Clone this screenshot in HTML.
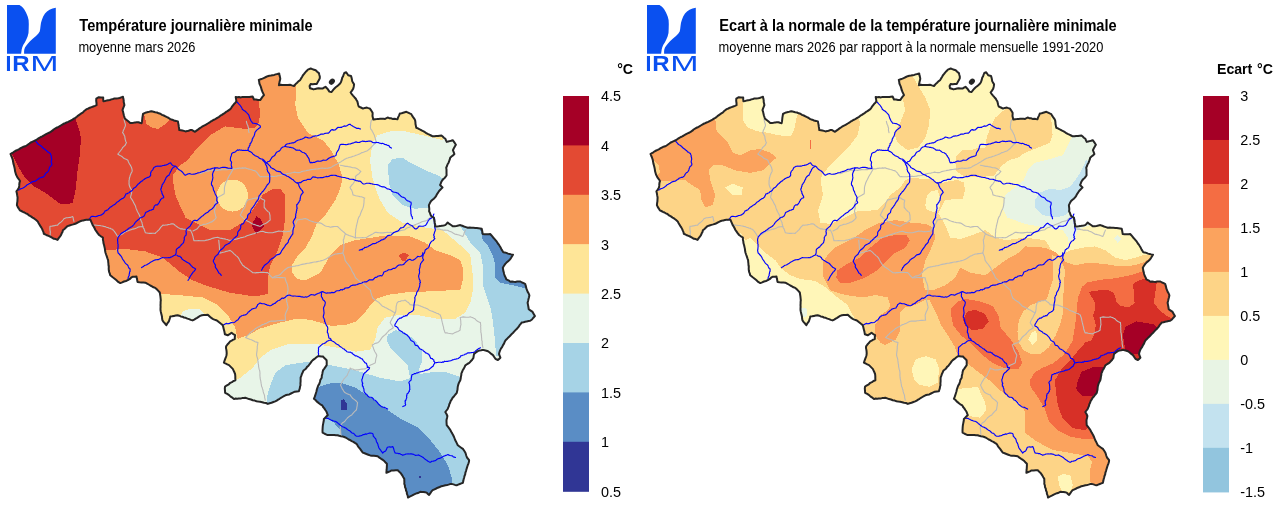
<!DOCTYPE html>
<html><head><meta charset="utf-8"><title>IRM - Température journalière minimale</title>
<style>html,body{margin:0;padding:0;background:#fff;}body{width:1280px;height:507px;overflow:hidden;}svg{display:block;}</style>
</head><body>
<svg width="1280" height="507" viewBox="0 0 1280 507"><rect width="1280" height="507" fill="#fff"/><g transform="translate(0,0)" fill="#0a50f0"><path d="M7.0,5.0 L19.5,5.0 L22.0,6.8 L24.0,9.0 L26.0,12.5 L27.7,16.5 L28.6,20.0 L28.8,24.0 L28.7,28.5 L28.5,33.0 L27.6,36.5 L26.2,39.7 L24.8,42.5 L23.2,45.0 L22.3,47.2 L21.7,49.5 L21.1,53.8 L7.0,53.8Z"/><path d="M55.8,7.8 L55.8,53.8 L24.1,53.8 L24.1,51.3 L24.3,49.5 L25.0,47.5 L26.2,45.7 L28.0,43.4 L30.0,41.2 L33.0,38.6 L36.0,36.0 L38.2,33.8 L39.7,31.5 L40.2,29.0 L40.5,26.2 L41.0,22.7 L42.0,19.5 L43.3,16.3 L45.0,13.5 L47.0,11.4 L49.5,9.7 L52.5,8.5Z"/><text x="5.46" y="70.9" font-family="'Liberation Sans', Arial, Helvetica, sans-serif" font-size="21.5px" font-weight="bold">I</text><text transform="translate(12.19,70.9) scale(1.118,1)" font-family="'Liberation Sans', Arial, Helvetica, sans-serif" font-size="21.5px" font-weight="bold">R</text><text transform="translate(30.31,70.9) scale(1.58,1)" font-family="'Liberation Sans', Arial, Helvetica, sans-serif" font-size="21.5px">M</text></g><g transform="translate(640,0)" fill="#0a50f0"><path d="M7.0,5.0 L19.5,5.0 L22.0,6.8 L24.0,9.0 L26.0,12.5 L27.7,16.5 L28.6,20.0 L28.8,24.0 L28.7,28.5 L28.5,33.0 L27.6,36.5 L26.2,39.7 L24.8,42.5 L23.2,45.0 L22.3,47.2 L21.7,49.5 L21.1,53.8 L7.0,53.8Z"/><path d="M55.8,7.8 L55.8,53.8 L24.1,53.8 L24.1,51.3 L24.3,49.5 L25.0,47.5 L26.2,45.7 L28.0,43.4 L30.0,41.2 L33.0,38.6 L36.0,36.0 L38.2,33.8 L39.7,31.5 L40.2,29.0 L40.5,26.2 L41.0,22.7 L42.0,19.5 L43.3,16.3 L45.0,13.5 L47.0,11.4 L49.5,9.7 L52.5,8.5Z"/><text x="5.46" y="70.9" font-family="'Liberation Sans', Arial, Helvetica, sans-serif" font-size="21.5px" font-weight="bold">I</text><text transform="translate(12.19,70.9) scale(1.118,1)" font-family="'Liberation Sans', Arial, Helvetica, sans-serif" font-size="21.5px" font-weight="bold">R</text><text transform="translate(30.31,70.9) scale(1.58,1)" font-family="'Liberation Sans', Arial, Helvetica, sans-serif" font-size="21.5px">M</text></g><text transform="translate(79.3,31.0) scale(1,1.107)" font-family="'Liberation Sans', Arial, Helvetica, sans-serif" font-size="14.6px" font-weight="bold" fill="#000">Température journalière minimale</text><text transform="translate(78.4,51.8) scale(1,1.07)" font-family="'Liberation Sans', Arial, Helvetica, sans-serif" font-size="12.85px" fill="#000">moyenne mars 2026</text><text transform="translate(719.3,31.0) scale(1,1.107)" font-family="'Liberation Sans', Arial, Helvetica, sans-serif" font-size="14.6px" font-weight="bold" fill="#000">Ecart à la normale de la température journalière minimale</text><text transform="translate(718.6,51.8) scale(1,1.07)" font-family="'Liberation Sans', Arial, Helvetica, sans-serif" font-size="12.85px" fill="#000">moyenne mars 2026 par rapport à la normale mensuelle 1991-2020</text><g transform="translate(0,0)"><clipPath id="clipL"><path d="M10.5,154.0 L11.9,153.1 L13.4,152.3 L14.7,151.3 L16.2,150.5 L17.7,149.9 L19.2,149.1 L20.6,148.2 L22.1,147.5 L23.5,146.7 L25.2,146.3 L26.6,145.5 L28.0,144.5 L29.4,143.5 L30.7,142.5 L32.2,141.8 L33.7,141.1 L35.3,140.5 L36.7,139.6 L38.0,138.7 L39.4,137.8 L40.8,137.0 L42.3,136.3 L43.8,135.5 L45.2,134.7 L46.6,133.9 L48.1,133.2 L49.6,132.5 L51.0,131.6 L52.4,130.7 L53.6,129.5 L55.0,128.7 L56.4,127.8 L58.0,127.2 L59.4,126.4 L60.8,125.5 L62.2,124.7 L63.6,123.8 L65.1,123.2 L66.6,122.5 L68.2,121.9 L69.6,121.1 L71.1,120.3 L72.5,119.6 L73.9,118.7 L75.4,117.9 L76.8,116.8 L78.2,115.6 L79.6,114.6 L81.1,113.5 L82.7,112.7 L83.9,111.3 L85.2,110.2 L86.7,109.1 L88.4,108.5 L89.9,107.7 L91.6,107.1 L93.3,106.5 L95.0,105.9 L96.6,105.2 L96.5,103.0 L96.2,100.8 L96.3,98.6 L98.8,97.2 L101.0,97.4 L103.2,97.6 L103.2,99.5 L103.4,101.2 L104.9,101.0 L106.5,100.6 L108.2,100.3 L109.8,100.0 L111.4,99.4 L113.0,99.0 L114.6,98.4 L116.3,98.5 L118.0,98.3 L119.6,98.0 L121.2,97.4 L123.0,96.8 L123.3,98.6 L123.7,100.3 L123.7,102.0 L124.1,103.5 L124.4,105.1 L123.8,106.7 L123.1,108.4 L122.5,110.1 L123.1,111.9 L123.5,113.7 L123.9,115.5 L124.5,117.3 L125.2,118.9 L127.0,120.2 L128.6,121.5 L130.2,122.9 L131.9,123.0 L133.5,122.8 L135.2,122.4 L136.8,122.3 L138.4,122.3 L139.9,122.8 L141.6,123.2 L142.0,121.4 L142.2,119.5 L142.4,117.6 L142.7,115.8 L143.0,114.0 L144.5,113.2 L146.2,112.4 L148.0,112.1 L149.8,111.6 L151.6,111.3 L153.4,111.7 L155.2,112.2 L157.0,112.5 L158.7,113.3 L160.4,113.8 L162.0,114.9 L163.8,115.5 L165.4,116.3 L167.1,117.2 L168.7,118.0 L170.3,119.1 L172.2,119.7 L174.0,120.5 L175.9,120.9 L177.9,121.4 L178.2,123.1 L178.6,124.9 L178.8,126.7 L179.1,128.4 L179.3,130.1 L180.9,130.2 L182.4,130.5 L183.9,130.9 L185.5,131.4 L187.1,131.1 L188.6,130.7 L190.1,130.1 L191.7,129.9 L193.3,130.8 L195.0,131.8 L196.5,130.6 L197.9,129.6 L199.2,128.6 L200.6,127.7 L202.0,126.7 L203.5,125.9 L205.0,125.2 L206.4,124.4 L207.8,123.5 L209.2,122.7 L210.5,121.7 L212.0,120.9 L213.3,120.0 L214.8,119.3 L216.2,118.5 L217.7,117.7 L219.1,116.8 L220.4,115.7 L221.9,114.9 L223.3,113.9 L224.7,113.1 L226.0,111.9 L227.5,111.1 L228.9,110.1 L230.3,109.1 L231.3,107.8 L232.2,106.4 L233.2,105.1 L234.2,103.8 L235.4,102.7 L236.4,101.4 L236.1,99.3 L235.7,97.1 L237.4,97.3 L239.0,97.1 L240.8,97.4 L242.4,97.0 L244.2,97.0 L245.9,96.9 L247.6,97.0 L249.3,97.0 L250.9,96.7 L252.6,96.5 L253.3,98.0 L254.0,99.5 L256.0,99.6 L258.1,99.9 L260.2,100.1 L261.4,98.4 L262.6,96.7 L264.0,95.1 L263.2,93.4 L262.4,91.7 L261.7,90.0 L261.3,88.4 L260.8,86.7 L260.1,85.1 L259.4,83.5 L259.2,81.7 L258.8,79.9 L260.7,79.2 L262.5,78.6 L264.2,77.8 L265.9,77.0 L267.7,76.2 L269.3,75.7 L270.9,75.5 L272.5,75.2 L274.2,74.9 L275.7,74.4 L277.4,74.0 L279.2,73.5 L279.5,75.4 L280.0,77.1 L280.3,78.8 L279.9,80.4 L279.5,81.9 L279.3,83.5 L278.9,85.2 L280.9,84.8 L282.5,84.9 L284.3,84.9 L286.0,84.9 L287.8,84.9 L290.0,84.8 L291.9,85.4 L294.0,86.0 L295.4,84.3 L297.1,82.8 L298.4,81.4 L300.0,80.2 L301.1,78.4 L302.0,77.0 L302.8,75.5 L303.9,74.2 L304.9,72.9 L306.4,71.2 L307.9,69.6 L310.7,68.5 L312.3,69.1 L314.0,69.7 L315.7,70.3 L317.2,71.8 L318.9,73.1 L319.3,74.8 L319.8,76.5 L319.8,78.2 L319.1,79.8 L318.2,81.3 L316.7,83.9 L314.7,84.0 L312.7,84.2 L310.6,84.1 L309.6,86.0 L310.0,88.2 L311.8,88.8 L313.7,89.4 L315.3,88.9 L317.0,88.6 L318.6,88.3 L320.6,88.5 L322.5,88.6 L324.0,87.7 L325.5,86.8 L327.4,88.7 L328.4,90.1 L329.4,91.6 L331.4,92.1 L332.4,90.9 L333.4,89.6 L334.7,88.2 L336.0,87.0 L337.6,85.9 L338.8,84.7 L340.1,83.5 L341.0,82.0 L341.7,79.9 L342.2,77.8 L343.1,76.2 L343.7,74.5 L344.3,73.0 L346.2,72.3 L347.2,73.8 L348.2,75.3 L351.0,75.9 L351.5,77.6 L351.9,79.3 L352.2,81.1 L353.0,82.6 L354.1,84.2 L353.8,86.4 L353.2,88.7 L352.0,90.6 L350.6,92.5 L351.8,94.1 L353.0,95.6 L354.4,97.2 L355.8,98.7 L356.6,100.2 L357.4,101.6 L357.8,103.2 L358.2,105.0 L358.8,106.6 L360.9,107.5 L363.0,108.6 L364.9,107.9 L366.9,107.6 L368.4,108.1 L369.8,108.5 L370.8,109.9 L371.7,111.2 L372.6,112.7 L372.6,114.4 L372.5,116.0 L372.9,117.8 L373.3,119.6 L375.2,119.2 L376.8,119.1 L378.5,118.9 L380.1,118.8 L381.8,118.8 L383.4,118.8 L385.1,118.9 L387.6,117.5 L389.3,118.2 L390.9,118.3 L392.5,118.9 L394.3,118.8 L395.9,119.1 L397.4,119.3 L398.1,117.4 L399.0,115.6 L399.8,113.6 L401.6,113.3 L403.2,112.8 L404.8,112.3 L406.4,111.8 L408.1,112.6 L409.7,113.4 L411.3,114.1 L412.1,115.6 L413.1,117.1 L414.2,118.6 L415.1,120.2 L415.4,122.1 L415.5,124.0 L415.9,125.9 L416.3,127.8 L417.9,128.4 L419.3,129.2 L420.7,129.8 L422.1,130.7 L423.6,131.4 L425.0,132.2 L426.3,133.1 L427.7,133.9 L429.4,134.7 L431.1,135.5 L432.7,136.3 L434.5,136.3 L436.2,136.1 L438.0,136.0 L439.7,135.7 L441.4,135.5 L442.7,136.6 L443.9,137.7 L445.4,138.8 L446.0,140.4 L446.7,141.9 L448.1,141.5 L449.6,141.1 L451.1,140.7 L452.7,140.2 L453.8,141.7 L454.9,143.2 L455.9,144.7 L455.1,146.0 L454.3,147.4 L453.6,148.8 L452.9,150.2 L453.7,152.1 L454.4,154.1 L453.0,155.4 L451.5,156.5 L450.2,157.7 L449.8,159.4 L449.2,161.0 L448.6,162.7 L447.6,164.2 L447.0,166.0 L446.2,167.7 L446.5,169.7 L446.5,171.6 L446.5,173.4 L446.6,175.3 L445.7,176.7 L444.7,177.9 L443.4,179.0 L442.3,180.2 L441.4,181.7 L440.8,183.4 L440.1,185.0 L441.3,186.3 L442.5,187.5 L441.4,188.6 L440.3,189.7 L439.2,190.9 L438.3,192.2 L437.4,193.6 L436.3,195.6 L435.1,197.4 L433.8,198.7 L432.5,199.8 L431.1,201.1 L429.9,203.1 L428.9,205.1 L429.1,207.2 L429.3,209.2 L429.1,211.3 L430.0,212.9 L430.5,214.7 L431.4,216.3 L433.9,217.6 L434.1,219.4 L434.6,221.1 L434.8,222.9 L435.2,224.5 L435.1,226.5 L436.8,226.4 L438.6,226.3 L440.2,226.1 L441.9,225.7 L443.6,225.5 L445.2,225.1 L446.5,223.9 L447.7,222.5 L449.4,223.9 L451.1,225.0 L452.7,226.3 L454.6,226.2 L456.5,225.9 L458.4,225.5 L460.3,225.1 L462.2,225.8 L464.0,226.5 L465.9,227.1 L467.8,227.7 L469.7,227.6 L471.6,227.7 L473.4,227.8 L475.3,227.9 L476.8,228.1 L478.4,228.3 L480.1,228.5 L481.7,228.8 L482.1,230.5 L482.4,232.2 L482.7,234.0 L484.6,234.2 L486.6,234.2 L488.4,234.2 L490.2,234.0 L491.3,235.2 L492.3,236.4 L493.3,237.7 L494.4,238.8 L495.5,240.1 L496.8,241.7 L497.9,243.5 L499.2,245.1 L500.0,246.6 L500.9,248.1 L501.6,249.6 L502.5,250.9 L503.3,252.2 L504.8,252.5 L506.4,252.9 L508.0,253.6 L509.6,254.0 L511.2,254.4 L513.0,254.7 L512.1,256.1 L511.3,257.5 L510.4,258.9 L509.2,260.2 L507.8,261.4 L506.5,262.6 L505.3,263.9 L504.0,265.8 L502.8,267.7 L503.1,269.3 L503.3,270.9 L503.8,272.4 L504.1,274.0 L504.7,275.8 L505.6,277.4 L506.3,279.3 L508.5,280.3 L510.3,281.7 L512.0,281.6 L513.7,281.8 L515.4,281.9 L517.1,281.6 L518.7,281.6 L520.4,281.5 L522.0,282.5 L523.7,283.2 L525.3,284.1 L525.6,285.6 L526.1,287.1 L526.4,288.7 L527.0,290.2 L527.7,291.9 L528.7,293.5 L529.4,295.3 L529.0,297.2 L528.5,299.0 L528.1,300.9 L527.6,302.8 L528.0,304.9 L528.4,307.0 L528.7,309.2 L530.7,310.6 L532.6,311.9 L533.7,313.9 L534.9,316.1 L533.4,317.7 L532.0,319.5 L530.2,320.8 L528.5,321.1 L526.8,321.4 L525.1,321.8 L523.5,322.2 L521.7,322.6 L520.7,323.9 L519.6,325.2 L518.8,326.6 L517.7,327.8 L516.7,329.0 L515.5,330.1 L514.3,331.4 L513.1,332.7 L511.8,333.9 L510.6,335.2 L509.4,336.5 L508.1,337.7 L506.9,339.1 L505.6,340.3 L504.7,341.8 L504.0,343.6 L503.0,345.1 L502.2,346.9 L501.1,348.4 L500.2,350.1 L499.5,352.0 L499.0,353.9 L499.7,355.8 L500.4,357.7 L499.1,358.9 L497.9,360.0 L495.4,358.8 L494.2,357.0 L493.0,355.1 L491.3,353.9 L489.7,352.5 L488.0,351.3 L486.4,350.7 L484.6,350.3 L482.9,349.9 L481.2,350.3 L479.4,350.6 L477.8,351.1 L475.9,352.5 L474.1,353.9 L473.7,355.9 L473.4,358.0 L472.2,359.7 L470.7,361.3 L469.3,362.9 L467.3,364.0 L465.4,365.3 L464.6,367.0 L463.8,368.6 L462.7,370.2 L462.2,371.8 L461.4,373.4 L461.3,375.1 L460.9,376.8 L460.7,378.5 L460.3,380.2 L459.5,381.7 L458.8,383.2 L458.2,384.9 L457.8,386.5 L457.6,388.1 L457.5,389.7 L457.1,391.3 L456.8,392.9 L455.4,394.5 L454.1,396.2 L452.6,397.7 L451.8,399.4 L450.7,400.9 L450.1,402.7 L449.3,404.2 L449.0,405.9 L448.3,407.4 L447.7,409.0 L446.5,410.5 L445.3,412.0 L446.5,414.0 L447.4,416.0 L447.0,418.0 L446.5,420.0 L446.5,421.7 L446.6,423.4 L446.7,425.1 L447.9,426.7 L449.2,428.4 L450.4,430.1 L451.2,431.8 L452.2,433.4 L453.1,435.0 L453.9,436.7 L454.6,438.5 L455.3,440.3 L456.2,441.9 L457.0,443.6 L457.8,445.3 L459.5,446.5 L461.2,447.7 L462.9,448.9 L464.2,450.8 L465.4,452.7 L465.9,454.3 L466.4,456.0 L467.0,457.5 L468.1,458.8 L469.1,460.2 L469.0,461.8 L468.5,463.3 L467.9,464.8 L467.4,466.3 L466.9,467.9 L466.4,469.5 L466.0,471.1 L465.4,472.7 L465.2,474.4 L464.5,476.0 L464.1,477.7 L463.6,479.4 L463.3,481.1 L462.9,482.8 L461.4,483.4 L459.8,484.0 L458.2,484.6 L456.7,485.2 L455.0,484.9 L453.4,484.4 L451.7,483.9 L450.1,484.1 L448.5,484.6 L447.0,485.0 L445.4,485.3 L443.5,485.8 L441.5,486.2 L439.7,487.0 L437.8,487.7 L436.2,488.5 L434.5,489.3 L432.7,490.1 L431.3,491.7 L430.2,493.4 L429.1,495.0 L427.9,494.0 L426.7,492.6 L425.1,492.2 L423.5,491.9 L421.9,491.9 L420.3,491.8 L418.7,492.7 L417.0,493.2 L415.3,493.9 L413.7,494.6 L412.3,495.4 L410.7,496.2 L409.3,496.8 L408.0,497.5 L407.7,495.6 L406.9,493.9 L406.8,492.1 L406.0,490.5 L405.8,488.8 L405.0,487.1 L404.9,485.4 L404.3,483.9 L404.4,482.2 L404.3,480.6 L404.3,478.9 L403.3,477.3 L402.4,475.6 L401.4,474.1 L400.3,472.7 L399.0,471.6 L397.8,470.3 L395.7,470.3 L393.6,470.5 L391.5,470.4 L389.9,471.3 L388.2,472.0 L386.4,472.8 L386.5,471.0 L386.7,469.2 L386.8,467.5 L386.9,465.7 L386.9,463.8 L385.6,462.5 L384.3,461.1 L382.9,459.9 L381.1,458.8 L379.4,457.6 L377.7,456.3 L375.9,456.0 L373.9,455.8 L372.0,455.7 L370.2,455.4 L368.3,454.7 L366.4,454.0 L364.6,453.3 L362.8,452.6 L361.5,450.8 L360.1,448.9 L358.8,447.3 L357.6,445.6 L356.5,443.8 L354.9,442.8 L353.4,441.8 L351.7,441.1 L350.2,440.2 L348.7,439.5 L347.2,438.5 L345.8,437.7 L344.2,437.0 L342.6,436.4 L340.9,436.2 L339.2,435.8 L337.6,435.2 L335.9,435.2 L334.3,435.0 L332.6,435.1 L330.9,434.9 L329.3,434.9 L327.6,435.1 L325.9,434.3 L324.2,433.5 L322.6,432.6 L322.5,430.8 L322.6,428.9 L322.7,427.0 L322.9,425.1 L323.2,423.6 L323.5,422.0 L323.8,420.5 L323.9,418.9 L325.3,417.7 L326.4,416.4 L327.8,415.1 L327.1,413.4 L326.4,411.5 L325.3,410.0 L324.3,408.4 L323.1,407.0 L322.3,405.4 L320.3,404.3 L318.6,402.9 L316.9,401.6 L315.5,400.0 L313.9,398.8 L314.7,396.9 L315.3,395.1 L315.9,393.2 L316.5,391.3 L316.9,389.3 L317.5,387.5 L318.2,385.6 L319.3,383.9 L319.9,382.0 L320.3,380.1 L321.7,377.7 L321.8,375.7 L322.3,373.9 L322.6,372.1 L323.1,370.2 L324.3,368.6 L325.5,366.9 L326.7,365.2 L326.7,363.5 L326.7,361.9 L326.6,360.2 L325.4,359.0 L324.1,357.8 L323.0,356.5 L321.3,356.4 L319.6,356.2 L317.9,356.2 L316.2,357.5 L314.5,358.9 L312.8,360.1 L311.6,361.4 L310.6,362.9 L309.5,364.3 L308.5,365.8 L307.1,366.9 L306.1,368.4 L304.9,369.5 L303.5,370.5 L302.7,372.3 L301.9,374.0 L301.3,375.9 L300.6,377.7 L300.6,379.6 L300.6,381.4 L300.4,383.3 L300.5,385.2 L300.0,386.8 L299.8,388.4 L299.3,389.8 L298.9,391.3 L296.8,391.4 L294.8,391.7 L292.8,392.6 L291.0,393.5 L289.3,394.4 L287.3,394.8 L285.4,395.3 L283.9,396.1 L282.4,397.0 L281.0,397.8 L279.6,398.8 L278.1,399.6 L276.7,400.6 L275.2,401.4 L273.4,402.0 L271.5,402.7 L269.6,403.2 L267.8,403.9 L266.0,403.0 L264.1,402.7 L262.2,402.2 L260.2,401.8 L258.3,401.6 L256.5,401.2 L254.7,400.6 L252.8,400.2 L251.0,399.5 L249.0,399.1 L247.2,398.4 L245.3,397.8 L243.7,398.0 L242.1,398.1 L240.5,398.6 L238.8,398.4 L237.2,398.7 L235.6,398.5 L234.0,399.1 L232.4,397.7 L230.6,396.6 L229.1,395.1 L227.2,393.9 L225.1,392.8 L225.0,390.8 L224.8,388.5 L225.1,386.5 L226.9,385.3 L228.8,384.3 L230.3,382.8 L232.0,382.1 L233.5,381.0 L235.4,380.3 L235.3,378.2 L235.3,376.1 L235.1,374.0 L234.4,372.3 L233.6,370.6 L232.8,368.9 L231.5,367.6 L230.3,366.4 L229.0,365.1 L227.3,364.4 L225.7,363.5 L223.9,362.7 L224.5,360.8 L225.2,358.9 L225.9,357.1 L226.5,355.2 L226.7,353.5 L226.6,351.7 L226.4,349.9 L226.0,348.1 L226.1,346.3 L227.4,344.5 L228.9,343.0 L230.1,341.3 L231.7,340.6 L233.2,339.7 L234.8,339.0 L234.8,337.0 L235.1,335.1 L233.2,334.1 L231.5,332.7 L229.6,334.2 L227.7,335.3 L224.9,334.3 L224.5,332.1 L224.0,330.1 L223.6,328.4 L223.2,326.7 L222.7,325.1 L221.0,323.8 L219.4,322.5 L217.8,321.2 L216.2,320.2 L214.4,319.6 L212.7,318.8 L211.0,317.7 L209.4,316.2 L207.8,314.7 L205.8,314.9 L203.8,315.0 L201.9,315.3 L200.1,315.9 L198.6,316.8 L197.1,317.8 L195.7,318.6 L194.2,319.6 L192.6,320.4 L190.8,319.9 L189.1,319.1 L187.4,318.6 L185.7,317.8 L183.9,317.5 L182.4,316.7 L180.7,316.4 L179.2,315.7 L177.6,315.2 L175.7,315.5 L173.9,315.9 L172.1,316.3 L170.3,316.5 L169.9,318.1 L169.4,319.7 L168.9,321.3 L167.5,323.2 L166.3,325.1 L165.0,323.5 L163.5,321.9 L162.4,320.2 L162.1,318.5 L162.0,316.7 L161.6,315.0 L161.2,313.4 L160.8,311.7 L160.5,310.0 L160.5,308.4 L160.6,306.8 L160.5,305.1 L160.6,303.5 L160.6,301.9 L160.8,300.3 L160.6,298.4 L160.4,296.4 L160.1,294.5 L159.8,292.5 L158.3,290.9 L156.8,289.3 L155.3,287.9 L153.5,287.3 L152.0,286.3 L150.3,285.5 L148.7,284.5 L147.1,283.6 L145.4,282.7 L143.5,282.6 L141.5,282.5 L139.5,282.3 L137.5,281.9 L137.2,280.0 L136.8,278.3 L136.5,276.6 L134.7,276.7 L132.9,276.7 L131.1,277.7 L129.6,279.2 L127.8,280.2 L126.0,281.0 L124.0,281.5 L122.2,282.4 L120.3,283.1 L118.2,281.9 L116.5,280.3 L115.3,279.3 L114.0,278.2 L112.7,277.3 L111.5,276.3 L110.2,275.3 L109.8,273.6 L109.1,271.9 L108.8,270.2 L108.7,268.5 L108.8,266.8 L108.5,265.2 L108.4,263.5 L108.2,261.8 L108.1,260.1 L107.4,258.3 L106.8,256.4 L106.1,254.5 L105.5,252.7 L105.1,250.8 L104.9,248.9 L104.5,247.1 L104.1,245.2 L103.5,243.3 L103.3,241.4 L102.9,239.6 L102.9,237.5 L100.9,236.3 L99.1,235.0 L97.8,233.4 L96.6,231.7 L95.4,230.0 L94.6,228.3 L93.8,226.7 L92.7,225.1 L92.0,223.4 L91.2,221.6 L90.4,219.7 L88.4,219.8 L86.5,219.8 L84.9,220.1 L83.3,220.4 L81.7,220.8 L80.1,221.3 L78.5,222.1 L76.8,223.0 L75.2,223.8 L73.3,224.4 L71.4,224.9 L69.5,225.5 L67.6,226.1 L66.0,227.6 L64.5,229.0 L62.9,230.3 L62.5,231.9 L61.7,233.3 L61.1,234.9 L60.1,236.3 L58.7,238.1 L57.5,239.9 L55.8,239.1 L53.9,238.8 L52.0,237.6 L50.0,236.5 L48.5,235.9 L46.9,235.3 L45.5,234.5 L43.9,233.9 L43.5,232.2 L42.8,230.7 L42.2,229.1 L41.4,227.6 L40.4,226.1 L39.4,224.5 L38.5,223.0 L37.7,221.4 L36.1,220.0 L34.4,218.7 L32.6,217.6 L30.9,216.4 L29.0,215.4 L27.5,214.0 L25.9,213.3 L24.5,212.5 L22.9,211.8 L21.4,211.0 L19.8,210.3 L18.8,208.6 L17.7,206.9 L16.9,205.1 L17.1,203.2 L17.4,201.3 L17.5,199.4 L17.6,197.5 L17.2,195.4 L16.9,193.4 L16.4,191.3 L17.8,189.5 L19.0,187.5 L19.2,185.9 L19.3,184.2 L19.5,182.6 L20.0,181.0 L18.9,179.3 L17.6,177.7 L16.8,176.1 L16.0,174.5 L15.5,172.7 L15.0,171.0 L14.8,169.1 L14.4,167.2 L13.9,165.3 L13.4,163.6 L13.1,161.8 L12.8,160.0 L12.3,158.5 L11.8,157.0 L11.1,155.5Z"/></clipPath><g clip-path="url(#clipL)" shape-rendering="crispEdges"><path d="M10.5,154.0 L11.9,153.1 L13.4,152.3 L14.7,151.3 L16.2,150.5 L17.7,149.9 L19.2,149.1 L20.6,148.2 L22.1,147.5 L23.5,146.7 L25.2,146.3 L26.6,145.5 L28.0,144.5 L29.4,143.5 L30.7,142.5 L32.2,141.8 L33.7,141.1 L35.3,140.5 L36.7,139.6 L38.0,138.7 L39.4,137.8 L40.8,137.0 L42.3,136.3 L43.8,135.5 L45.2,134.7 L46.6,133.9 L48.1,133.2 L49.6,132.5 L51.0,131.6 L52.4,130.7 L53.6,129.5 L55.0,128.7 L56.4,127.8 L58.0,127.2 L59.4,126.4 L60.8,125.5 L62.2,124.7 L63.6,123.8 L65.1,123.2 L66.6,122.5 L68.2,121.9 L69.6,121.1 L71.1,120.3 L72.5,119.6 L73.9,118.7 L75.4,117.9 L76.8,116.8 L78.2,115.6 L79.6,114.6 L81.1,113.5 L82.7,112.7 L83.9,111.3 L85.2,110.2 L86.7,109.1 L88.4,108.5 L89.9,107.7 L91.6,107.1 L93.3,106.5 L95.0,105.9 L96.6,105.2 L96.5,103.0 L96.2,100.8 L96.3,98.6 L98.8,97.2 L101.0,97.4 L103.2,97.6 L103.2,99.5 L103.4,101.2 L104.9,101.0 L106.5,100.6 L108.2,100.3 L109.8,100.0 L111.4,99.4 L113.0,99.0 L114.6,98.4 L116.3,98.5 L118.0,98.3 L119.6,98.0 L121.2,97.4 L123.0,96.8 L123.3,98.6 L123.7,100.3 L123.7,102.0 L124.1,103.5 L124.4,105.1 L123.8,106.7 L123.1,108.4 L122.5,110.1 L123.1,111.9 L123.5,113.7 L123.9,115.5 L124.5,117.3 L125.2,118.9 L127.0,120.2 L128.6,121.5 L130.2,122.9 L131.9,123.0 L133.5,122.8 L135.2,122.4 L136.8,122.3 L138.4,122.3 L139.9,122.8 L141.6,123.2 L142.0,121.4 L142.2,119.5 L142.4,117.6 L142.7,115.8 L143.0,114.0 L144.5,113.2 L146.2,112.4 L148.0,112.1 L149.8,111.6 L151.6,111.3 L153.4,111.7 L155.2,112.2 L157.0,112.5 L158.7,113.3 L160.4,113.8 L162.0,114.9 L163.8,115.5 L165.4,116.3 L167.1,117.2 L168.7,118.0 L170.3,119.1 L172.2,119.7 L174.0,120.5 L175.9,120.9 L177.9,121.4 L178.2,123.1 L178.6,124.9 L178.8,126.7 L179.1,128.4 L179.3,130.1 L180.9,130.2 L182.4,130.5 L183.9,130.9 L185.5,131.4 L187.1,131.1 L188.6,130.7 L190.1,130.1 L191.7,129.9 L193.3,130.8 L195.0,131.8 L196.5,130.6 L197.9,129.6 L199.2,128.6 L200.6,127.7 L202.0,126.7 L203.5,125.9 L205.0,125.2 L206.4,124.4 L207.8,123.5 L209.2,122.7 L210.5,121.7 L212.0,120.9 L213.3,120.0 L214.8,119.3 L216.2,118.5 L217.7,117.7 L219.1,116.8 L220.4,115.7 L221.9,114.9 L223.3,113.9 L224.7,113.1 L226.0,111.9 L227.5,111.1 L228.9,110.1 L230.3,109.1 L231.3,107.8 L232.2,106.4 L233.2,105.1 L234.2,103.8 L235.4,102.7 L236.4,101.4 L236.1,99.3 L235.7,97.1 L237.4,97.3 L239.0,97.1 L240.8,97.4 L242.4,97.0 L244.2,97.0 L245.9,96.9 L247.6,97.0 L249.3,97.0 L250.9,96.7 L252.6,96.5 L253.3,98.0 L254.0,99.5 L256.0,99.6 L258.1,99.9 L260.2,100.1 L261.4,98.4 L262.6,96.7 L264.0,95.1 L263.2,93.4 L262.4,91.7 L261.7,90.0 L261.3,88.4 L260.8,86.7 L260.1,85.1 L259.4,83.5 L259.2,81.7 L258.8,79.9 L260.7,79.2 L262.5,78.6 L264.2,77.8 L265.9,77.0 L267.7,76.2 L269.3,75.7 L270.9,75.5 L272.5,75.2 L274.2,74.9 L275.7,74.4 L277.4,74.0 L279.2,73.5 L279.5,75.4 L280.0,77.1 L280.3,78.8 L279.9,80.4 L279.5,81.9 L279.3,83.5 L278.9,85.2 L280.9,84.8 L282.5,84.9 L284.3,84.9 L286.0,84.9 L287.8,84.9 L290.0,84.8 L291.9,85.4 L294.0,86.0 L295.4,84.3 L297.1,82.8 L298.4,81.4 L300.0,80.2 L301.1,78.4 L302.0,77.0 L302.8,75.5 L303.9,74.2 L304.9,72.9 L306.4,71.2 L307.9,69.6 L310.7,68.5 L312.3,69.1 L314.0,69.7 L315.7,70.3 L317.2,71.8 L318.9,73.1 L319.3,74.8 L319.8,76.5 L319.8,78.2 L319.1,79.8 L318.2,81.3 L316.7,83.9 L314.7,84.0 L312.7,84.2 L310.6,84.1 L309.6,86.0 L310.0,88.2 L311.8,88.8 L313.7,89.4 L315.3,88.9 L317.0,88.6 L318.6,88.3 L320.6,88.5 L322.5,88.6 L324.0,87.7 L325.5,86.8 L327.4,88.7 L328.4,90.1 L329.4,91.6 L331.4,92.1 L332.4,90.9 L333.4,89.6 L334.7,88.2 L336.0,87.0 L337.6,85.9 L338.8,84.7 L340.1,83.5 L341.0,82.0 L341.7,79.9 L342.2,77.8 L343.1,76.2 L343.7,74.5 L344.3,73.0 L346.2,72.3 L347.2,73.8 L348.2,75.3 L351.0,75.9 L351.5,77.6 L351.9,79.3 L352.2,81.1 L353.0,82.6 L354.1,84.2 L353.8,86.4 L353.2,88.7 L352.0,90.6 L350.6,92.5 L351.8,94.1 L353.0,95.6 L354.4,97.2 L355.8,98.7 L356.6,100.2 L357.4,101.6 L357.8,103.2 L358.2,105.0 L358.8,106.6 L360.9,107.5 L363.0,108.6 L364.9,107.9 L366.9,107.6 L368.4,108.1 L369.8,108.5 L370.8,109.9 L371.7,111.2 L372.6,112.7 L372.6,114.4 L372.5,116.0 L372.9,117.8 L373.3,119.6 L375.2,119.2 L376.8,119.1 L378.5,118.9 L380.1,118.8 L381.8,118.8 L383.4,118.8 L385.1,118.9 L387.6,117.5 L389.3,118.2 L390.9,118.3 L392.5,118.9 L394.3,118.8 L395.9,119.1 L397.4,119.3 L398.1,117.4 L399.0,115.6 L399.8,113.6 L401.6,113.3 L403.2,112.8 L404.8,112.3 L406.4,111.8 L408.1,112.6 L409.7,113.4 L411.3,114.1 L412.1,115.6 L413.1,117.1 L414.2,118.6 L415.1,120.2 L415.4,122.1 L415.5,124.0 L415.9,125.9 L416.3,127.8 L417.9,128.4 L419.3,129.2 L420.7,129.8 L422.1,130.7 L423.6,131.4 L425.0,132.2 L426.3,133.1 L427.7,133.9 L429.4,134.7 L431.1,135.5 L432.7,136.3 L434.5,136.3 L436.2,136.1 L438.0,136.0 L439.7,135.7 L441.4,135.5 L442.7,136.6 L443.9,137.7 L445.4,138.8 L446.0,140.4 L446.7,141.9 L448.1,141.5 L449.6,141.1 L451.1,140.7 L452.7,140.2 L453.8,141.7 L454.9,143.2 L455.9,144.7 L455.1,146.0 L454.3,147.4 L453.6,148.8 L452.9,150.2 L453.7,152.1 L454.4,154.1 L453.0,155.4 L451.5,156.5 L450.2,157.7 L449.8,159.4 L449.2,161.0 L448.6,162.7 L447.6,164.2 L447.0,166.0 L446.2,167.7 L446.5,169.7 L446.5,171.6 L446.5,173.4 L446.6,175.3 L445.7,176.7 L444.7,177.9 L443.4,179.0 L442.3,180.2 L441.4,181.7 L440.8,183.4 L440.1,185.0 L441.3,186.3 L442.5,187.5 L441.4,188.6 L440.3,189.7 L439.2,190.9 L438.3,192.2 L437.4,193.6 L436.3,195.6 L435.1,197.4 L433.8,198.7 L432.5,199.8 L431.1,201.1 L429.9,203.1 L428.9,205.1 L429.1,207.2 L429.3,209.2 L429.1,211.3 L430.0,212.9 L430.5,214.7 L431.4,216.3 L433.9,217.6 L434.1,219.4 L434.6,221.1 L434.8,222.9 L435.2,224.5 L435.1,226.5 L436.8,226.4 L438.6,226.3 L440.2,226.1 L441.9,225.7 L443.6,225.5 L445.2,225.1 L446.5,223.9 L447.7,222.5 L449.4,223.9 L451.1,225.0 L452.7,226.3 L454.6,226.2 L456.5,225.9 L458.4,225.5 L460.3,225.1 L462.2,225.8 L464.0,226.5 L465.9,227.1 L467.8,227.7 L469.7,227.6 L471.6,227.7 L473.4,227.8 L475.3,227.9 L476.8,228.1 L478.4,228.3 L480.1,228.5 L481.7,228.8 L482.1,230.5 L482.4,232.2 L482.7,234.0 L484.6,234.2 L486.6,234.2 L488.4,234.2 L490.2,234.0 L491.3,235.2 L492.3,236.4 L493.3,237.7 L494.4,238.8 L495.5,240.1 L496.8,241.7 L497.9,243.5 L499.2,245.1 L500.0,246.6 L500.9,248.1 L501.6,249.6 L502.5,250.9 L503.3,252.2 L504.8,252.5 L506.4,252.9 L508.0,253.6 L509.6,254.0 L511.2,254.4 L513.0,254.7 L512.1,256.1 L511.3,257.5 L510.4,258.9 L509.2,260.2 L507.8,261.4 L506.5,262.6 L505.3,263.9 L504.0,265.8 L502.8,267.7 L503.1,269.3 L503.3,270.9 L503.8,272.4 L504.1,274.0 L504.7,275.8 L505.6,277.4 L506.3,279.3 L508.5,280.3 L510.3,281.7 L512.0,281.6 L513.7,281.8 L515.4,281.9 L517.1,281.6 L518.7,281.6 L520.4,281.5 L522.0,282.5 L523.7,283.2 L525.3,284.1 L525.6,285.6 L526.1,287.1 L526.4,288.7 L527.0,290.2 L527.7,291.9 L528.7,293.5 L529.4,295.3 L529.0,297.2 L528.5,299.0 L528.1,300.9 L527.6,302.8 L528.0,304.9 L528.4,307.0 L528.7,309.2 L530.7,310.6 L532.6,311.9 L533.7,313.9 L534.9,316.1 L533.4,317.7 L532.0,319.5 L530.2,320.8 L528.5,321.1 L526.8,321.4 L525.1,321.8 L523.5,322.2 L521.7,322.6 L520.7,323.9 L519.6,325.2 L518.8,326.6 L517.7,327.8 L516.7,329.0 L515.5,330.1 L514.3,331.4 L513.1,332.7 L511.8,333.9 L510.6,335.2 L509.4,336.5 L508.1,337.7 L506.9,339.1 L505.6,340.3 L504.7,341.8 L504.0,343.6 L503.0,345.1 L502.2,346.9 L501.1,348.4 L500.2,350.1 L499.5,352.0 L499.0,353.9 L499.7,355.8 L500.4,357.7 L499.1,358.9 L497.9,360.0 L495.4,358.8 L494.2,357.0 L493.0,355.1 L491.3,353.9 L489.7,352.5 L488.0,351.3 L486.4,350.7 L484.6,350.3 L482.9,349.9 L481.2,350.3 L479.4,350.6 L477.8,351.1 L475.9,352.5 L474.1,353.9 L473.7,355.9 L473.4,358.0 L472.2,359.7 L470.7,361.3 L469.3,362.9 L467.3,364.0 L465.4,365.3 L464.6,367.0 L463.8,368.6 L462.7,370.2 L462.2,371.8 L461.4,373.4 L461.3,375.1 L460.9,376.8 L460.7,378.5 L460.3,380.2 L459.5,381.7 L458.8,383.2 L458.2,384.9 L457.8,386.5 L457.6,388.1 L457.5,389.7 L457.1,391.3 L456.8,392.9 L455.4,394.5 L454.1,396.2 L452.6,397.7 L451.8,399.4 L450.7,400.9 L450.1,402.7 L449.3,404.2 L449.0,405.9 L448.3,407.4 L447.7,409.0 L446.5,410.5 L445.3,412.0 L446.5,414.0 L447.4,416.0 L447.0,418.0 L446.5,420.0 L446.5,421.7 L446.6,423.4 L446.7,425.1 L447.9,426.7 L449.2,428.4 L450.4,430.1 L451.2,431.8 L452.2,433.4 L453.1,435.0 L453.9,436.7 L454.6,438.5 L455.3,440.3 L456.2,441.9 L457.0,443.6 L457.8,445.3 L459.5,446.5 L461.2,447.7 L462.9,448.9 L464.2,450.8 L465.4,452.7 L465.9,454.3 L466.4,456.0 L467.0,457.5 L468.1,458.8 L469.1,460.2 L469.0,461.8 L468.5,463.3 L467.9,464.8 L467.4,466.3 L466.9,467.9 L466.4,469.5 L466.0,471.1 L465.4,472.7 L465.2,474.4 L464.5,476.0 L464.1,477.7 L463.6,479.4 L463.3,481.1 L462.9,482.8 L461.4,483.4 L459.8,484.0 L458.2,484.6 L456.7,485.2 L455.0,484.9 L453.4,484.4 L451.7,483.9 L450.1,484.1 L448.5,484.6 L447.0,485.0 L445.4,485.3 L443.5,485.8 L441.5,486.2 L439.7,487.0 L437.8,487.7 L436.2,488.5 L434.5,489.3 L432.7,490.1 L431.3,491.7 L430.2,493.4 L429.1,495.0 L427.9,494.0 L426.7,492.6 L425.1,492.2 L423.5,491.9 L421.9,491.9 L420.3,491.8 L418.7,492.7 L417.0,493.2 L415.3,493.9 L413.7,494.6 L412.3,495.4 L410.7,496.2 L409.3,496.8 L408.0,497.5 L407.7,495.6 L406.9,493.9 L406.8,492.1 L406.0,490.5 L405.8,488.8 L405.0,487.1 L404.9,485.4 L404.3,483.9 L404.4,482.2 L404.3,480.6 L404.3,478.9 L403.3,477.3 L402.4,475.6 L401.4,474.1 L400.3,472.7 L399.0,471.6 L397.8,470.3 L395.7,470.3 L393.6,470.5 L391.5,470.4 L389.9,471.3 L388.2,472.0 L386.4,472.8 L386.5,471.0 L386.7,469.2 L386.8,467.5 L386.9,465.7 L386.9,463.8 L385.6,462.5 L384.3,461.1 L382.9,459.9 L381.1,458.8 L379.4,457.6 L377.7,456.3 L375.9,456.0 L373.9,455.8 L372.0,455.7 L370.2,455.4 L368.3,454.7 L366.4,454.0 L364.6,453.3 L362.8,452.6 L361.5,450.8 L360.1,448.9 L358.8,447.3 L357.6,445.6 L356.5,443.8 L354.9,442.8 L353.4,441.8 L351.7,441.1 L350.2,440.2 L348.7,439.5 L347.2,438.5 L345.8,437.7 L344.2,437.0 L342.6,436.4 L340.9,436.2 L339.2,435.8 L337.6,435.2 L335.9,435.2 L334.3,435.0 L332.6,435.1 L330.9,434.9 L329.3,434.9 L327.6,435.1 L325.9,434.3 L324.2,433.5 L322.6,432.6 L322.5,430.8 L322.6,428.9 L322.7,427.0 L322.9,425.1 L323.2,423.6 L323.5,422.0 L323.8,420.5 L323.9,418.9 L325.3,417.7 L326.4,416.4 L327.8,415.1 L327.1,413.4 L326.4,411.5 L325.3,410.0 L324.3,408.4 L323.1,407.0 L322.3,405.4 L320.3,404.3 L318.6,402.9 L316.9,401.6 L315.5,400.0 L313.9,398.8 L314.7,396.9 L315.3,395.1 L315.9,393.2 L316.5,391.3 L316.9,389.3 L317.5,387.5 L318.2,385.6 L319.3,383.9 L319.9,382.0 L320.3,380.1 L321.7,377.7 L321.8,375.7 L322.3,373.9 L322.6,372.1 L323.1,370.2 L324.3,368.6 L325.5,366.9 L326.7,365.2 L326.7,363.5 L326.7,361.9 L326.6,360.2 L325.4,359.0 L324.1,357.8 L323.0,356.5 L321.3,356.4 L319.6,356.2 L317.9,356.2 L316.2,357.5 L314.5,358.9 L312.8,360.1 L311.6,361.4 L310.6,362.9 L309.5,364.3 L308.5,365.8 L307.1,366.9 L306.1,368.4 L304.9,369.5 L303.5,370.5 L302.7,372.3 L301.9,374.0 L301.3,375.9 L300.6,377.7 L300.6,379.6 L300.6,381.4 L300.4,383.3 L300.5,385.2 L300.0,386.8 L299.8,388.4 L299.3,389.8 L298.9,391.3 L296.8,391.4 L294.8,391.7 L292.8,392.6 L291.0,393.5 L289.3,394.4 L287.3,394.8 L285.4,395.3 L283.9,396.1 L282.4,397.0 L281.0,397.8 L279.6,398.8 L278.1,399.6 L276.7,400.6 L275.2,401.4 L273.4,402.0 L271.5,402.7 L269.6,403.2 L267.8,403.9 L266.0,403.0 L264.1,402.7 L262.2,402.2 L260.2,401.8 L258.3,401.6 L256.5,401.2 L254.7,400.6 L252.8,400.2 L251.0,399.5 L249.0,399.1 L247.2,398.4 L245.3,397.8 L243.7,398.0 L242.1,398.1 L240.5,398.6 L238.8,398.4 L237.2,398.7 L235.6,398.5 L234.0,399.1 L232.4,397.7 L230.6,396.6 L229.1,395.1 L227.2,393.9 L225.1,392.8 L225.0,390.8 L224.8,388.5 L225.1,386.5 L226.9,385.3 L228.8,384.3 L230.3,382.8 L232.0,382.1 L233.5,381.0 L235.4,380.3 L235.3,378.2 L235.3,376.1 L235.1,374.0 L234.4,372.3 L233.6,370.6 L232.8,368.9 L231.5,367.6 L230.3,366.4 L229.0,365.1 L227.3,364.4 L225.7,363.5 L223.9,362.7 L224.5,360.8 L225.2,358.9 L225.9,357.1 L226.5,355.2 L226.7,353.5 L226.6,351.7 L226.4,349.9 L226.0,348.1 L226.1,346.3 L227.4,344.5 L228.9,343.0 L230.1,341.3 L231.7,340.6 L233.2,339.7 L234.8,339.0 L234.8,337.0 L235.1,335.1 L233.2,334.1 L231.5,332.7 L229.6,334.2 L227.7,335.3 L224.9,334.3 L224.5,332.1 L224.0,330.1 L223.6,328.4 L223.2,326.7 L222.7,325.1 L221.0,323.8 L219.4,322.5 L217.8,321.2 L216.2,320.2 L214.4,319.6 L212.7,318.8 L211.0,317.7 L209.4,316.2 L207.8,314.7 L205.8,314.9 L203.8,315.0 L201.9,315.3 L200.1,315.9 L198.6,316.8 L197.1,317.8 L195.7,318.6 L194.2,319.6 L192.6,320.4 L190.8,319.9 L189.1,319.1 L187.4,318.6 L185.7,317.8 L183.9,317.5 L182.4,316.7 L180.7,316.4 L179.2,315.7 L177.6,315.2 L175.7,315.5 L173.9,315.9 L172.1,316.3 L170.3,316.5 L169.9,318.1 L169.4,319.7 L168.9,321.3 L167.5,323.2 L166.3,325.1 L165.0,323.5 L163.5,321.9 L162.4,320.2 L162.1,318.5 L162.0,316.7 L161.6,315.0 L161.2,313.4 L160.8,311.7 L160.5,310.0 L160.5,308.4 L160.6,306.8 L160.5,305.1 L160.6,303.5 L160.6,301.9 L160.8,300.3 L160.6,298.4 L160.4,296.4 L160.1,294.5 L159.8,292.5 L158.3,290.9 L156.8,289.3 L155.3,287.9 L153.5,287.3 L152.0,286.3 L150.3,285.5 L148.7,284.5 L147.1,283.6 L145.4,282.7 L143.5,282.6 L141.5,282.5 L139.5,282.3 L137.5,281.9 L137.2,280.0 L136.8,278.3 L136.5,276.6 L134.7,276.7 L132.9,276.7 L131.1,277.7 L129.6,279.2 L127.8,280.2 L126.0,281.0 L124.0,281.5 L122.2,282.4 L120.3,283.1 L118.2,281.9 L116.5,280.3 L115.3,279.3 L114.0,278.2 L112.7,277.3 L111.5,276.3 L110.2,275.3 L109.8,273.6 L109.1,271.9 L108.8,270.2 L108.7,268.5 L108.8,266.8 L108.5,265.2 L108.4,263.5 L108.2,261.8 L108.1,260.1 L107.4,258.3 L106.8,256.4 L106.1,254.5 L105.5,252.7 L105.1,250.8 L104.9,248.9 L104.5,247.1 L104.1,245.2 L103.5,243.3 L103.3,241.4 L102.9,239.6 L102.9,237.5 L100.9,236.3 L99.1,235.0 L97.8,233.4 L96.6,231.7 L95.4,230.0 L94.6,228.3 L93.8,226.7 L92.7,225.1 L92.0,223.4 L91.2,221.6 L90.4,219.7 L88.4,219.8 L86.5,219.8 L84.9,220.1 L83.3,220.4 L81.7,220.8 L80.1,221.3 L78.5,222.1 L76.8,223.0 L75.2,223.8 L73.3,224.4 L71.4,224.9 L69.5,225.5 L67.6,226.1 L66.0,227.6 L64.5,229.0 L62.9,230.3 L62.5,231.9 L61.7,233.3 L61.1,234.9 L60.1,236.3 L58.7,238.1 L57.5,239.9 L55.8,239.1 L53.9,238.8 L52.0,237.6 L50.0,236.5 L48.5,235.9 L46.9,235.3 L45.5,234.5 L43.9,233.9 L43.5,232.2 L42.8,230.7 L42.2,229.1 L41.4,227.6 L40.4,226.1 L39.4,224.5 L38.5,223.0 L37.7,221.4 L36.1,220.0 L34.4,218.7 L32.6,217.6 L30.9,216.4 L29.0,215.4 L27.5,214.0 L25.9,213.3 L24.5,212.5 L22.9,211.8 L21.4,211.0 L19.8,210.3 L18.8,208.6 L17.7,206.9 L16.9,205.1 L17.1,203.2 L17.4,201.3 L17.5,199.4 L17.6,197.5 L17.2,195.4 L16.9,193.4 L16.4,191.3 L17.8,189.5 L19.0,187.5 L19.2,185.9 L19.3,184.2 L19.5,182.6 L20.0,181.0 L18.9,179.3 L17.6,177.7 L16.8,176.1 L16.0,174.5 L15.5,172.7 L15.0,171.0 L14.8,169.1 L14.4,167.2 L13.9,165.3 L13.4,163.6 L13.1,161.8 L12.8,160.0 L12.3,158.5 L11.8,157.0 L11.1,155.5Z" fill="#fee597"/><path d="M0.0,40.0 L296.5,40.0 L296.5,83.8 L295.3,105.1 L297.8,117.6 L307.8,132.7 L322.9,140.2 L331.0,150.2 L339.0,165.0 L342.5,178.0 L340.4,188.0 L335.4,200.0 L325.4,215.1 L316.6,223.9 L312.0,236.0 L306.0,247.0 L297.0,257.0 L292.0,265.0 L292.5,273.0 L297.0,279.0 L305.3,280.5 L320.4,272.7 L330.4,255.2 L340.4,245.2 L355.4,240.2 L380.0,236.4 L385.1,236.4 L410.1,236.4 L425.2,242.7 L435.2,250.2 L450.2,255.2 L460.3,260.2 L462.8,267.7 L462.8,280.3 L460.3,290.3 L455.3,290.0 L430.3,291.3 L405.2,292.5 L387.8,294.8 L377.1,298.4 L370.0,305.5 L364.7,312.6 L355.8,321.5 L345.2,325.0 L331.0,325.9 L322.1,323.2 L309.7,319.7 L295.5,318.8 L277.7,323.2 L260.0,328.6 L247.8,335.1 L237.7,338.9 L235.2,327.6 L227.7,315.1 L217.7,305.0 L202.7,297.5 L177.6,295.0 L160.0,293.8 L150.0,300.0 L0.0,300.0Z" fill="#f99d59"/><path d="M0.0,60.0 L259.0,60.0 L259.0,95.0 L259.0,103.9 L260.2,112.6 L259.0,122.7 L255.2,127.7 L245.2,128.9 L225.1,126.4 L210.0,135.2 L197.5,147.7 L187.5,160.3 L180.0,165.3 L173.0,175.0 L172.9,180.0 L175.4,195.0 L180.0,206.0 L185.5,217.6 L195.0,222.6 L210.1,230.1 L230.1,230.1 L242.7,222.6 L252.7,210.1 L262.7,195.0 L272.7,188.8 L280.3,188.8 L285.3,195.0 L285.3,217.6 L282.8,235.1 L277.7,250.2 L270.2,265.2 L267.7,280.3 L267.7,294.0 L255.2,296.5 L230.1,292.8 L205.1,285.3 L192.5,280.3 L180.0,272.0 L162.9,257.7 L145.4,251.4 L125.3,248.9 L105.3,250.2 L100.0,260.0 L0.0,260.0Z" fill="#e34a33"/><path d="M142.0,108.0 L144.0,114.0 L146.6,124.0 L152.0,127.5 L157.9,129.0 L164.0,125.0 L170.4,119.0 L172.0,108.0Z" fill="#f99d59"/><path d="M70.0,100.0 L75.2,117.6 L80.2,132.7 L80.9,140.0 L79.7,155.2 L77.0,175.0 L76.0,187.0 L75.2,192.5 L72.7,202.6 L66.0,204.5 L60.2,203.8 L45.1,192.5 L35.0,187.0 L29.0,182.0 L24.0,176.0 L19.7,168.9 L16.0,162.0 L12.8,155.0 L5.0,150.0 L5.0,100.0Z" fill="#a50026"/><path d="M256.4,216.3 L251.4,225.1 L256.4,233.9 L264.0,226.4 L260.2,218.8Z" fill="#a50026"/><path d="M398.8,255.2 L403.9,252.7 L408.9,255.2 L405.1,261.5 L401.4,260.2Z" fill="#e34a33"/><path d="M442.7,120.0 L442.7,140.2 L422.7,135.2 L405.1,131.4 L390.1,131.4 L377.5,135.2 L372.5,142.7 L370.0,160.3 L372.5,177.8 L375.0,187.0 L380.0,200.0 L387.6,212.6 L402.6,222.6 L425.2,227.6 L442.7,230.1 L460.3,245.2 L470.3,255.2 L472.8,275.2 L472.9,290.0 L470.4,302.5 L465.3,312.6 L455.3,318.8 L437.8,318.8 L417.7,315.1 L397.7,315.1 L385.1,317.6 L377.6,327.6 L375.3,339.2 L370.0,349.8 L355.8,351.6 L339.8,348.1 L318.6,344.5 L304.4,343.6 L286.6,344.5 L270.3,350.2 L260.3,357.7 L252.8,367.7 L240.3,377.7 L227.7,384.0 L215.0,392.0 L215.0,520.0 L560.0,520.0 L560.0,120.0Z" fill="#e8f5e8"/><path d="M180.0,318.0 L182.6,311.3 L190.1,308.8 L200.2,309.5 L205.2,315.1 L206.0,320.0Z" fill="#e8f5e8"/><path d="M387.6,165.3 L392.6,159.0 L402.6,157.7 L410.1,162.8 L425.2,170.3 L437.7,175.3 L445.0,180.0 L450.0,190.0 L440.0,207.0 L427.7,207.6 L415.1,208.8 L402.6,205.1 L392.6,195.0 L389.5,185.0 L388.5,175.0Z" fill="#a6d3e6"/><path d="M455.0,220.0 L462.8,230.1 L470.3,242.7 L480.3,252.7 L482.8,265.2 L483.0,285.0 L487.0,297.0 L491.0,310.0 L493.0,322.0 L495.0,340.0 L496.0,356.0 L560.0,356.0 L560.0,220.0Z" fill="#a6d3e6"/><path d="M387.6,335.1 L395.2,330.1 L405.2,332.6 L415.2,340.1 L421.5,350.2 L421.5,362.7 L418.0,372.0 L410.0,378.0 L407.7,365.2 L397.7,355.2 L390.2,347.6 L386.5,340.0Z" fill="#a6d3e6"/><path d="M266.6,400.3 L268.0,392.0 L270.3,385.2 L275.3,372.7 L285.4,365.2 L300.4,362.7 L310.0,362.0 L320.0,364.0 L330.0,365.2 L355.1,370.2 L380.1,377.7 L400.2,381.5 L410.0,378.0 L416.5,370.2 L420.0,374.0 L430.0,372.5 L444.8,371.9 L458.3,376.4 L462.0,378.0 L475.0,380.0 L475.0,520.0 L260.0,520.0Z" fill="#a6d3e6"/><path d="M478.0,225.0 L481.6,233.9 L482.8,240.2 L487.8,245.2 L492.8,255.2 L495.3,265.2 L495.3,277.7 L500.4,282.8 L512.9,285.3 L522.9,287.8 L528.0,289.0 L560.0,290.0 L560.0,225.0Z" fill="#5a8dc5"/><path d="M310.0,385.0 L317.6,387.5 L327.6,383.8 L340.1,382.5 L355.2,387.5 L370.2,397.5 L387.7,410.1 L402.8,420.1 L417.8,427.6 L430.4,440.2 L440.4,452.7 L447.9,465.2 L451.7,477.7 L451.7,484.0 L452.0,520.0 L340.0,520.0 L342.0,440.0 L341.4,433.9 L340.1,430.1 L333.9,422.6 L326.3,417.6 L318.0,410.0 L310.0,400.0Z" fill="#5a8dc5"/><path d="M341.4,400.1 L343.9,398.8 L347.6,405.1 L346.4,410.1 L341.4,410.1Z" fill="#303695"/><path d="M419.3,475.5 L421.3,475.5 L421.3,477.5 L419.3,477.5Z" fill="#303695"/><ellipse cx="232.5" cy="195.5" rx="15.5" ry="16" fill="#fee597"/></g><g fill="none" stroke="#bababa" stroke-width="1.1" stroke-linejoin="round" stroke-linecap="round"><path d="M123.9,119.0 L124.3,120.6 L124.6,122.1 L125.2,123.6 L125.5,125.2 L125.2,126.5 L124.5,127.7 L124.2,129.0 L123.4,130.1 L123.1,131.4 L122.5,132.7 L123.6,133.9 L124.0,135.1 L124.8,136.2 L124.9,137.6 L125.1,139.0 L125.5,140.3 L125.8,141.5 L126.5,142.7 L125.8,143.7 L125.3,145.0 L124.4,145.9 L123.4,146.8 L122.5,147.7 L121.9,149.0 L121.1,150.0 L120.4,151.0 L119.5,152.0 L118.7,153.0 L117.8,154.0 L118.8,154.8 L120.0,155.4 L121.1,156.1 L122.3,156.8 L123.2,157.7 L124.3,158.5 L125.5,159.1 L126.7,159.6 L127.9,160.2 L128.3,161.5 L128.9,162.8 L129.5,164.0 L130.3,165.1 L130.9,166.3 L131.5,167.5 L131.9,168.9 L132.2,170.3 L132.0,171.7 L131.2,173.0 L130.7,174.2 L130.2,175.4 L129.9,176.7 L129.4,178.0 L129.3,179.4 L129.0,180.8 L129.1,182.2 L129.0,183.6 L129.2,185.0 L129.6,186.3 L130.1,187.6 L130.8,188.8 L131.8,190.0 L131.7,191.5 L131.6,193.1 L131.2,194.6 L130.8,196.0 L130.5,197.5 L131.4,198.7 L132.2,199.9 L133.0,201.2 L133.6,202.6 L134.3,203.9 L135.1,205.2 L135.6,206.4 L135.9,207.7 L136.3,208.9 L136.8,210.1 L137.4,211.4 L138.0,212.5 L138.7,213.7 L139.3,215.0 L139.9,216.3 L140.3,217.7 L140.3,219.0 L140.9,220.2 L141.4,221.4 L142.0,222.6 L142.2,223.9 L142.5,225.1 L142.9,226.4"/><path d="M92.7,225.1 L95.2,225.1 L96.6,225.3 L98.1,225.5 L99.5,225.5 L101.0,225.8 L102.4,226.0 L103.8,226.4 L105.3,226.6 L106.4,227.3 L107.7,227.5 L108.9,228.1 L110.3,228.2 L111.3,229.0 L112.6,229.2 L113.3,230.4 L114.4,231.4 L115.2,232.7 L116.1,233.9 L116.9,235.3 L117.8,236.4 L119.0,235.7 L120.2,234.9 L121.5,234.4 L122.8,233.7 L123.9,232.9 L125.0,232.0 L126.2,231.4 L127.5,231.0 L128.8,230.5 L130.1,230.0 L131.4,229.6 L132.7,229.1 L134.0,228.9 L135.3,228.4 L136.6,227.9 L137.8,227.3 L139.1,226.9 L140.4,226.7 L142.8,226.5 L143.3,227.8 L144.1,228.8 L144.4,230.1 L144.9,231.3 L145.3,232.7 L146.7,233.0 L148.2,233.3 L149.7,233.4 L151.1,233.4 L152.6,233.3 L153.9,233.3 L155.2,233.5 L156.0,232.4 L157.1,231.6 L158.1,230.5 L159.2,229.6 L160.0,228.4 L160.9,227.2 L161.9,226.2 L162.9,225.1 L164.4,225.2 L165.8,225.0 L167.2,224.9 L168.6,224.5 L170.0,224.3 L171.5,223.9 L172.9,223.7 L174.3,224.5 L175.4,225.6 L176.7,226.5 L177.9,227.4 L179.2,228.1 L180.5,228.9 L182.0,228.9 L183.4,229.2 L184.8,229.3 L186.2,229.7 L187.6,229.8 L189.0,230.2 L190.5,230.1 L191.0,231.3 L191.6,232.6 L192.2,233.8 L192.5,235.1 L193.0,236.4 L193.2,237.7 L193.6,239.1 L193.9,240.6 L195.5,240.8 L197.1,240.7 L198.6,240.6 L200.0,240.7 L201.7,240.8 L203.4,240.8 L205.1,240.6 L206.5,240.1 L207.9,239.9 L209.3,239.5 L210.7,239.1 L212.0,238.6 L213.3,238.1 L214.7,237.7 L216.2,237.5 L217.6,237.4 L219.0,237.8 L220.4,238.2 L221.8,238.4 L223.1,238.8 L224.6,238.9 L225.9,239.3 L227.4,239.5 L228.7,240.2 L230.1,240.4 L231.5,240.3 L232.9,239.8 L234.3,239.4 L235.7,239.2 L237.1,238.9 L238.5,238.5 L239.9,238.1 L241.2,237.6 L242.7,237.5 L243.9,237.0 L245.2,236.7 L246.4,236.1 L247.6,235.6 L248.8,235.2 L250.1,234.8 L251.4,234.4 L252.7,233.9 L254.2,233.8 L255.3,233.0 L256.8,232.7 L258.2,232.3 L259.7,231.8 L261.2,231.5 L262.7,231.3 L264.1,231.8 L265.5,232.4 L266.9,232.5 L268.3,232.8 L269.8,232.8 L271.3,232.8 L272.7,232.8 L274.2,232.3 L275.7,231.9 L277.2,231.5 L278.7,231.1 L280.3,231.2 L281.7,231.3 L283.2,231.7 L284.6,231.6 L286.0,231.7 L287.4,231.5 L288.9,231.4 L290.3,231.3 L291.0,230.2 L291.6,229.0 L292.4,227.9 L293.1,226.8 L294.1,225.8 L294.9,224.7 L295.7,223.6 L296.3,222.4 L296.9,221.0 L297.6,219.7 L299.2,219.6 L300.7,219.3 L302.3,219.2 L303.8,218.8 L305.3,218.6 L306.6,219.0 L307.8,219.6 L309.0,220.3 L310.2,220.8 L311.5,221.3 L312.7,221.6 L314.0,222.0 L315.3,222.3 L316.6,222.7 L318.0,222.8 L319.3,222.9 L320.7,223.1 L321.9,223.7 L323.0,224.5 L324.2,225.3 L325.4,225.9 L326.6,226.3 L328.0,226.5 L329.2,226.7 L330.4,227.2 L331.9,226.9 L333.3,226.6 L334.8,226.5 L336.4,226.5 L337.8,226.6 L338.7,227.6 L339.6,228.4 L340.5,229.4 L341.5,230.3 L342.5,231.1 L343.6,232.0 L344.6,232.8 L345.5,233.8 L346.6,234.5 L347.9,234.9 L349.1,235.5 L350.4,235.9 L351.6,236.3 L352.9,236.8 L354.1,237.3 L355.4,237.9 L356.8,237.8 L358.3,237.8 L359.7,237.7 L361.2,237.8 L362.6,237.6 L364.1,237.7 L365.5,237.6 L366.8,237.2 L368.0,236.6 L369.1,235.8 L370.3,235.3 L371.5,234.5 L372.7,233.9 L373.8,233.2 L375.0,232.4 L376.4,232.4 L377.7,232.6 L379.1,232.8 L380.5,232.9 L381.9,232.9 L383.2,232.9 L384.6,232.6 L386.0,232.5 L387.4,232.3 L388.7,232.5 L390.1,232.4 L391.5,232.6 L392.9,232.5 L394.3,232.5 L395.6,232.1 L397.0,231.8 L398.3,231.4 L399.6,230.9 L401.0,230.5 L402.3,230.3 L403.7,230.0 L405.0,229.7 L406.0,228.7 L407.1,227.9 L408.5,227.5 L409.8,227.1 L411.2,226.6 L412.3,225.8 L413.7,225.4 L414.9,224.8 L416.3,224.3 L417.6,223.8 L418.8,223.2 L420.1,222.7 L421.4,222.0 L422.7,221.5 L424.1,221.2 L425.5,220.9 L426.9,220.4 L428.0,219.4 L429.0,218.4 L430.2,217.6 L431.6,217.3 L433.0,217.1"/><path d="M50.2,236.0 L50.2,234.6 L50.2,233.3 L50.4,231.9 L50.0,230.5 L49.9,229.1 L49.9,227.7 L50.0,226.3 L51.6,226.2 L53.1,225.9 L54.6,225.6 L56.1,225.2 L57.6,225.1 L58.6,223.9 L59.7,223.0 L60.9,222.1 L62.0,221.1 L63.0,220.0 L63.9,218.7 L65.1,218.2 L66.3,217.8 L67.7,217.7 L69.0,217.5 L70.3,217.4 L71.4,217.0 L72.6,216.5 L73.1,217.5 L73.3,218.8 L73.6,220.1 L73.9,221.4"/><path d="M246.4,121.4 L246.7,122.8 L247.1,124.2 L247.8,125.5 L248.1,127.0 L248.6,128.3 L248.4,129.9 L248.7,131.3 L249.0,132.7"/><path d="M232.9,169.5 L232.1,170.9 L231.3,172.3 L230.6,173.7 L229.7,175.0 L228.8,176.5 L228.1,178.0 L227.4,179.5 L226.7,180.7 L226.1,182.0 L225.6,183.3 L225.2,184.6 L224.8,186.0 L224.5,187.4 L224.4,188.9 L224.4,190.5 L224.3,192.0 L224.2,193.7 L222.9,194.5 L221.6,195.3 L220.3,196.0 L219.1,196.6 L217.9,197.4 L217.2,198.6 L216.5,199.9 L215.8,201.2 L215.2,202.5 L214.8,203.9 L215.0,205.4 L215.2,206.8 L215.3,208.2 L214.8,209.6 L214.5,211.0 L214.7,212.3 L215.0,213.7 L215.4,215.0 L215.7,216.3 L216.2,217.7 L215.3,218.8 L214.2,220.0 L213.0,221.0 L211.9,221.9 L210.3,222.3 L209.0,223.1 L207.6,223.6 L206.2,224.1 L204.8,224.2 L203.4,224.4 L202.1,225.0 L200.7,225.4 L199.4,225.9 L198.4,227.3 L197.3,228.7 L195.9,229.5 L194.4,230.2 L193.0,231.0"/><path d="M200.0,173.7 L201.3,173.2 L202.6,172.8 L203.8,172.0 L205.2,171.8 L206.6,171.6 L207.9,171.1 L209.2,170.7 L210.5,170.2 L211.8,170.0 L213.2,170.1 L214.7,170.3 L216.1,170.2 L217.6,170.4 L219.0,169.9 L220.4,169.9 L221.7,169.6 L223.2,169.7 L224.6,169.7 L225.9,169.6 L227.4,169.6 L228.7,169.3 L230.1,169.3 L231.5,168.9 L232.9,168.9 L234.2,168.8 L235.6,168.9 L237.0,168.4 L238.3,168.4 L239.7,168.0 L241.1,168.2 L242.4,167.9 L243.8,168.1 L245.2,167.7 L246.4,168.4 L247.7,168.7 L249.0,169.1 L250.2,169.5 L251.6,169.8 L252.8,170.3 L254.2,170.6 L255.5,171.0 L256.5,172.1 L257.6,173.1 L258.2,174.5 L259.2,175.5 L260.1,176.8 L261.5,176.6 L262.9,176.7 L264.3,176.7 L265.7,176.7 L267.0,176.7 L268.4,176.5 L269.7,176.5 L271.1,176.4 L272.5,176.4 L273.8,176.5 L275.2,176.3 L276.6,176.1 L278.0,175.8 L279.4,175.7 L280.8,175.5 L282.2,175.2 L283.6,174.7 L285.0,174.3 L286.3,173.9 L287.7,173.5 L289.1,173.3 L290.5,173.2 L291.9,172.8 L293.3,172.5 L294.6,172.1 L296.2,172.5 L297.6,172.6 L299.1,172.6 L300.4,172.2 L301.7,171.6 L303.1,171.3 L304.4,171.0 L305.8,170.8 L307.1,170.4 L308.5,170.2 L309.8,169.9 L311.2,169.6 L312.6,169.5 L313.9,169.3 L315.3,169.1 L316.7,169.0 L318.1,168.9 L319.4,168.5 L320.8,168.2 L322.1,168.0 L323.5,168.2 L324.9,168.4 L326.3,168.3 L327.7,168.3 L329.0,167.9 L330.4,167.8 L331.5,167.1 L332.6,166.3 L333.8,165.7 L335.0,165.1 L336.2,164.6 L337.3,163.9 L338.4,163.2 L339.5,162.4 L340.8,161.9 L341.8,161.1 L343.0,160.5 L344.1,159.6 L345.3,159.1 L346.5,158.3 L347.8,158.0 L349.0,157.5 L350.4,157.2 L351.7,156.9 L352.9,156.3 L354.3,156.0 L355.5,155.4 L356.8,155.0 L358.2,154.5 L359.5,153.9 L360.8,153.3 L362.0,152.6 L363.4,152.3 L364.7,151.7 L366.0,151.2 L367.4,150.8 L368.5,149.7 L369.8,148.8 L370.9,147.6 L372.0,146.5 L373.0,145.4 L374.0,144.4 L375.0,143.5 L376.2,142.7 L375.9,141.2 L375.6,139.7 L375.2,138.2 L374.7,136.7 L374.4,135.3 L373.7,134.0 L373.1,132.7 L372.4,131.5 L371.8,130.2 L370.8,129.1 L370.4,127.7 L370.4,126.2 L370.7,124.7 L370.7,123.2 L371.1,121.7 L371.3,120.2 L372.5,119.6"/><path d="M340.4,165.3 L341.8,165.5 L343.1,165.8 L344.5,166.1 L345.8,166.4 L347.2,166.4 L348.6,166.7 L349.9,166.9 L351.3,167.3 L352.6,167.7 L354.0,167.7 L355.4,167.9 L356.8,168.5 L358.1,169.4 L359.4,170.4 L360.9,171.4 L359.8,172.7 L358.8,173.9 L357.5,174.6 L356.5,175.5 L355.4,176.5 L355.7,178.3 L355.6,180.1 L354.8,181.3 L353.8,182.5 L353.0,183.8 L351.9,184.9 L351.0,186.1 L350.0,187.4 L350.6,188.8 L351.6,189.9 L352.0,191.1 L352.5,192.4 L352.7,193.6 L353.0,194.9 L354.3,195.3 L355.7,195.7 L357.1,196.0 L358.5,196.3 L359.9,196.6 L361.3,196.8 L362.7,197.2 L363.8,197.7 L364.8,198.0 L364.1,198.9 L364.1,199.8 L364.0,201.1 L364.0,202.5 L363.8,203.8 L363.7,205.1 L363.4,206.4 L363.1,207.6 L362.6,208.9 L361.9,210.2 L361.4,211.5 L360.9,212.8 L360.4,214.1 L360.0,215.5 L359.2,216.6 L358.5,217.8 L358.1,219.1 L357.7,220.4 L357.5,221.8 L357.1,223.2 L356.8,224.6 L356.4,226.0 L356.2,227.4 L355.9,228.8 L355.6,230.1 L355.7,231.6 L355.5,233.1 L355.4,234.6 L355.4,236.1 L355.5,237.6"/><path d="M240.3,215.1 L240.9,213.9 L241.5,212.6 L242.2,211.4 L242.8,210.1 L243.6,208.9 L244.5,207.8 L245.1,206.6 L245.4,205.1 L245.7,203.7 L246.2,202.4 L246.9,201.1 L247.6,199.9 L249.1,199.7 L250.5,199.3 L251.8,199.0 L253.2,198.5 L254.6,198.3 L256.0,198.1 L257.4,197.9 L258.8,197.7 L260.2,197.7 L261.3,198.5 L262.4,199.4 L263.6,199.7 L264.7,200.2 L264.6,201.6 L264.1,202.9 L264.2,204.5 L264.2,206.1 L264.2,207.5 L265.2,208.5 L266.0,209.6 L267.0,210.6 L268.0,211.6 L269.3,212.4 L269.6,214.0 L270.0,215.5 L270.0,217.1 L270.1,218.6 L270.2,220.1 L269.1,220.8 L268.1,221.7 L267.1,222.5 L265.9,223.2 L264.7,223.8 L263.5,224.2 L262.4,224.9 L261.3,225.7 L260.2,226.3 L258.9,226.1 L257.7,225.6 L256.4,225.2 L255.2,224.8 L253.9,224.4 L252.7,224.0 L251.4,223.3 L250.2,222.6 L249.0,221.8 L247.7,221.3 L246.5,220.6 L245.1,220.2 L244.4,218.9 L243.2,218.1 L242.3,217.0 L241.2,216.1 L240.3,215.0"/><path d="M218.7,240.2 L218.9,241.6 L219.0,243.0 L219.2,244.4 L219.3,245.8 L219.4,247.2 L219.5,248.6 L219.5,250.0 L219.7,251.5 L219.9,253.1 L221.5,252.7 L223.0,252.3 L224.5,252.0 L225.8,251.4 L227.3,251.2 L228.7,250.7 L230.1,250.4 L231.1,251.1 L232.1,251.9 L233.1,252.8 L234.0,253.8 L235.0,254.7 L235.9,255.6 L237.1,256.4 L238.0,257.4 L238.9,258.6 L239.5,260.0 L240.3,261.4 L241.0,262.7 L241.9,263.9 L242.6,265.3 L243.8,266.0 L244.8,267.0 L246.1,267.7 L247.3,268.4 L248.3,269.3 L249.5,270.1 L250.5,270.9 L251.7,271.7 L252.7,272.8 L254.1,272.8 L255.4,272.9 L256.8,272.6 L258.2,272.6 L259.5,272.5 L260.9,272.4 L262.2,272.4 L263.6,272.4 L265.0,272.5 L266.4,272.6 L267.7,272.6 L268.8,273.6 L269.6,274.8 L270.5,275.9 L271.6,277.0 L272.7,277.9 L273.9,276.9 L275.1,276.3 L276.5,275.9 L277.9,275.5 L279.3,275.0 L280.5,274.3 L281.4,273.2 L282.4,272.1 L283.4,271.1 L284.4,270.2 L285.5,269.3 L286.7,268.5 L287.7,267.6 L289.2,267.2 L290.6,266.9 L292.1,266.7 L293.5,266.3 L295.0,266.1 L296.4,265.8 L297.9,265.6 L299.3,265.2 L300.6,264.8 L302.0,264.4 L303.4,264.1 L304.8,263.9 L306.1,263.6 L307.5,263.3 L309.0,263.2 L310.3,262.9 L311.7,262.6 L313.1,262.3 L314.5,262.0 L316.0,261.9 L317.4,261.6 L318.8,261.3 L320.1,261.0 L321.5,260.6 L322.9,260.3 L324.2,259.8 L325.5,259.2 L326.8,258.6 L327.9,257.7 L329.1,257.1 L330.2,256.1 L331.6,255.7 L332.8,255.1 L334.1,254.6 L335.4,254.0 L336.9,253.9 L338.4,253.6 L340.0,253.5 L341.4,253.2 L342.8,252.9 L343.3,254.0 L343.8,255.2 L344.3,256.4 L344.7,257.6 L344.9,259.0 L345.1,260.3 L346.0,261.6 L346.9,262.8 L347.9,264.0 L348.7,265.2 L349.6,266.4 L350.5,267.6 L351.1,268.9 L351.6,270.2 L352.2,271.5 L353.0,272.7 L353.7,273.9 L354.4,275.1 L354.9,276.4 L355.4,277.7 L356.5,278.6 L357.5,279.6 L358.6,280.5 L359.7,281.4 L360.9,282.0 L362.0,282.9 L363.2,283.7 L364.2,284.6 L365.3,285.5 L366.3,286.5 L367.3,287.5 L368.4,288.4 L369.4,289.4 L370.5,290.3 L370.7,291.7 L371.0,292.9 L371.4,294.2 L371.8,295.4 L372.3,296.7 L372.7,298.0 L374.0,299.0 L375.0,300.1 L376.3,300.7 L377.3,301.6 L378.7,302.2 L379.6,303.3 L380.6,304.2 L381.5,305.4 L382.6,306.2 L383.9,306.8 L385.1,307.5 L386.4,308.1 L387.7,308.7 L388.9,309.4 L390.2,309.9 L391.4,310.8 L392.6,311.5 L393.9,312.4 L395.3,312.8 L395.7,311.5 L395.9,310.1 L396.1,308.8 L396.1,307.5 L396.2,306.1 L396.6,304.9 L396.8,303.5 L397.6,302.4 L398.6,301.5 L400.2,301.5 L401.3,300.8 L402.7,300.8 L404.0,300.6 L405.2,300.1 L406.2,301.0 L407.3,301.9 L408.6,302.6 L409.4,303.7 L410.3,304.8 L411.7,304.9 L413.2,305.3 L414.7,304.9 L416.2,305.0 L417.7,305.0 L419.0,305.5 L420.3,305.9 L421.5,306.5 L422.8,306.9 L424.0,307.5 L425.3,307.9 L426.6,308.4 L427.8,309.1 L428.9,309.9 L430.1,310.5 L431.4,311.0 L432.8,311.4 L434.0,312.1 L435.3,312.5 L436.6,313.2 L438.0,313.5 L439.1,314.4 L440.4,315.0 L440.7,316.5 L441.4,317.9 L441.6,319.3 L441.9,320.8 L442.2,322.2 L442.6,323.6 L442.9,325.1 L443.3,326.3 L443.6,327.6 L443.7,329.0 L444.2,330.2 L444.6,331.5 L445.1,332.9 L446.8,332.9 L448.3,333.3 L449.8,333.5 L451.3,333.8 L452.8,333.9 L454.0,333.1 L455.2,332.5 L456.5,331.9 L457.9,331.5 L459.1,330.8 L460.2,330.0 L460.1,328.7 L460.4,327.3 L460.6,325.9 L461.0,324.5 L460.8,323.2 L460.8,321.8 L460.7,320.4 L460.5,319.1 L460.2,317.5 L461.6,317.2 L463.1,316.9 L464.6,317.1 L466.1,317.3 L467.6,317.3 L468.9,317.2 L470.3,316.7 L471.4,317.3 L472.7,317.6 L473.8,318.3 L475.0,318.8 L475.9,319.9 L476.9,320.7 L478.0,321.5 L479.1,322.1 L480.5,322.5 L480.5,324.0 L480.8,325.3 L480.6,326.6 L480.8,328.0 L480.7,329.3 L480.9,330.7 L480.8,332.0 L481.2,333.4 L481.3,334.7 L481.5,336.0 L481.5,337.4 L481.7,338.7 L481.7,340.1 L482.2,341.5 L482.1,343.1 L482.3,344.6 L482.6,346.1 L482.9,347.6"/><path d="M345.4,233.9 L344.9,235.1 L344.4,236.4 L344.1,237.6 L343.9,238.9 L343.2,240.0 L343.5,241.3 L343.5,242.5 L343.7,243.8 L343.9,245.1 L343.9,246.4 L343.8,247.7 L343.7,249.4 L343.3,251.0 L342.9,252.7"/><path d="M272.7,277.7 L274.1,277.7 L275.5,277.7 L276.9,277.5 L278.3,277.5 L279.7,277.6 L281.1,277.5 L282.5,277.6 L283.9,277.7 L285.2,277.8 L285.3,279.2 L285.7,280.3 L286.1,281.5 L286.7,282.7 L287.1,283.9 L287.5,285.2 L287.8,286.5 L287.9,287.8 L288.1,290.0 L287.8,291.4 L287.5,292.9 L287.1,294.3 L286.7,295.7 L286.8,297.1 L286.6,298.6 L286.7,300.0 L286.6,301.5 L287.2,303.0 L287.4,304.5 L287.8,306.0 L288.1,307.5 L287.6,308.8 L287.2,310.1 L286.5,311.3 L286.0,312.5 L285.6,313.8 L285.1,315.1 L285.3,316.8 L285.3,318.4 L285.6,320.3 L284.1,320.3 L282.7,320.4 L281.3,320.4 L279.9,320.5 L278.5,320.8 L277.2,320.8 L275.8,321.1 L274.4,321.0 L273.1,321.1 L271.6,321.0 L270.3,321.2 L269.0,321.8 L267.7,322.4 L266.5,323.2 L265.2,323.6 L263.9,324.2 L262.6,324.6 L261.4,325.3 L260.2,326.1 L258.9,326.8 L257.6,327.3 L256.5,328.1 L255.2,328.8 L254.2,329.7 L253.1,330.6 L252.0,331.5 L250.9,332.3 L249.9,333.2 L248.9,334.3 L247.9,335.2 L246.7,336.5 L245.5,337.6 L246.5,338.0 L247.8,338.5 L249.0,339.0 L250.2,339.5 L251.5,339.8 L252.7,340.4 L253.9,341.0 L255.1,341.7 L256.5,342.1 L258.0,342.5 L257.7,344.0 L257.5,345.4 L257.2,346.8 L257.3,348.2 L257.1,349.6 L257.0,351.0 L256.8,352.4 L256.6,353.8 L256.6,355.2 L256.9,356.6 L257.4,358.0 L257.8,359.4 L257.9,360.9 L258.1,362.4 L258.3,363.9 L258.6,365.3 L258.6,366.7 L258.9,368.0 L259.2,369.4 L259.7,370.7 L259.9,372.1 L260.0,373.5 L259.9,374.9 L260.0,376.3 L260.1,377.7 L260.3,379.1 L260.7,380.5 L260.9,381.9 L261.1,383.4 L261.4,384.8 L261.5,386.2 L262.2,387.5 L262.5,388.9 L263.0,390.3 L263.2,391.7 L263.6,393.1 L264.2,394.5 L264.6,395.9 L264.6,397.4 L265.0,398.9 L265.3,400.3"/><path d="M395.2,312.6 L394.6,313.9 L393.9,315.1 L393.4,316.4 L392.8,317.6 L392.0,318.8 L391.4,320.1 L390.7,321.3 L390.2,322.6 L390.9,323.8 L391.8,324.9 L392.5,326.3 L393.3,327.7 L391.8,328.7 L390.6,329.6 L389.3,330.2 L388.3,331.3 L387.3,332.3 L386.5,333.5 L385.5,334.5 L384.4,335.4 L383.3,336.3 L382.2,337.2 L381.4,338.4 L380.6,339.6 L379.8,340.8 L378.8,341.9 L377.7,342.7 L376.3,343.1 L374.9,343.5 L373.6,344.2 L372.2,344.9 L372.8,346.4 L373.3,347.7 L373.7,349.0 L374.2,350.2 L374.7,351.5 L375.5,352.7 L376.2,353.9 L376.8,355.2 L376.5,356.7 L376.0,358.2 L375.7,359.7 L375.5,361.3 L375.3,362.8 L374.0,363.6 L372.5,364.2 L371.1,364.8 L369.8,365.5 L368.6,366.4 L367.6,367.6 L366.3,368.3 L364.9,368.9 L363.5,369.0 L362.1,369.1 L360.7,369.3 L359.3,369.6 L357.9,369.9 L356.5,369.9 L355.1,370.0 L353.8,369.6 L352.5,369.0 L351.2,368.8 L350.1,368.0 L350.0,369.3 L349.5,370.3 L348.8,371.5 L348.3,372.7 L347.7,373.8 L347.4,375.1 L346.5,376.2 L345.6,377.2 L344.7,378.2 L343.7,379.2 L343.1,380.4 L342.3,381.6 L341.7,382.8 L341.1,384.0 L340.5,385.0 L341.1,386.2 L341.7,387.3 L342.1,388.7 L343.0,389.8 L343.6,391.0 L344.3,392.0 L345.3,392.8 L346.5,393.4 L347.7,393.9 L349.0,394.5 L350.3,394.9 L350.9,396.2 L351.7,397.2 L352.6,398.3 L353.7,399.1 L354.8,399.9 L355.8,400.7 L356.7,401.7 L357.6,402.6 L357.3,404.1 L357.2,405.6 L356.9,407.1 L356.7,408.6 L356.3,410.0 L355.3,410.9 L354.3,411.8 L353.4,412.8 L352.6,413.8 L351.8,414.9 L350.6,415.6 L349.5,416.3 L348.4,417.1 L347.4,418.0 L346.6,419.0 L345.7,420.0 L344.9,421.1 L343.9,422.0 L342.7,422.7 L341.8,423.7 L341.0,424.9 L340.5,426.3 L340.2,427.6 L340.4,429.1 L340.6,430.5 L340.7,432.0 L340.8,433.5 L341.0,435.0"/><path d="M435.2,228.8 L436.6,229.0 L438.0,229.1 L439.4,229.1 L440.7,229.6 L442.1,229.8 L443.5,230.3 L444.9,230.1 L446.3,230.2 L447.7,230.2 L448.9,230.9 L450.2,231.4 L451.5,231.9 L452.7,232.7 L453.9,233.4 L455.1,234.2 L456.4,234.4 L457.7,234.7 L459.0,235.0 L460.3,235.5 L461.5,235.9 L462.8,236.4 L463.4,235.3 L464.0,234.0 L464.3,232.6 L464.9,231.4 L465.4,230.1"/></g><g fill="none" stroke="#0000ff" stroke-width="1.15" stroke-linejoin="round" stroke-linecap="round"><path d="M35.1,140.2 L35.8,141.1 L36.4,142.1 L37.2,142.9 L37.8,143.8 L38.6,144.5 L39.5,145.0 L40.5,145.5 L41.3,146.2 L42.1,147.0 L42.8,147.8 L43.7,148.4 L44.6,149.0 L45.4,149.8 L46.3,150.4 L47.0,151.0 L47.5,151.9 L48.7,152.2 L49.3,153.0 L50.4,153.4 L50.7,154.5 L51.2,155.3 L51.1,156.3 L51.4,157.2 L51.6,158.2 L51.7,159.2 L51.5,160.2 L51.2,161.3 L51.2,162.3 L51.7,163.3 L51.9,164.4 L51.6,165.3 L50.8,166.1 L49.9,166.7 L49.6,167.7 L49.2,168.6 L48.9,169.7 L48.6,170.6 L48.0,171.5 L47.4,172.2 L46.3,172.8 L45.7,173.5 L45.1,174.3 L44.7,175.3 L44.1,176.1 L43.3,176.8 L42.5,177.4 L41.3,177.4 L40.4,177.7 L39.4,178.0 L38.6,178.8 L37.7,179.5 L36.8,180.1 L35.9,180.7 L35.0,181.3 L33.9,181.4 L32.9,181.6 L31.9,182.0 L31.0,182.6 L30.2,183.3 L29.2,183.6 L28.4,184.3 L27.3,184.5 L26.7,185.3 L25.9,186.0 L25.1,186.6 L24.3,187.2 L23.4,187.7 L22.5,188.2 L21.5,188.5 L20.5,188.9 L19.7,189.5 L18.8,190.1"/><path d="M87.8,219.8 L88.7,219.4 L89.6,218.9 L90.3,217.8 L91.0,216.7 L92.0,216.4 L93.1,216.4 L94.2,216.5 L95.4,216.7 L96.4,216.4 L97.4,216.2 L98.3,215.6 L99.4,215.5 L100.4,215.2 L101.4,214.9 L102.3,214.3 L103.2,213.8 L103.9,213.0 L104.5,212.0 L105.0,210.9 L106.1,210.7 L107.0,210.1 L108.0,209.8 L108.6,208.8 L109.4,208.1 L110.0,207.3 L111.1,206.9 L111.9,206.2 L112.7,205.6 L113.7,205.1 L114.5,204.5 L115.4,203.9 L116.1,203.1 L116.8,202.3 L117.7,201.8 L118.6,201.2 L119.5,200.6 L120.1,199.8 L121.1,199.3 L121.9,198.6 L123.0,198.4 L123.8,197.6 L124.6,197.0 L125.0,195.8 L125.6,194.9 L126.0,193.7 L127.3,193.7 L128.1,193.0 L129.2,192.7 L129.8,191.8 L130.8,191.4 L131.7,190.8 L132.5,190.1 L132.9,189.1 L133.6,188.3 L134.5,187.7 L135.5,187.2 L136.2,186.5 L136.8,185.7 L137.5,184.8 L138.2,184.0 L139.1,183.5 L139.8,182.7 L140.6,182.0 L141.4,181.3 L142.4,180.9 L143.1,180.0 L144.1,179.5 L144.9,178.8 L145.9,178.3 L146.9,177.8 L147.9,177.4 L149.0,177.1 L149.9,176.3 L150.6,175.5 L150.7,174.2 L150.5,173.0 L151.1,172.2 L151.3,171.1 L152.3,170.4 L152.9,169.5 L153.4,168.5 L153.9,167.5 L154.8,167.0 L155.8,166.4 L156.9,166.3 L157.9,166.1 L159.0,166.2 L160.0,166.1 L161.1,166.1 L162.1,165.8 L163.0,165.5 L164.1,165.4 L165.1,165.1 L166.2,165.0 L167.2,164.4 L168.2,163.9 L169.3,163.2 L170.6,162.8 L171.5,164.1 L172.3,165.1 L173.3,165.8 L174.4,166.0 L175.6,166.3 L176.5,166.9 L177.1,167.9 L177.9,168.6 L178.5,169.5 L179.5,169.9 L180.3,170.5 L181.2,171.0 L182.0,171.7 L182.8,172.5 L183.4,173.4 L184.2,174.4 L185.2,175.3 L186.4,174.8 L187.6,174.1 L188.7,173.8 L189.7,173.6 L190.8,174.0 L191.8,174.3 L192.9,174.2 L194.0,174.1 L195.0,174.0 L196.0,173.6 L197.0,173.3 L198.0,172.9 L199.1,172.8 L200.1,172.5 L201.1,172.0 L202.1,171.7 L203.1,171.4 L204.2,171.2 L205.1,170.7 L206.1,170.3 L207.0,169.7 L207.9,169.3 L209.0,169.2 L210.1,169.3 L211.0,168.9 L212.0,168.4 L213.0,168.2 L214.0,168.0 L215.0,167.9"/><path d="M175.3,166.3 L174.1,167.1 L172.9,167.7 L172.3,168.6 L171.6,169.4 L171.3,170.5 L170.8,171.4 L170.3,172.3 L169.9,173.3 L169.3,174.2 L169.0,175.3 L167.9,175.7 L167.1,176.5 L166.4,177.2 L165.8,178.1 L165.6,179.2 L164.9,180.1 L164.5,181.2 L164.1,182.2 L163.3,183.1 L162.7,184.1 L162.0,185.0 L162.0,186.1 L161.5,187.0 L161.4,188.1 L160.7,189.0 L161.0,190.0 L161.2,191.0 L161.9,191.9 L161.8,193.1 L162.4,194.1 L162.8,195.2 L163.6,196.3 L163.7,197.7 L162.1,198.2 L161.4,198.9 L160.5,199.4 L160.3,200.7 L159.6,201.4 L159.2,202.5 L158.6,203.3 L158.0,204.1 L157.4,204.9 L155.9,204.8 L155.1,205.4 L154.3,206.1 L154.0,207.3 L153.6,208.3 L153.1,209.4 L151.9,209.6 L151.1,210.2 L149.9,210.3 L149.1,210.9 L148.2,211.3 L147.3,211.8 L146.2,212.1 L145.5,212.7 L145.1,213.8 L144.6,214.9 L144.1,215.9 L143.3,216.4 L142.6,217.2 L141.4,217.3 L140.5,217.7 L139.6,218.3 L139.0,219.1 L138.2,219.7 L137.5,220.5 L136.6,221.0 L136.0,221.8 L135.2,222.4 L134.7,223.4 L134.1,224.3 L133.5,225.0 L132.8,225.8 L132.0,226.5 L131.1,227.0 L130.2,227.5 L129.2,228.0 L128.4,228.7 L127.6,229.3 L126.8,230.0 L125.8,230.5 L125.0,231.3 L124.0,231.6 L123.1,232.3 L122.2,232.8 L121.4,233.5 L120.5,234.1 L119.9,235.0 L119.2,235.9 L118.3,236.8 L118.0,237.8 L117.7,239.0 L117.5,240.2 L117.7,241.2 L117.8,242.3 L117.7,243.4 L118.1,244.4 L118.0,245.4 L118.1,246.5 L118.0,247.5 L117.9,248.6 L117.8,249.7 L117.6,250.7 L117.9,251.9 L118.1,253.0 L119.1,253.8 L119.8,254.8 L120.6,255.5 L121.2,256.4 L121.8,257.3 L122.2,258.3 L122.7,259.3 L123.4,260.1 L124.0,261.0 L124.5,261.9 L125.1,262.8 L125.8,263.6 L126.6,264.2 L127.4,264.9 L128.0,265.7 L128.3,266.7 L128.8,267.6 L129.2,268.4 L130.2,269.0 L130.0,270.0 L130.2,271.1 L129.5,272.1 L129.6,273.2 L129.1,274.1 L129.3,275.2 L128.7,276.2 L128.3,277.2 L128.1,278.2 L128.0,279.3 L127.7,280.3"/><path d="M236.4,101.4 L237.1,102.2 L238.0,103.0 L238.6,103.9 L239.5,104.6 L240.2,105.5 L240.8,106.4 L241.4,107.3 L242.0,108.2 L242.2,109.2 L243.0,109.8 L243.9,110.4 L244.8,111.0 L245.7,111.6 L246.3,112.4 L247.1,113.1 L247.8,113.8 L248.5,114.6 L249.0,115.5 L249.2,116.6 L249.6,117.6 L249.9,118.6 L250.4,119.5 L250.8,120.5 L251.4,121.4 L252.0,122.2 L252.6,123.1 L253.9,123.2 L254.9,123.5 L256.1,123.6 L257.1,124.1 L258.1,124.6 L259.4,125.2 L260.4,126.2 L260.2,127.6 L258.7,128.4 L258.0,129.2 L257.0,129.9 L256.3,130.7 L255.6,131.6 L254.9,132.5 L254.8,133.6 L254.5,134.6 L254.2,135.6 L253.8,136.6 L253.1,137.3 L252.8,138.3 L252.2,139.1 L252.2,140.3 L251.8,141.2 L251.3,142.1 L250.9,143.0 L250.0,143.8 L250.1,145.1 L249.3,146.0 L249.1,147.1 L248.2,148.0 L248.3,149.3 L247.7,150.2 L246.8,150.5 L245.7,150.3 L244.7,150.5 L243.7,150.3 L242.6,150.5 L241.6,150.1 L240.6,150.2 L239.6,149.8 L238.6,150.3 L237.5,149.9 L236.7,150.6 L235.8,151.4 L235.0,151.9 L234.0,152.4 L232.8,152.8 L231.8,153.4 L231.5,154.7 L231.2,155.9 L230.7,156.9 L230.5,158.0 L230.4,159.2 L230.3,160.3 L231.1,161.3 L231.6,162.3 L231.4,163.4 L231.2,164.5 L231.3,165.6 L231.7,166.8 L232.0,168.3 L230.5,168.3 L229.3,168.2 L228.2,168.3 L227.2,167.9 L226.1,167.6 L225.0,167.3 L224.0,167.4 L222.9,167.2 L221.8,167.5 L220.8,167.8 L219.7,168.2 L218.7,168.2 L217.6,167.9 L216.3,167.9 L215.0,168.0"/><path d="M215.0,168.0 L214.6,169.0 L214.3,170.1 L213.7,171.1 L213.2,172.0 L212.9,173.1 L212.5,174.1 L212.6,175.3 L212.7,176.4 L212.9,177.5 L212.7,178.6 L212.5,179.6 L212.2,180.7 L211.8,181.7 L211.5,182.8 L211.4,183.9 L211.6,185.0 L212.5,186.0 L212.8,186.9 L213.2,187.9 L213.3,189.0 L213.5,190.0 L214.0,190.9 L214.6,191.9 L214.8,192.9 L215.2,193.9 L215.6,194.8 L216.2,195.7 L216.6,196.6 L217.1,197.5 L216.8,198.7 L216.8,199.7 L216.7,200.8 L217.4,201.6 L217.7,202.6 L217.0,203.4 L215.9,203.9 L215.3,204.8 L214.5,205.5 L214.1,206.6 L213.4,207.4 L212.7,208.2 L211.9,208.9 L211.0,209.5 L210.1,210.0 L209.3,210.8 L208.4,211.5 L207.8,212.4 L206.7,212.7 L205.8,213.3 L204.9,213.9 L204.1,214.5 L203.4,215.4 L202.4,215.9 L201.6,216.6 L200.8,217.3 L200.1,218.1 L199.2,218.6 L198.6,219.5 L197.7,220.1 L196.9,220.8 L195.5,220.3 L194.4,220.4 L193.4,220.8 L192.6,221.6 L192.2,222.7 L191.6,223.5 L191.2,224.4 L190.6,225.2 L190.2,226.1 L189.4,226.8 L188.6,227.4 L187.8,228.1 L187.0,228.8 L186.2,229.6 L186.2,230.8 L185.9,231.8 L186.4,233.0 L186.1,234.0 L186.2,235.1 L185.1,235.9 L184.7,236.8 L184.2,237.7 L184.3,238.8 L184.3,239.9 L183.9,240.8 L183.8,242.0 L183.3,242.9 L182.6,243.7 L181.6,244.4 L181.1,245.3 L180.2,246.1 L179.7,247.1 L178.5,247.4 L177.8,248.3 L176.7,248.9 L176.2,250.0 L176.2,251.1 L176.2,252.2 L176.1,253.2 L175.6,254.2 L175.3,255.1 L174.0,255.5 L172.8,256.2 L171.9,256.7 L170.9,257.1 L169.9,257.7 L168.9,257.6 L167.8,257.7 L166.7,257.7 L165.6,257.7 L164.6,257.7 L163.5,257.7 L162.3,257.5 L161.4,258.0 L160.4,258.5 L159.5,259.1 L158.5,259.6 L157.4,259.6 L156.4,259.8 L155.3,259.9 L154.3,260.3 L153.3,260.8 L152.4,261.3 L151.5,261.8 L150.5,262.2 L149.7,262.9 L148.9,263.6 L148.0,264.1 L147.1,264.6 L146.1,265.0 L145.1,265.3 L144.1,265.8 L143.4,266.6 L142.5,267.1 L141.6,267.6"/><path d="M176.8,255.1 L177.6,255.7 L178.5,256.3 L179.8,256.2 L180.5,257.1 L181.4,257.5 L181.8,258.8 L182.7,259.4 L183.4,260.2 L184.5,260.5 L185.3,261.2 L186.2,261.7 L187.0,262.4 L188.0,262.7 L189.0,263.3 L189.8,264.0 L190.5,264.8 L191.2,265.7 L192.0,266.4 L192.7,267.3 L193.7,267.8 L194.6,268.3 L195.6,269.0 L195.2,269.9 L194.4,270.8 L193.8,271.6 L192.9,272.3 L192.5,273.2 L191.8,274.0 L191.3,274.9 L190.6,275.7 L190.1,276.6 L189.7,277.6 L189.2,278.6 L188.6,279.5 L188.0,280.3"/><path d="M262.7,160.3 L263.6,161.0 L264.4,161.9 L265.2,162.8 L265.4,164.0 L265.9,164.9 L266.6,165.9 L266.8,167.0 L267.3,168.1 L267.0,169.3 L267.5,170.4 L267.6,171.5 L268.5,172.4 L269.1,173.4 L269.7,174.4 L269.7,175.6 L269.7,176.8 L269.9,177.8 L269.7,178.8 L269.8,179.9 L269.6,180.9 L269.6,182.1 L269.0,183.0 L268.3,184.0 L267.3,184.7 L266.8,185.6 L266.2,186.5 L265.8,187.5 L265.2,188.3 L264.6,189.2 L264.0,190.0 L263.4,190.9 L262.5,191.5 L261.9,192.4 L261.3,193.2 L260.5,194.0 L260.1,194.9 L259.2,195.6 L258.9,196.7 L258.7,197.8 L258.4,198.8 L258.1,199.8 L257.2,200.5 L256.9,201.6 L256.0,202.2 L255.6,203.2 L255.0,204.1 L254.6,205.1 L253.9,205.9 L253.3,206.8 L252.6,207.5 L252.1,208.4 L251.3,209.2 L251.0,210.2 L250.7,211.2 L250.5,212.3 L249.8,213.1 L248.9,213.8 L248.1,214.6 L247.6,215.5 L247.5,216.6 L247.4,217.8 L246.8,218.6 L246.0,219.4 L245.3,220.2 L244.5,220.9 L244.3,221.9 L243.8,222.8 L243.2,223.6 L242.0,224.1 L241.2,224.8 L240.6,225.6 L240.8,226.9 L240.6,227.9 L240.3,228.9 L239.8,229.8 L238.9,230.5 L238.4,231.3 L237.7,232.1 L237.7,233.3 L237.6,234.4 L237.4,235.4 L236.7,236.2 L235.7,236.8 L235.1,237.6 L234.1,238.1 L233.7,239.1 L232.8,239.6 L232.1,240.4 L231.2,240.9 L230.5,241.8 L229.9,242.6 L229.2,243.3 L228.2,243.8 L227.2,244.2 L226.2,244.7 L225.4,245.3 L224.6,245.9 L224.1,246.9 L223.3,247.6 L222.8,248.6 L221.8,249.0 L221.0,249.7 L220.3,250.3 L219.5,251.1 L219.2,252.1 L218.6,252.9 L218.2,254.0 L217.4,254.7 L216.6,255.4 L215.8,256.1 L215.1,256.8 L214.6,257.8 L214.3,258.9 L213.9,259.7 L213.4,260.3 L213.3,261.2 L213.7,262.2 L214.3,263.2 L214.8,264.2 L215.5,265.2 L215.2,266.4 L215.5,267.5 L216.2,268.3 L216.7,269.2 L217.4,270.1 L217.8,271.1 L218.4,272.0 L218.8,273.1 L219.9,273.6 L220.6,274.5 L221.3,275.3"/><path d="M247.7,150.2 L248.6,150.8 L249.5,151.4 L250.6,151.8 L251.5,152.4 L252.3,153.2 L253.0,154.1 L253.9,154.8 L254.7,155.4 L255.7,155.9 L256.6,156.3 L257.6,156.7 L258.6,157.2 L259.2,158.1 L260.1,158.5 L261.1,159.0 L262.2,159.1 L263.2,159.6 L264.0,160.3 L264.8,161.2 L265.6,162.2 L266.5,162.8 L267.2,163.6 L268.1,164.1 L268.8,164.9 L269.6,165.7 L270.3,166.4 L270.8,167.4 L271.7,167.9 L272.6,168.6 L273.7,168.9 L274.6,169.4 L275.3,170.1 L276.1,170.7 L277.0,171.3 L278.1,171.4 L279.1,171.6 L280.3,171.6 L281.0,172.5 L281.7,173.3 L282.6,173.9 L283.5,174.4 L284.4,174.7 L285.4,175.1 L286.3,175.7 L287.1,176.3 L288.2,176.5 L289.0,177.1 L289.9,177.7 L290.8,178.3 L291.6,178.9 L292.5,179.5 L293.4,180.0 L294.1,180.8 L294.9,181.6 L295.7,182.3 L296.7,182.9 L297.8,183.1 L298.8,182.9 L299.8,182.4 L300.9,182.7 L301.7,181.7 L302.6,181.3 L303.5,180.5 L304.5,180.4 L305.5,180.2 L306.5,180.1 L307.4,179.4 L308.4,179.4 L309.4,179.4 L310.5,179.4 L311.3,178.6 L312.1,177.7 L312.9,176.8 L314.1,177.1 L315.2,177.1 L316.3,177.5 L317.3,177.8 L318.4,177.8 L319.4,177.7 L320.4,177.6 L321.4,177.5 L322.4,177.6 L323.4,177.4 L324.4,177.0 L325.4,176.7 L326.3,176.4 L327.4,176.7 L328.4,176.4 L329.4,176.1 L330.3,175.5 L331.3,175.3 L332.3,175.4 L333.3,175.2 L334.4,175.2 L335.4,175.4 L336.4,175.6 L337.3,176.2 L338.3,176.3 L339.3,176.6 L340.3,176.8 L341.3,177.1 L342.3,177.3 L343.3,177.5 L344.4,177.5 L345.4,177.8 L346.4,178.1 L347.4,178.3 L348.4,178.6 L349.3,179.1 L350.3,179.3 L351.4,179.2 L352.5,179.2 L353.5,179.4 L354.5,179.9 L355.4,180.3 L356.4,180.8 L357.5,180.7 L358.4,181.1 L359.5,181.0 L360.5,181.4 L361.4,182.2 L362.2,183.1 L363.1,183.9 L364.2,184.0 L365.3,183.7 L366.5,183.3 L367.6,183.2 L368.7,183.3 L369.7,183.4 L370.8,183.6 L371.8,183.7 L372.8,184.1 L373.8,184.3 L374.8,184.5 L375.9,184.5 L376.9,184.6 L377.9,184.9 L378.9,185.3 L379.8,185.9 L380.7,186.3 L381.7,186.6 L382.7,186.9 L383.9,186.7 L384.9,187.2 L385.8,187.8 L386.6,188.4 L387.5,188.9 L388.6,189.0 L389.6,189.4 L390.6,189.6 L391.3,190.5 L392.0,191.4 L392.9,191.8 L393.9,192.1 L394.9,192.3 L396.0,192.5 L396.9,192.9 L398.0,193.1 L398.7,194.0 L399.4,194.8 L400.2,195.4 L400.9,196.2 L401.7,196.8 L402.6,197.3 L403.8,197.4 L404.7,197.9 L405.4,198.7 L406.0,199.6 L406.8,200.3 L407.5,200.9 L408.7,201.0 L409.6,201.7 L410.9,202.1 L411.2,203.3 L411.1,204.5 L410.7,205.6 L410.4,206.6 L410.5,207.6 L410.6,208.6 L410.8,209.6 L410.8,210.6 L410.9,211.7 L410.9,212.7 L410.9,213.8 L411.3,214.8 L411.3,215.8 L412.2,216.7 L412.3,217.8 L412.6,218.8"/><path d="M297.7,182.8 L298.2,183.8 L298.8,184.8 L298.9,185.9 L299.5,186.8 L299.9,187.8 L300.6,188.7 L301.3,189.6 L302.1,190.4 L302.7,191.4 L303.2,192.5 L302.3,193.4 L301.6,194.3 L301.0,195.1 L300.7,196.2 L300.4,197.2 L300.3,198.2 L300.1,199.3 L300.0,200.4 L299.3,201.2 L299.0,202.2 L298.2,203.0 L297.7,204.0 L296.7,204.8 L296.8,205.9 L296.8,207.0 L297.2,208.2 L296.7,209.2 L296.8,210.3 L296.3,211.2 L296.4,212.3 L296.0,213.3 L295.7,214.3 L295.8,215.4 L295.5,216.5 L295.7,217.6 L294.9,218.5 L294.5,219.5 L293.7,220.4 L293.3,221.4 L293.1,222.5 L293.7,223.7 L294.0,224.7 L294.2,225.8 L294.0,226.9 L293.5,228.0 L293.3,229.0 L293.1,229.9 L292.9,230.8 L292.9,231.8 L292.9,232.9 L292.8,234.0 L292.1,234.7 L291.6,235.6 L291.0,236.4 L290.5,237.3 L290.1,238.2 L289.4,239.0 L288.8,239.8 L288.4,240.8 L288.3,241.9 L287.9,242.7 L287.1,243.5 L286.3,244.2 L285.6,245.0 L285.1,245.9 L284.6,246.8 L283.9,247.6 L283.4,248.5 L282.6,249.2 L282.1,250.1 L281.5,251.0 L281.1,252.0 L280.6,253.0 L279.9,253.8 L279.0,254.4 L277.8,254.6 L276.7,254.9 L275.9,255.6 L275.2,256.4 L274.4,257.1 L273.6,257.8 L272.6,258.2 L271.7,258.7 L270.9,259.4 L270.0,260.0 L269.5,261.1 L268.8,261.8 L268.1,262.6 L267.3,263.3 L266.4,263.9 L265.5,264.5 L264.7,265.2 L264.0,266.0 L263.5,267.0 L262.7,267.7 L262.2,269.0 L261.5,270.2"/><path d="M266.5,162.8 L267.3,162.1 L268.1,161.5 L269.4,161.3 L270.1,160.5 L270.6,159.5 L271.2,158.6 L271.7,157.7 L272.4,156.9 L273.3,156.3 L274.3,155.8 L275.0,155.0 L275.5,154.0 L276.0,153.1 L276.5,152.2 L277.6,151.8 L278.5,151.3 L279.5,150.9 L280.1,150.1 L280.7,149.2 L281.2,148.2 L282.0,147.6 L282.8,147.0 L284.0,146.7 L284.7,146.1 L285.4,145.3 L286.1,144.5 L287.0,144.0 L288.1,143.7 L289.1,143.6 L290.1,143.3 L291.2,143.2 L292.1,142.8 L293.3,142.9 L294.2,142.4 L295.2,142.1 L296.0,141.2 L296.9,140.7 L297.8,140.2 L298.8,140.0 L299.8,139.8 L300.7,139.2 L301.7,139.2 L302.6,138.8 L303.6,138.3 L304.5,137.8 L305.3,137.0 L306.4,137.3 L307.5,137.6 L308.6,138.0 L309.7,138.0 L310.7,137.8 L311.6,137.3 L312.5,136.8 L313.4,136.1 L314.4,136.1 L315.4,135.9 L316.5,136.0 L317.4,135.7 L318.4,135.4 L319.3,135.0 L320.2,134.6 L321.1,134.1 L322.1,134.0 L323.2,134.1 L324.2,133.8 L325.1,133.4 L326.2,133.2 L327.2,133.0 L328.3,133.2 L329.1,132.5 L329.9,131.7 L330.6,130.5 L331.4,129.9 L332.4,129.6 L333.7,130.1 L334.7,130.0 L335.7,129.6 L336.4,128.7 L337.2,128.0 L338.1,127.3 L339.2,127.5 L340.2,127.2 L341.4,127.5 L342.3,126.7 L343.3,126.5 L344.2,125.9 L345.4,126.3 L346.4,125.9 L347.4,125.4 L348.3,124.8 L349.3,124.3 L350.4,124.4 L351.3,125.5 L352.3,125.8 L353.2,126.4 L354.2,126.9 L355.2,127.4 L356.1,128.1 L357.2,128.4 L358.4,128.2 L359.4,128.6 L360.5,129.0"/><path d="M285.3,146.4 L286.3,146.7 L287.3,146.9 L288.4,147.0 L289.3,147.3 L290.4,147.3 L291.4,147.6 L292.4,147.8 L293.4,148.1 L294.3,148.8 L295.2,149.3 L296.0,150.1 L297.1,150.1 L298.3,150.3 L299.5,150.1 L300.4,150.8 L301.3,151.4 L302.1,152.2 L303.1,152.5 L304.2,152.8 L305.1,153.4 L306.0,154.0 L306.5,155.1 L307.3,155.7 L307.3,156.6 L308.1,157.2 L308.6,158.1 L309.1,159.0 L309.2,160.0 L309.5,160.9 L309.9,161.9 L310.3,162.8 L311.3,162.4 L312.4,162.7 L313.3,162.4 L314.4,162.5 L315.3,161.9 L316.3,161.6 L317.3,161.1 L318.3,161.1 L319.3,161.2 L320.4,161.2 L321.4,160.9 L322.3,160.6 L323.3,160.1 L324.3,160.3 L325.4,160.2 L326.4,160.1 L327.3,159.5 L328.1,158.8 L328.9,158.1 L329.8,157.7 L330.7,157.3 L331.7,156.9 L332.7,156.6 L333.6,156.2 L334.8,156.1 L335.9,155.6 L336.2,154.6 L336.4,153.4 L336.7,152.4 L337.3,151.6 L337.8,150.7 L338.5,150.0 L338.8,148.9 L339.2,148.0 L339.3,146.9 L339.7,145.9 L340.1,144.8 L341.2,144.4 L342.3,144.4 L343.3,144.3 L344.4,144.5 L345.4,144.6 L346.5,144.7 L347.5,144.4 L348.4,144.1 L349.5,144.0 L350.5,143.9 L351.4,143.5 L352.4,143.1 L353.4,142.9 L354.4,142.5 L355.3,142.1 L356.4,141.9 L357.5,142.4 L358.5,142.5 L359.6,142.4 L360.6,141.8 L361.6,141.5 L362.6,141.0 L363.7,141.4 L364.7,141.3 L365.8,141.7 L366.8,141.3 L367.9,141.3 L368.9,141.0 L370.0,141.1 L371.1,141.3 L372.1,142.1 L373.1,142.7 L374.1,142.6 L375.2,142.7 L376.3,142.4 L377.3,142.5 L378.4,142.6 L379.4,143.1 L380.4,143.3 L381.3,143.6 L382.4,143.3 L383.7,143.7 L384.8,144.5 L386.0,144.6 L386.9,145.1 L388.0,145.4 L389.1,145.8 L389.6,146.9 L390.5,147.5 L391.4,148.1"/><path d="M222.7,325.0 L223.7,324.8 L224.7,324.4 L225.5,323.7 L226.5,323.4 L227.7,323.8 L228.7,323.6 L229.7,323.4 L230.6,322.8 L231.6,322.5 L232.8,322.7 L233.8,322.5 L234.8,322.2 L235.6,321.4 L236.4,320.8 L237.1,320.2 L238.1,319.8 L238.6,318.7 L239.3,318.0 L239.9,316.9 L240.8,316.5 L241.6,315.7 L242.8,315.5 L243.8,315.1 L245.0,315.0 L246.0,314.6 L246.9,313.9 L247.6,313.1 L248.2,312.0 L249.2,311.6 L249.9,310.7 L250.8,310.2 L251.5,309.3 L252.6,308.9 L253.6,308.5 L254.8,308.2 L256.0,308.0 L256.5,306.8 L257.2,306.0 L257.6,304.8 L258.8,303.9 L260.0,303.0 L261.1,303.4 L262.1,303.6 L263.2,303.7 L264.3,303.7 L265.3,304.4 L266.4,304.5 L267.3,305.3 L268.4,305.2 L269.5,305.7 L270.6,305.7 L271.6,305.3 L272.4,304.4 L273.5,304.1 L274.4,303.4 L275.4,303.1 L276.1,302.2 L277.0,301.6 L277.7,300.8 L278.9,300.5 L279.8,299.9 L280.6,299.4 L281.4,298.6 L282.3,298.0 L283.6,298.4 L284.5,297.7 L285.4,297.2 L286.2,296.3 L287.1,295.7 L288.1,295.2 L289.2,295.1 L290.3,295.2 L291.2,295.8 L292.1,296.0 L293.1,296.1 L294.2,296.0 L295.2,296.0 L296.2,296.2 L297.2,296.3 L298.2,296.4 L299.3,296.3 L300.3,296.4 L301.3,296.9 L302.3,296.9 L303.4,297.1 L304.4,297.2 L305.5,296.8 L306.6,297.1 L307.6,296.8 L308.5,296.3 L309.4,295.7 L310.3,295.1 L311.3,294.6 L312.4,294.8 L313.5,294.9 L314.6,295.2 L315.5,294.7 L316.4,294.1 L317.4,293.7 L318.3,293.2 L319.3,293.1 L320.2,292.6 L321.2,292.0 L322.3,291.6 L323.4,291.9 L324.5,292.5 L325.5,292.9 L326.6,293.2 L327.7,292.9 L328.8,293.0 L329.9,292.8 L331.0,292.8 L331.9,292.4 L333.1,292.6 L334.2,292.6 L335.1,292.1 L335.9,291.2 L336.9,290.8 L338.0,290.7 L339.1,290.6 L340.0,290.2 L340.9,289.5 L342.2,290.1 L343.1,289.3 L344.2,289.2 L345.0,288.1 L346.1,288.0 L347.2,287.8 L348.3,287.8 L349.3,287.2 L350.2,286.6 L351.1,285.6 L352.1,285.4 L353.1,285.1 L354.1,285.1 L355.2,285.1 L356.2,284.8 L357.2,284.6 L358.1,284.1 L359.1,283.8 L360.1,283.5 L361.0,283.3 L362.0,283.0 L362.8,282.2 L363.8,282.0 L364.8,281.7 L366.0,281.9 L367.0,281.6 L367.8,280.9 L368.7,280.3 L369.6,279.7 L370.7,279.9 L371.8,279.9 L372.9,279.9 L373.6,279.0 L374.5,278.2 L375.2,277.3 L376.4,277.3 L377.4,276.7 L378.2,276.0 L379.4,275.9 L380.4,275.5 L381.8,276.0 L382.5,275.0 L383.2,274.0 L383.6,272.5 L384.4,271.8 L385.4,271.5 L386.3,271.0 L387.4,270.7 L388.2,269.9 L389.4,269.8 L390.6,269.7 L391.6,269.4 L392.6,268.8 L393.6,268.3 L394.8,268.4 L395.7,267.7 L396.6,266.9 L397.4,266.0 L398.2,265.4 L399.3,265.0 L400.4,264.8 L401.7,265.0 L402.7,264.7 L403.8,264.4 L404.4,263.3 L405.3,262.6 L406.0,261.7 L406.9,261.1 L407.7,260.1 L408.7,259.7 L409.8,259.3 L411.2,260.1 L412.2,260.2 L413.3,260.1 L414.2,259.5 L415.1,258.9 L416.0,258.1 L416.9,257.4 L417.7,256.3 L418.6,256.5 L419.5,256.7 L420.5,256.5 L421.4,256.0 L422.2,255.3 L423.1,254.7 L423.7,253.8 L424.4,253.0 L424.7,252.0 L425.0,250.9 L425.3,249.8 L426.3,249.3 L427.0,248.5 L428.2,248.0 L428.7,247.2 L429.2,246.3 L429.5,245.3 L429.6,244.1 L430.3,243.4 L430.6,242.4 L431.4,241.7 L432.0,241.0 L433.4,240.5 L433.9,239.5 L434.9,238.6 L433.9,237.3 L434.4,236.3 L433.5,235.0 L434.1,234.1 L434.3,233.1 L434.6,232.1 L435.1,231.1 L435.3,230.1 L435.3,229.1 L434.8,228.1 L434.8,227.1 L434.5,226.1 L434.9,225.1 L434.4,224.1 L434.3,223.1 L434.4,222.1 L434.1,221.1 L434.7,220.0 L434.6,219.0 L434.5,218.0"/><path d="M321.3,292.2 L321.4,293.3 L321.5,294.4 L321.3,295.6 L321.5,296.8 L322.2,297.7 L322.6,298.7 L322.9,299.7 L324.0,300.4 L324.7,301.3 L325.3,302.2 L325.2,303.4 L324.9,304.6 L324.7,305.6 L324.1,306.5 L323.7,307.4 L323.5,308.4 L323.7,309.5 L323.8,310.6 L323.9,311.8 L324.1,312.9 L323.9,313.9 L323.7,315.0 L323.3,316.1 L323.3,317.3 L323.9,318.2 L324.3,319.2 L324.7,320.1 L324.5,321.3 L325.2,322.1 L325.3,323.2 L325.9,324.1 L326.2,325.0 L326.8,325.9 L327.5,326.8 L327.7,327.9 L327.8,329.0 L327.5,330.1 L327.4,331.3 L327.3,332.4 L328.0,333.4 L328.2,334.5 L328.4,335.6 L328.7,336.7 L328.8,338.0 L330.1,338.4 L331.0,339.2 L330.7,340.2 L329.2,340.2 L328.4,340.7 L327.4,341.0 L326.6,341.7 L325.8,342.5 L325.0,343.1 L323.9,343.5 L322.9,343.8 L322.0,344.4 L321.3,345.1 L320.5,345.7 L319.9,346.5 L318.9,347.1 L318.4,348.0 L318.6,349.2 L318.4,350.4 L318.5,351.5 L318.2,352.6 L318.6,353.7 L318.5,354.9 L318.5,356.0"/><path d="M330.9,340.1 L331.8,340.7 L332.7,341.2 L333.7,341.6 L334.5,342.4 L335.3,343.0 L336.1,343.7 L337.0,344.2 L338.0,344.7 L338.9,345.3 L339.6,346.2 L340.6,346.7 L341.4,347.4 L342.4,348.1 L343.2,348.7 L344.3,349.1 L345.0,350.1 L346.0,350.7 L346.8,351.7 L347.9,352.0 L349.0,352.3 L350.4,352.1 L351.3,352.9 L352.5,353.1 L353.0,354.3 L353.9,354.7 L354.7,355.3 L355.5,356.0 L356.8,355.9 L357.6,356.6 L358.7,356.8 L359.4,357.6 L360.4,357.9 L361.1,358.7 L362.3,358.9 L362.8,359.9 L363.4,360.8 L364.2,361.6 L364.7,362.6 L365.8,363.0 L366.6,363.7 L366.9,364.9 L367.3,366.0 L367.4,367.4 L368.6,367.3 L369.6,367.7 L369.4,368.5 L368.7,369.3 L367.9,370.0 L367.1,370.7 L366.4,371.5 L365.6,372.2 L364.7,372.8 L364.0,373.6 L363.5,374.5 L363.2,375.5 L362.9,376.3 L362.6,377.2 L362.5,378.2 L362.0,379.2 L361.8,380.2 L362.0,381.2 L362.2,382.3 L362.8,383.4 L362.2,384.2 L362.6,385.0 L362.3,386.0 L363.2,386.6 L363.3,387.7 L363.8,388.7 L364.0,389.8 L364.0,391.0 L364.3,392.0 L364.9,393.0 L365.7,393.7 L366.4,394.5 L367.3,395.0 L367.8,396.1 L368.7,396.7 L369.6,397.2 L370.9,397.2 L372.0,397.5 L372.7,398.3 L373.5,399.0 L374.0,400.0 L375.1,400.3 L376.0,400.9 L376.6,401.8 L377.5,402.5 L378.0,403.6 L378.8,404.3 L379.5,405.1 L380.4,405.7 L381.3,406.4 L382.3,407.0 L383.5,407.2 L384.7,407.4 L385.6,408.0 L386.6,408.5 L387.6,409.1"/><path d="M422.8,252.7 L422.7,253.7 L422.6,254.7 L423.2,255.8 L422.7,256.8 L422.7,257.8 L422.9,258.8 L423.6,259.9 L422.8,260.8 L421.9,261.8 L421.5,262.7 L420.6,263.6 L420.5,264.6 L420.1,265.6 L420.1,266.6 L419.9,267.6 L419.6,268.6 L419.2,269.6 L419.5,270.7 L419.5,271.7 L419.6,272.7 L419.3,273.8 L418.9,274.9 L418.6,276.1 L418.8,277.2 L419.1,278.3 L419.3,279.3 L420.1,280.3 L419.9,281.3 L420.5,282.5 L419.7,283.4 L419.9,284.5 L419.7,285.5 L419.6,286.5 L419.2,287.5 L418.8,288.5 L418.6,289.5 L418.1,290.4 L417.4,291.3 L416.9,292.2 L416.5,293.1 L416.5,294.2 L416.0,295.1 L415.4,295.9 L415.1,296.9 L414.7,297.8 L415.0,299.0 L414.9,300.0 L414.8,301.0 L414.6,302.0 L414.3,303.0 L414.1,304.0 L414.0,305.1 L413.9,306.1 L413.9,307.2 L413.6,308.2 L413.7,309.4 L413.1,310.4 L412.4,311.2 L411.3,311.6 L410.6,312.3 L409.5,312.6 L408.8,313.2 L408.1,314.1 L407.4,314.7 L406.9,315.8 L405.4,315.5 L404.8,316.3 L403.5,316.2 L402.9,317.0 L401.9,317.4 L401.2,318.1 L399.9,318.0 L399.2,318.7 L398.2,319.2 L397.6,320.1 L397.1,321.1 L396.4,321.9 L395.9,323.0 L395.2,324.0 L394.8,325.2 L395.2,326.2 L396.6,326.6 L397.3,327.3 L398.0,328.0 L398.4,329.0 L399.0,330.0 L399.8,330.6 L400.7,331.1 L401.6,331.6 L402.5,332.1 L403.1,333.0 L404.1,333.2 L404.9,333.9 L405.8,334.3 L406.6,334.8 L407.4,335.4 L408.0,336.2 L408.7,336.9 L409.4,337.7 L409.9,338.6 L410.4,339.6 L411.0,340.4 L412.0,341.0 L413.0,341.6 L413.9,342.1 L414.4,343.1 L414.8,344.0 L415.2,345.1 L416.3,345.4 L417.3,345.6 L418.0,346.3 L418.7,347.2 L419.2,348.2 L419.9,348.9 L421.0,349.2 L421.8,349.8 L422.8,350.0 L423.4,350.9 L424.3,351.5 L425.0,352.2 L425.7,353.0 L426.8,353.1 L427.6,353.8 L428.6,354.1 L429.1,355.0 L429.8,355.7 L429.9,356.9 L430.5,357.4 L430.8,358.5 L432.4,358.6 L432.9,359.5 L433.9,360.0 L433.8,361.3 L434.6,361.9 L434.8,362.7 L434.5,363.4 L434.0,364.2 L433.5,365.1 L433.1,366.2 L432.2,366.7 L431.5,367.5 L430.6,368.1 L429.8,368.8 L428.9,369.5 L427.9,369.8 L426.9,370.1 L425.7,370.0 L424.9,370.6 L423.9,371.0 L422.9,371.2 L421.9,371.5 L420.9,371.7 L419.9,372.0 L418.8,372.1 L417.9,372.9 L416.7,372.9 L415.7,373.6 L414.6,373.6 L413.5,374.3 L412.1,374.6 L411.7,375.8 L411.5,377.0 L411.3,378.0 L411.2,379.1 L411.1,380.1 L410.1,380.9 L409.3,381.8 L408.8,382.7 L409.5,384.0 L409.5,385.0 L409.7,386.1 L409.7,387.2 L409.7,388.3 L409.9,389.4 L409.3,390.3 L409.4,391.4 L408.4,392.3 L408.1,393.3 L406.9,394.0 L407.0,395.1 L406.5,396.1 L406.8,397.2 L406.6,398.2 L406.1,399.2 L405.9,400.2 L405.0,401.0 L405.4,402.2 L405.1,403.2 L405.7,404.4 L405.3,405.4 L404.0,406.0 L402.8,406.6"/><path d="M435.3,362.7 L436.3,362.6 L437.4,362.5 L438.4,362.2 L439.5,362.3 L440.5,362.2 L441.6,362.5 L442.6,361.9 L443.7,362.1 L444.6,361.2 L445.7,361.5 L446.7,361.4 L447.8,361.4 L448.7,361.0 L449.7,360.9 L450.7,360.7 L451.7,360.5 L452.5,359.8 L453.6,359.7 L454.5,359.2 L455.5,359.3 L456.5,358.9 L457.5,358.7 L458.4,358.5 L459.2,357.7 L460.1,357.2 L460.6,355.9 L461.7,355.8 L462.5,355.2 L463.5,355.0 L464.5,354.7 L465.3,354.0 L466.5,354.0 L467.2,353.1 L468.2,352.9 L469.3,352.8 L470.4,352.8 L471.5,352.6 L472.6,352.5 L473.7,352.4 L474.6,351.9 L475.4,351.2 L476.1,350.4 L477.0,349.8 L477.8,349.2 L478.6,348.6 L479.5,348.2 L480.5,347.8"/><path d="M359.2,250.2 L360.2,249.9 L361.1,249.4 L362.4,249.8 L363.0,248.5 L364.0,248.3 L364.7,247.3 L365.9,247.5 L366.8,247.0 L367.8,246.7 L368.6,246.1 L369.6,245.6 L370.5,245.2 L371.3,244.5 L372.3,244.1 L373.2,243.5 L374.3,243.6 L375.4,243.4 L376.3,243.0 L377.2,242.3 L378.2,242.0 L379.0,241.4 L380.0,240.9 L380.9,240.3 L381.8,239.9 L382.9,239.7 L383.8,239.1 L384.9,238.8 L385.5,237.8 L386.4,237.2 L387.0,236.2 L387.9,235.6 L389.1,235.4 L390.2,235.2 L391.3,235.0 L392.0,234.1 L392.9,233.5 L393.6,232.6 L394.6,232.2 L395.6,231.8 L396.6,231.4 L397.7,231.1 L398.6,230.5 L399.3,229.6 L400.0,228.7 L400.6,227.8 L401.8,227.8 L402.8,227.5 L403.7,227.1 L404.3,226.2 L405.0,225.5 L405.7,224.6 L406.6,223.8 L407.6,223.2 L408.6,223.8 L409.5,224.7 L410.5,225.0 L411.4,225.5 L412.3,225.8 L412.9,226.8 L413.7,227.4 L414.3,228.2 L415.1,228.9 L416.2,228.9 L417.2,228.3 L418.0,227.3 L418.7,226.3 L419.8,226.1 L421.0,226.2 L422.2,226.3 L423.3,226.2 L424.4,225.8 L425.5,225.5 L426.1,224.6 L426.8,223.7 L427.2,222.6 L427.8,221.7 L428.2,220.6 L429.0,219.9 L429.5,218.9 L430.7,218.6 L431.5,218.0 L432.4,217.4 L433.1,216.4 L433.4,215.1 L433.9,214.0"/><path d="M325.0,417.7 L326.1,418.1 L327.1,418.4 L328.2,418.4 L329.1,419.0 L330.1,419.6 L331.0,420.1 L332.0,420.4 L333.0,420.8 L334.1,421.1 L335.1,421.3 L336.1,421.7 L336.9,422.3 L337.7,422.9 L338.4,423.7 L339.3,424.1 L340.0,424.9 L340.7,425.6 L341.6,426.1 L342.4,426.7 L343.4,427.0 L344.4,427.4 L345.3,427.9 L346.2,428.3 L346.8,429.1 L347.7,429.6 L348.5,430.2 L349.5,430.6 L350.3,431.3 L351.0,432.0 L351.7,432.8 L352.6,433.2 L353.7,433.3 L354.3,434.3 L355.0,435.0 L355.7,435.7 L356.7,436.2 L357.7,436.2 L358.8,436.3 L359.9,435.9 L361.1,435.8 L362.1,435.3 L363.0,434.6 L364.2,434.6 L365.2,433.9 L366.3,434.3 L367.3,433.8 L368.4,433.5 L369.5,433.0 L370.6,433.1 L371.8,433.3 L372.8,433.8 L373.2,434.9 L373.2,436.0 L374.0,436.8 L374.5,437.7 L375.5,438.4 L375.9,439.3 L376.2,440.3 L376.4,441.4 L376.9,442.4 L377.5,443.4 L378.0,444.5 L378.1,445.6 L378.6,446.7 L378.8,447.8 L379.4,448.7 L380.1,449.5 L380.8,450.3 L381.2,451.2 L382.0,452.0 L382.7,453.1 L383.5,452.2 L384.4,451.5 L385.4,451.1 L386.0,450.3 L386.5,449.4 L386.9,448.3 L387.4,447.2 L388.5,447.0 L389.7,446.9 L390.8,447.1 L391.8,446.9 L392.7,446.5 L393.2,447.4 L393.6,448.5 L393.9,449.6 L394.2,450.7 L394.6,451.8 L395.1,452.9 L396.3,453.3 L397.5,453.2 L398.6,453.6 L399.8,453.6 L400.7,454.3 L401.8,454.6 L402.8,455.3 L403.9,454.8 L404.9,454.6 L405.9,454.0 L407.0,454.0 L408.1,453.9 L409.2,454.0 L410.3,453.8 L411.3,453.9 L412.4,454.1 L413.4,454.3 L414.3,454.8 L415.3,455.3 L416.3,455.3 L417.4,455.2 L418.6,454.9 L419.6,455.4 L420.5,456.0 L421.5,456.5 L422.4,457.1 L423.4,457.5 L424.1,458.5 L425.0,459.1 L425.9,459.8 L426.8,460.3 L427.6,461.0 L428.5,461.6 L429.5,462.1 L430.4,462.3 L431.2,461.7 L431.9,461.2 L433.1,461.3 L434.1,460.9 L435.1,460.8 L436.0,460.2 L436.7,459.5 L437.6,459.0 L438.5,458.5 L439.6,458.4 L440.5,457.9 L441.5,457.4 L442.5,457.0 L443.5,456.3 L444.6,455.9 L445.6,455.4 L446.8,455.1 L447.9,454.6 L449.1,455.1 L450.2,455.5 L451.3,455.8 L452.4,455.9 L453.3,456.9 L454.4,457.1 L455.5,457.5"/></g><path d="M10.5,154.0 L11.9,153.1 L13.4,152.3 L14.7,151.3 L16.2,150.5 L17.7,149.9 L19.2,149.1 L20.6,148.2 L22.1,147.5 L23.5,146.7 L25.2,146.3 L26.6,145.5 L28.0,144.5 L29.4,143.5 L30.7,142.5 L32.2,141.8 L33.7,141.1 L35.3,140.5 L36.7,139.6 L38.0,138.7 L39.4,137.8 L40.8,137.0 L42.3,136.3 L43.8,135.5 L45.2,134.7 L46.6,133.9 L48.1,133.2 L49.6,132.5 L51.0,131.6 L52.4,130.7 L53.6,129.5 L55.0,128.7 L56.4,127.8 L58.0,127.2 L59.4,126.4 L60.8,125.5 L62.2,124.7 L63.6,123.8 L65.1,123.2 L66.6,122.5 L68.2,121.9 L69.6,121.1 L71.1,120.3 L72.5,119.6 L73.9,118.7 L75.4,117.9 L76.8,116.8 L78.2,115.6 L79.6,114.6 L81.1,113.5 L82.7,112.7 L83.9,111.3 L85.2,110.2 L86.7,109.1 L88.4,108.5 L89.9,107.7 L91.6,107.1 L93.3,106.5 L95.0,105.9 L96.6,105.2 L96.5,103.0 L96.2,100.8 L96.3,98.6 L98.8,97.2 L101.0,97.4 L103.2,97.6 L103.2,99.5 L103.4,101.2 L104.9,101.0 L106.5,100.6 L108.2,100.3 L109.8,100.0 L111.4,99.4 L113.0,99.0 L114.6,98.4 L116.3,98.5 L118.0,98.3 L119.6,98.0 L121.2,97.4 L123.0,96.8 L123.3,98.6 L123.7,100.3 L123.7,102.0 L124.1,103.5 L124.4,105.1 L123.8,106.7 L123.1,108.4 L122.5,110.1 L123.1,111.9 L123.5,113.7 L123.9,115.5 L124.5,117.3 L125.2,118.9 L127.0,120.2 L128.6,121.5 L130.2,122.9 L131.9,123.0 L133.5,122.8 L135.2,122.4 L136.8,122.3 L138.4,122.3 L139.9,122.8 L141.6,123.2 L142.0,121.4 L142.2,119.5 L142.4,117.6 L142.7,115.8 L143.0,114.0 L144.5,113.2 L146.2,112.4 L148.0,112.1 L149.8,111.6 L151.6,111.3 L153.4,111.7 L155.2,112.2 L157.0,112.5 L158.7,113.3 L160.4,113.8 L162.0,114.9 L163.8,115.5 L165.4,116.3 L167.1,117.2 L168.7,118.0 L170.3,119.1 L172.2,119.7 L174.0,120.5 L175.9,120.9 L177.9,121.4 L178.2,123.1 L178.6,124.9 L178.8,126.7 L179.1,128.4 L179.3,130.1 L180.9,130.2 L182.4,130.5 L183.9,130.9 L185.5,131.4 L187.1,131.1 L188.6,130.7 L190.1,130.1 L191.7,129.9 L193.3,130.8 L195.0,131.8 L196.5,130.6 L197.9,129.6 L199.2,128.6 L200.6,127.7 L202.0,126.7 L203.5,125.9 L205.0,125.2 L206.4,124.4 L207.8,123.5 L209.2,122.7 L210.5,121.7 L212.0,120.9 L213.3,120.0 L214.8,119.3 L216.2,118.5 L217.7,117.7 L219.1,116.8 L220.4,115.7 L221.9,114.9 L223.3,113.9 L224.7,113.1 L226.0,111.9 L227.5,111.1 L228.9,110.1 L230.3,109.1 L231.3,107.8 L232.2,106.4 L233.2,105.1 L234.2,103.8 L235.4,102.7 L236.4,101.4 L236.1,99.3 L235.7,97.1 L237.4,97.3 L239.0,97.1 L240.8,97.4 L242.4,97.0 L244.2,97.0 L245.9,96.9 L247.6,97.0 L249.3,97.0 L250.9,96.7 L252.6,96.5 L253.3,98.0 L254.0,99.5 L256.0,99.6 L258.1,99.9 L260.2,100.1 L261.4,98.4 L262.6,96.7 L264.0,95.1 L263.2,93.4 L262.4,91.7 L261.7,90.0 L261.3,88.4 L260.8,86.7 L260.1,85.1 L259.4,83.5 L259.2,81.7 L258.8,79.9 L260.7,79.2 L262.5,78.6 L264.2,77.8 L265.9,77.0 L267.7,76.2 L269.3,75.7 L270.9,75.5 L272.5,75.2 L274.2,74.9 L275.7,74.4 L277.4,74.0 L279.2,73.5 L279.5,75.4 L280.0,77.1 L280.3,78.8 L279.9,80.4 L279.5,81.9 L279.3,83.5 L278.9,85.2 L280.9,84.8 L282.5,84.9 L284.3,84.9 L286.0,84.9 L287.8,84.9 L290.0,84.8 L291.9,85.4 L294.0,86.0 L295.4,84.3 L297.1,82.8 L298.4,81.4 L300.0,80.2 L301.1,78.4 L302.0,77.0 L302.8,75.5 L303.9,74.2 L304.9,72.9 L306.4,71.2 L307.9,69.6 L310.7,68.5 L312.3,69.1 L314.0,69.7 L315.7,70.3 L317.2,71.8 L318.9,73.1 L319.3,74.8 L319.8,76.5 L319.8,78.2 L319.1,79.8 L318.2,81.3 L316.7,83.9 L314.7,84.0 L312.7,84.2 L310.6,84.1 L309.6,86.0 L310.0,88.2 L311.8,88.8 L313.7,89.4 L315.3,88.9 L317.0,88.6 L318.6,88.3 L320.6,88.5 L322.5,88.6 L324.0,87.7 L325.5,86.8 L327.4,88.7 L328.4,90.1 L329.4,91.6 L331.4,92.1 L332.4,90.9 L333.4,89.6 L334.7,88.2 L336.0,87.0 L337.6,85.9 L338.8,84.7 L340.1,83.5 L341.0,82.0 L341.7,79.9 L342.2,77.8 L343.1,76.2 L343.7,74.5 L344.3,73.0 L346.2,72.3 L347.2,73.8 L348.2,75.3 L351.0,75.9 L351.5,77.6 L351.9,79.3 L352.2,81.1 L353.0,82.6 L354.1,84.2 L353.8,86.4 L353.2,88.7 L352.0,90.6 L350.6,92.5 L351.8,94.1 L353.0,95.6 L354.4,97.2 L355.8,98.7 L356.6,100.2 L357.4,101.6 L357.8,103.2 L358.2,105.0 L358.8,106.6 L360.9,107.5 L363.0,108.6 L364.9,107.9 L366.9,107.6 L368.4,108.1 L369.8,108.5 L370.8,109.9 L371.7,111.2 L372.6,112.7 L372.6,114.4 L372.5,116.0 L372.9,117.8 L373.3,119.6 L375.2,119.2 L376.8,119.1 L378.5,118.9 L380.1,118.8 L381.8,118.8 L383.4,118.8 L385.1,118.9 L387.6,117.5 L389.3,118.2 L390.9,118.3 L392.5,118.9 L394.3,118.8 L395.9,119.1 L397.4,119.3 L398.1,117.4 L399.0,115.6 L399.8,113.6 L401.6,113.3 L403.2,112.8 L404.8,112.3 L406.4,111.8 L408.1,112.6 L409.7,113.4 L411.3,114.1 L412.1,115.6 L413.1,117.1 L414.2,118.6 L415.1,120.2 L415.4,122.1 L415.5,124.0 L415.9,125.9 L416.3,127.8 L417.9,128.4 L419.3,129.2 L420.7,129.8 L422.1,130.7 L423.6,131.4 L425.0,132.2 L426.3,133.1 L427.7,133.9 L429.4,134.7 L431.1,135.5 L432.7,136.3 L434.5,136.3 L436.2,136.1 L438.0,136.0 L439.7,135.7 L441.4,135.5 L442.7,136.6 L443.9,137.7 L445.4,138.8 L446.0,140.4 L446.7,141.9 L448.1,141.5 L449.6,141.1 L451.1,140.7 L452.7,140.2 L453.8,141.7 L454.9,143.2 L455.9,144.7 L455.1,146.0 L454.3,147.4 L453.6,148.8 L452.9,150.2 L453.7,152.1 L454.4,154.1 L453.0,155.4 L451.5,156.5 L450.2,157.7 L449.8,159.4 L449.2,161.0 L448.6,162.7 L447.6,164.2 L447.0,166.0 L446.2,167.7 L446.5,169.7 L446.5,171.6 L446.5,173.4 L446.6,175.3 L445.7,176.7 L444.7,177.9 L443.4,179.0 L442.3,180.2 L441.4,181.7 L440.8,183.4 L440.1,185.0 L441.3,186.3 L442.5,187.5 L441.4,188.6 L440.3,189.7 L439.2,190.9 L438.3,192.2 L437.4,193.6 L436.3,195.6 L435.1,197.4 L433.8,198.7 L432.5,199.8 L431.1,201.1 L429.9,203.1 L428.9,205.1 L429.1,207.2 L429.3,209.2 L429.1,211.3 L430.0,212.9 L430.5,214.7 L431.4,216.3 L433.9,217.6 L434.1,219.4 L434.6,221.1 L434.8,222.9 L435.2,224.5 L435.1,226.5 L436.8,226.4 L438.6,226.3 L440.2,226.1 L441.9,225.7 L443.6,225.5 L445.2,225.1 L446.5,223.9 L447.7,222.5 L449.4,223.9 L451.1,225.0 L452.7,226.3 L454.6,226.2 L456.5,225.9 L458.4,225.5 L460.3,225.1 L462.2,225.8 L464.0,226.5 L465.9,227.1 L467.8,227.7 L469.7,227.6 L471.6,227.7 L473.4,227.8 L475.3,227.9 L476.8,228.1 L478.4,228.3 L480.1,228.5 L481.7,228.8 L482.1,230.5 L482.4,232.2 L482.7,234.0 L484.6,234.2 L486.6,234.2 L488.4,234.2 L490.2,234.0 L491.3,235.2 L492.3,236.4 L493.3,237.7 L494.4,238.8 L495.5,240.1 L496.8,241.7 L497.9,243.5 L499.2,245.1 L500.0,246.6 L500.9,248.1 L501.6,249.6 L502.5,250.9 L503.3,252.2 L504.8,252.5 L506.4,252.9 L508.0,253.6 L509.6,254.0 L511.2,254.4 L513.0,254.7 L512.1,256.1 L511.3,257.5 L510.4,258.9 L509.2,260.2 L507.8,261.4 L506.5,262.6 L505.3,263.9 L504.0,265.8 L502.8,267.7 L503.1,269.3 L503.3,270.9 L503.8,272.4 L504.1,274.0 L504.7,275.8 L505.6,277.4 L506.3,279.3 L508.5,280.3 L510.3,281.7 L512.0,281.6 L513.7,281.8 L515.4,281.9 L517.1,281.6 L518.7,281.6 L520.4,281.5 L522.0,282.5 L523.7,283.2 L525.3,284.1 L525.6,285.6 L526.1,287.1 L526.4,288.7 L527.0,290.2 L527.7,291.9 L528.7,293.5 L529.4,295.3 L529.0,297.2 L528.5,299.0 L528.1,300.9 L527.6,302.8 L528.0,304.9 L528.4,307.0 L528.7,309.2 L530.7,310.6 L532.6,311.9 L533.7,313.9 L534.9,316.1 L533.4,317.7 L532.0,319.5 L530.2,320.8 L528.5,321.1 L526.8,321.4 L525.1,321.8 L523.5,322.2 L521.7,322.6 L520.7,323.9 L519.6,325.2 L518.8,326.6 L517.7,327.8 L516.7,329.0 L515.5,330.1 L514.3,331.4 L513.1,332.7 L511.8,333.9 L510.6,335.2 L509.4,336.5 L508.1,337.7 L506.9,339.1 L505.6,340.3 L504.7,341.8 L504.0,343.6 L503.0,345.1 L502.2,346.9 L501.1,348.4 L500.2,350.1 L499.5,352.0 L499.0,353.9 L499.7,355.8 L500.4,357.7 L499.1,358.9 L497.9,360.0 L495.4,358.8 L494.2,357.0 L493.0,355.1 L491.3,353.9 L489.7,352.5 L488.0,351.3 L486.4,350.7 L484.6,350.3 L482.9,349.9 L481.2,350.3 L479.4,350.6 L477.8,351.1 L475.9,352.5 L474.1,353.9 L473.7,355.9 L473.4,358.0 L472.2,359.7 L470.7,361.3 L469.3,362.9 L467.3,364.0 L465.4,365.3 L464.6,367.0 L463.8,368.6 L462.7,370.2 L462.2,371.8 L461.4,373.4 L461.3,375.1 L460.9,376.8 L460.7,378.5 L460.3,380.2 L459.5,381.7 L458.8,383.2 L458.2,384.9 L457.8,386.5 L457.6,388.1 L457.5,389.7 L457.1,391.3 L456.8,392.9 L455.4,394.5 L454.1,396.2 L452.6,397.7 L451.8,399.4 L450.7,400.9 L450.1,402.7 L449.3,404.2 L449.0,405.9 L448.3,407.4 L447.7,409.0 L446.5,410.5 L445.3,412.0 L446.5,414.0 L447.4,416.0 L447.0,418.0 L446.5,420.0 L446.5,421.7 L446.6,423.4 L446.7,425.1 L447.9,426.7 L449.2,428.4 L450.4,430.1 L451.2,431.8 L452.2,433.4 L453.1,435.0 L453.9,436.7 L454.6,438.5 L455.3,440.3 L456.2,441.9 L457.0,443.6 L457.8,445.3 L459.5,446.5 L461.2,447.7 L462.9,448.9 L464.2,450.8 L465.4,452.7 L465.9,454.3 L466.4,456.0 L467.0,457.5 L468.1,458.8 L469.1,460.2 L469.0,461.8 L468.5,463.3 L467.9,464.8 L467.4,466.3 L466.9,467.9 L466.4,469.5 L466.0,471.1 L465.4,472.7 L465.2,474.4 L464.5,476.0 L464.1,477.7 L463.6,479.4 L463.3,481.1 L462.9,482.8 L461.4,483.4 L459.8,484.0 L458.2,484.6 L456.7,485.2 L455.0,484.9 L453.4,484.4 L451.7,483.9 L450.1,484.1 L448.5,484.6 L447.0,485.0 L445.4,485.3 L443.5,485.8 L441.5,486.2 L439.7,487.0 L437.8,487.7 L436.2,488.5 L434.5,489.3 L432.7,490.1 L431.3,491.7 L430.2,493.4 L429.1,495.0 L427.9,494.0 L426.7,492.6 L425.1,492.2 L423.5,491.9 L421.9,491.9 L420.3,491.8 L418.7,492.7 L417.0,493.2 L415.3,493.9 L413.7,494.6 L412.3,495.4 L410.7,496.2 L409.3,496.8 L408.0,497.5 L407.7,495.6 L406.9,493.9 L406.8,492.1 L406.0,490.5 L405.8,488.8 L405.0,487.1 L404.9,485.4 L404.3,483.9 L404.4,482.2 L404.3,480.6 L404.3,478.9 L403.3,477.3 L402.4,475.6 L401.4,474.1 L400.3,472.7 L399.0,471.6 L397.8,470.3 L395.7,470.3 L393.6,470.5 L391.5,470.4 L389.9,471.3 L388.2,472.0 L386.4,472.8 L386.5,471.0 L386.7,469.2 L386.8,467.5 L386.9,465.7 L386.9,463.8 L385.6,462.5 L384.3,461.1 L382.9,459.9 L381.1,458.8 L379.4,457.6 L377.7,456.3 L375.9,456.0 L373.9,455.8 L372.0,455.7 L370.2,455.4 L368.3,454.7 L366.4,454.0 L364.6,453.3 L362.8,452.6 L361.5,450.8 L360.1,448.9 L358.8,447.3 L357.6,445.6 L356.5,443.8 L354.9,442.8 L353.4,441.8 L351.7,441.1 L350.2,440.2 L348.7,439.5 L347.2,438.5 L345.8,437.7 L344.2,437.0 L342.6,436.4 L340.9,436.2 L339.2,435.8 L337.6,435.2 L335.9,435.2 L334.3,435.0 L332.6,435.1 L330.9,434.9 L329.3,434.9 L327.6,435.1 L325.9,434.3 L324.2,433.5 L322.6,432.6 L322.5,430.8 L322.6,428.9 L322.7,427.0 L322.9,425.1 L323.2,423.6 L323.5,422.0 L323.8,420.5 L323.9,418.9 L325.3,417.7 L326.4,416.4 L327.8,415.1 L327.1,413.4 L326.4,411.5 L325.3,410.0 L324.3,408.4 L323.1,407.0 L322.3,405.4 L320.3,404.3 L318.6,402.9 L316.9,401.6 L315.5,400.0 L313.9,398.8 L314.7,396.9 L315.3,395.1 L315.9,393.2 L316.5,391.3 L316.9,389.3 L317.5,387.5 L318.2,385.6 L319.3,383.9 L319.9,382.0 L320.3,380.1 L321.7,377.7 L321.8,375.7 L322.3,373.9 L322.6,372.1 L323.1,370.2 L324.3,368.6 L325.5,366.9 L326.7,365.2 L326.7,363.5 L326.7,361.9 L326.6,360.2 L325.4,359.0 L324.1,357.8 L323.0,356.5 L321.3,356.4 L319.6,356.2 L317.9,356.2 L316.2,357.5 L314.5,358.9 L312.8,360.1 L311.6,361.4 L310.6,362.9 L309.5,364.3 L308.5,365.8 L307.1,366.9 L306.1,368.4 L304.9,369.5 L303.5,370.5 L302.7,372.3 L301.9,374.0 L301.3,375.9 L300.6,377.7 L300.6,379.6 L300.6,381.4 L300.4,383.3 L300.5,385.2 L300.0,386.8 L299.8,388.4 L299.3,389.8 L298.9,391.3 L296.8,391.4 L294.8,391.7 L292.8,392.6 L291.0,393.5 L289.3,394.4 L287.3,394.8 L285.4,395.3 L283.9,396.1 L282.4,397.0 L281.0,397.8 L279.6,398.8 L278.1,399.6 L276.7,400.6 L275.2,401.4 L273.4,402.0 L271.5,402.7 L269.6,403.2 L267.8,403.9 L266.0,403.0 L264.1,402.7 L262.2,402.2 L260.2,401.8 L258.3,401.6 L256.5,401.2 L254.7,400.6 L252.8,400.2 L251.0,399.5 L249.0,399.1 L247.2,398.4 L245.3,397.8 L243.7,398.0 L242.1,398.1 L240.5,398.6 L238.8,398.4 L237.2,398.7 L235.6,398.5 L234.0,399.1 L232.4,397.7 L230.6,396.6 L229.1,395.1 L227.2,393.9 L225.1,392.8 L225.0,390.8 L224.8,388.5 L225.1,386.5 L226.9,385.3 L228.8,384.3 L230.3,382.8 L232.0,382.1 L233.5,381.0 L235.4,380.3 L235.3,378.2 L235.3,376.1 L235.1,374.0 L234.4,372.3 L233.6,370.6 L232.8,368.9 L231.5,367.6 L230.3,366.4 L229.0,365.1 L227.3,364.4 L225.7,363.5 L223.9,362.7 L224.5,360.8 L225.2,358.9 L225.9,357.1 L226.5,355.2 L226.7,353.5 L226.6,351.7 L226.4,349.9 L226.0,348.1 L226.1,346.3 L227.4,344.5 L228.9,343.0 L230.1,341.3 L231.7,340.6 L233.2,339.7 L234.8,339.0 L234.8,337.0 L235.1,335.1 L233.2,334.1 L231.5,332.7 L229.6,334.2 L227.7,335.3 L224.9,334.3 L224.5,332.1 L224.0,330.1 L223.6,328.4 L223.2,326.7 L222.7,325.1 L221.0,323.8 L219.4,322.5 L217.8,321.2 L216.2,320.2 L214.4,319.6 L212.7,318.8 L211.0,317.7 L209.4,316.2 L207.8,314.7 L205.8,314.9 L203.8,315.0 L201.9,315.3 L200.1,315.9 L198.6,316.8 L197.1,317.8 L195.7,318.6 L194.2,319.6 L192.6,320.4 L190.8,319.9 L189.1,319.1 L187.4,318.6 L185.7,317.8 L183.9,317.5 L182.4,316.7 L180.7,316.4 L179.2,315.7 L177.6,315.2 L175.7,315.5 L173.9,315.9 L172.1,316.3 L170.3,316.5 L169.9,318.1 L169.4,319.7 L168.9,321.3 L167.5,323.2 L166.3,325.1 L165.0,323.5 L163.5,321.9 L162.4,320.2 L162.1,318.5 L162.0,316.7 L161.6,315.0 L161.2,313.4 L160.8,311.7 L160.5,310.0 L160.5,308.4 L160.6,306.8 L160.5,305.1 L160.6,303.5 L160.6,301.9 L160.8,300.3 L160.6,298.4 L160.4,296.4 L160.1,294.5 L159.8,292.5 L158.3,290.9 L156.8,289.3 L155.3,287.9 L153.5,287.3 L152.0,286.3 L150.3,285.5 L148.7,284.5 L147.1,283.6 L145.4,282.7 L143.5,282.6 L141.5,282.5 L139.5,282.3 L137.5,281.9 L137.2,280.0 L136.8,278.3 L136.5,276.6 L134.7,276.7 L132.9,276.7 L131.1,277.7 L129.6,279.2 L127.8,280.2 L126.0,281.0 L124.0,281.5 L122.2,282.4 L120.3,283.1 L118.2,281.9 L116.5,280.3 L115.3,279.3 L114.0,278.2 L112.7,277.3 L111.5,276.3 L110.2,275.3 L109.8,273.6 L109.1,271.9 L108.8,270.2 L108.7,268.5 L108.8,266.8 L108.5,265.2 L108.4,263.5 L108.2,261.8 L108.1,260.1 L107.4,258.3 L106.8,256.4 L106.1,254.5 L105.5,252.7 L105.1,250.8 L104.9,248.9 L104.5,247.1 L104.1,245.2 L103.5,243.3 L103.3,241.4 L102.9,239.6 L102.9,237.5 L100.9,236.3 L99.1,235.0 L97.8,233.4 L96.6,231.7 L95.4,230.0 L94.6,228.3 L93.8,226.7 L92.7,225.1 L92.0,223.4 L91.2,221.6 L90.4,219.7 L88.4,219.8 L86.5,219.8 L84.9,220.1 L83.3,220.4 L81.7,220.8 L80.1,221.3 L78.5,222.1 L76.8,223.0 L75.2,223.8 L73.3,224.4 L71.4,224.9 L69.5,225.5 L67.6,226.1 L66.0,227.6 L64.5,229.0 L62.9,230.3 L62.5,231.9 L61.7,233.3 L61.1,234.9 L60.1,236.3 L58.7,238.1 L57.5,239.9 L55.8,239.1 L53.9,238.8 L52.0,237.6 L50.0,236.5 L48.5,235.9 L46.9,235.3 L45.5,234.5 L43.9,233.9 L43.5,232.2 L42.8,230.7 L42.2,229.1 L41.4,227.6 L40.4,226.1 L39.4,224.5 L38.5,223.0 L37.7,221.4 L36.1,220.0 L34.4,218.7 L32.6,217.6 L30.9,216.4 L29.0,215.4 L27.5,214.0 L25.9,213.3 L24.5,212.5 L22.9,211.8 L21.4,211.0 L19.8,210.3 L18.8,208.6 L17.7,206.9 L16.9,205.1 L17.1,203.2 L17.4,201.3 L17.5,199.4 L17.6,197.5 L17.2,195.4 L16.9,193.4 L16.4,191.3 L17.8,189.5 L19.0,187.5 L19.2,185.9 L19.3,184.2 L19.5,182.6 L20.0,181.0 L18.9,179.3 L17.6,177.7 L16.8,176.1 L16.0,174.5 L15.5,172.7 L15.0,171.0 L14.8,169.1 L14.4,167.2 L13.9,165.3 L13.4,163.6 L13.1,161.8 L12.8,160.0 L12.3,158.5 L11.8,157.0 L11.1,155.5Z" fill="none" stroke="#262626" stroke-width="2" stroke-linejoin="round"/><ellipse cx="0" cy="0" rx="3.4" ry="2.6" transform="translate(331.9,81.7) rotate(-45)" fill="#262626"/></g><g transform="translate(640,0)"><clipPath id="clipR"><path d="M10.5,154.0 L11.9,153.1 L13.4,152.3 L14.7,151.3 L16.2,150.5 L17.7,149.9 L19.2,149.1 L20.6,148.2 L22.1,147.5 L23.5,146.7 L25.2,146.3 L26.6,145.5 L28.0,144.5 L29.4,143.5 L30.7,142.5 L32.2,141.8 L33.7,141.1 L35.3,140.5 L36.7,139.6 L38.0,138.7 L39.4,137.8 L40.8,137.0 L42.3,136.3 L43.8,135.5 L45.2,134.7 L46.6,133.9 L48.1,133.2 L49.6,132.5 L51.0,131.6 L52.4,130.7 L53.6,129.5 L55.0,128.7 L56.4,127.8 L58.0,127.2 L59.4,126.4 L60.8,125.5 L62.2,124.7 L63.6,123.8 L65.1,123.2 L66.6,122.5 L68.2,121.9 L69.6,121.1 L71.1,120.3 L72.5,119.6 L73.9,118.7 L75.4,117.9 L76.8,116.8 L78.2,115.6 L79.6,114.6 L81.1,113.5 L82.7,112.7 L83.9,111.3 L85.2,110.2 L86.7,109.1 L88.4,108.5 L89.9,107.7 L91.6,107.1 L93.3,106.5 L95.0,105.9 L96.6,105.2 L96.5,103.0 L96.2,100.8 L96.3,98.6 L98.8,97.2 L101.0,97.4 L103.2,97.6 L103.2,99.5 L103.4,101.2 L104.9,101.0 L106.5,100.6 L108.2,100.3 L109.8,100.0 L111.4,99.4 L113.0,99.0 L114.6,98.4 L116.3,98.5 L118.0,98.3 L119.6,98.0 L121.2,97.4 L123.0,96.8 L123.3,98.6 L123.7,100.3 L123.7,102.0 L124.1,103.5 L124.4,105.1 L123.8,106.7 L123.1,108.4 L122.5,110.1 L123.1,111.9 L123.5,113.7 L123.9,115.5 L124.5,117.3 L125.2,118.9 L127.0,120.2 L128.6,121.5 L130.2,122.9 L131.9,123.0 L133.5,122.8 L135.2,122.4 L136.8,122.3 L138.4,122.3 L139.9,122.8 L141.6,123.2 L142.0,121.4 L142.2,119.5 L142.4,117.6 L142.7,115.8 L143.0,114.0 L144.5,113.2 L146.2,112.4 L148.0,112.1 L149.8,111.6 L151.6,111.3 L153.4,111.7 L155.2,112.2 L157.0,112.5 L158.7,113.3 L160.4,113.8 L162.0,114.9 L163.8,115.5 L165.4,116.3 L167.1,117.2 L168.7,118.0 L170.3,119.1 L172.2,119.7 L174.0,120.5 L175.9,120.9 L177.9,121.4 L178.2,123.1 L178.6,124.9 L178.8,126.7 L179.1,128.4 L179.3,130.1 L180.9,130.2 L182.4,130.5 L183.9,130.9 L185.5,131.4 L187.1,131.1 L188.6,130.7 L190.1,130.1 L191.7,129.9 L193.3,130.8 L195.0,131.8 L196.5,130.6 L197.9,129.6 L199.2,128.6 L200.6,127.7 L202.0,126.7 L203.5,125.9 L205.0,125.2 L206.4,124.4 L207.8,123.5 L209.2,122.7 L210.5,121.7 L212.0,120.9 L213.3,120.0 L214.8,119.3 L216.2,118.5 L217.7,117.7 L219.1,116.8 L220.4,115.7 L221.9,114.9 L223.3,113.9 L224.7,113.1 L226.0,111.9 L227.5,111.1 L228.9,110.1 L230.3,109.1 L231.3,107.8 L232.2,106.4 L233.2,105.1 L234.2,103.8 L235.4,102.7 L236.4,101.4 L236.1,99.3 L235.7,97.1 L237.4,97.3 L239.0,97.1 L240.8,97.4 L242.4,97.0 L244.2,97.0 L245.9,96.9 L247.6,97.0 L249.3,97.0 L250.9,96.7 L252.6,96.5 L253.3,98.0 L254.0,99.5 L256.0,99.6 L258.1,99.9 L260.2,100.1 L261.4,98.4 L262.6,96.7 L264.0,95.1 L263.2,93.4 L262.4,91.7 L261.7,90.0 L261.3,88.4 L260.8,86.7 L260.1,85.1 L259.4,83.5 L259.2,81.7 L258.8,79.9 L260.7,79.2 L262.5,78.6 L264.2,77.8 L265.9,77.0 L267.7,76.2 L269.3,75.7 L270.9,75.5 L272.5,75.2 L274.2,74.9 L275.7,74.4 L277.4,74.0 L279.2,73.5 L279.5,75.4 L280.0,77.1 L280.3,78.8 L279.9,80.4 L279.5,81.9 L279.3,83.5 L278.9,85.2 L280.9,84.8 L282.5,84.9 L284.3,84.9 L286.0,84.9 L287.8,84.9 L290.0,84.8 L291.9,85.4 L294.0,86.0 L295.4,84.3 L297.1,82.8 L298.4,81.4 L300.0,80.2 L301.1,78.4 L302.0,77.0 L302.8,75.5 L303.9,74.2 L304.9,72.9 L306.4,71.2 L307.9,69.6 L310.7,68.5 L312.3,69.1 L314.0,69.7 L315.7,70.3 L317.2,71.8 L318.9,73.1 L319.3,74.8 L319.8,76.5 L319.8,78.2 L319.1,79.8 L318.2,81.3 L316.7,83.9 L314.7,84.0 L312.7,84.2 L310.6,84.1 L309.6,86.0 L310.0,88.2 L311.8,88.8 L313.7,89.4 L315.3,88.9 L317.0,88.6 L318.6,88.3 L320.6,88.5 L322.5,88.6 L324.0,87.7 L325.5,86.8 L327.4,88.7 L328.4,90.1 L329.4,91.6 L331.4,92.1 L332.4,90.9 L333.4,89.6 L334.7,88.2 L336.0,87.0 L337.6,85.9 L338.8,84.7 L340.1,83.5 L341.0,82.0 L341.7,79.9 L342.2,77.8 L343.1,76.2 L343.7,74.5 L344.3,73.0 L346.2,72.3 L347.2,73.8 L348.2,75.3 L351.0,75.9 L351.5,77.6 L351.9,79.3 L352.2,81.1 L353.0,82.6 L354.1,84.2 L353.8,86.4 L353.2,88.7 L352.0,90.6 L350.6,92.5 L351.8,94.1 L353.0,95.6 L354.4,97.2 L355.8,98.7 L356.6,100.2 L357.4,101.6 L357.8,103.2 L358.2,105.0 L358.8,106.6 L360.9,107.5 L363.0,108.6 L364.9,107.9 L366.9,107.6 L368.4,108.1 L369.8,108.5 L370.8,109.9 L371.7,111.2 L372.6,112.7 L372.6,114.4 L372.5,116.0 L372.9,117.8 L373.3,119.6 L375.2,119.2 L376.8,119.1 L378.5,118.9 L380.1,118.8 L381.8,118.8 L383.4,118.8 L385.1,118.9 L387.6,117.5 L389.3,118.2 L390.9,118.3 L392.5,118.9 L394.3,118.8 L395.9,119.1 L397.4,119.3 L398.1,117.4 L399.0,115.6 L399.8,113.6 L401.6,113.3 L403.2,112.8 L404.8,112.3 L406.4,111.8 L408.1,112.6 L409.7,113.4 L411.3,114.1 L412.1,115.6 L413.1,117.1 L414.2,118.6 L415.1,120.2 L415.4,122.1 L415.5,124.0 L415.9,125.9 L416.3,127.8 L417.9,128.4 L419.3,129.2 L420.7,129.8 L422.1,130.7 L423.6,131.4 L425.0,132.2 L426.3,133.1 L427.7,133.9 L429.4,134.7 L431.1,135.5 L432.7,136.3 L434.5,136.3 L436.2,136.1 L438.0,136.0 L439.7,135.7 L441.4,135.5 L442.7,136.6 L443.9,137.7 L445.4,138.8 L446.0,140.4 L446.7,141.9 L448.1,141.5 L449.6,141.1 L451.1,140.7 L452.7,140.2 L453.8,141.7 L454.9,143.2 L455.9,144.7 L455.1,146.0 L454.3,147.4 L453.6,148.8 L452.9,150.2 L453.7,152.1 L454.4,154.1 L453.0,155.4 L451.5,156.5 L450.2,157.7 L449.8,159.4 L449.2,161.0 L448.6,162.7 L447.6,164.2 L447.0,166.0 L446.2,167.7 L446.5,169.7 L446.5,171.6 L446.5,173.4 L446.6,175.3 L445.7,176.7 L444.7,177.9 L443.4,179.0 L442.3,180.2 L441.4,181.7 L440.8,183.4 L440.1,185.0 L441.3,186.3 L442.5,187.5 L441.4,188.6 L440.3,189.7 L439.2,190.9 L438.3,192.2 L437.4,193.6 L436.3,195.6 L435.1,197.4 L433.8,198.7 L432.5,199.8 L431.1,201.1 L429.9,203.1 L428.9,205.1 L429.1,207.2 L429.3,209.2 L429.1,211.3 L430.0,212.9 L430.5,214.7 L431.4,216.3 L433.9,217.6 L434.1,219.4 L434.6,221.1 L434.8,222.9 L435.2,224.5 L435.1,226.5 L436.8,226.4 L438.6,226.3 L440.2,226.1 L441.9,225.7 L443.6,225.5 L445.2,225.1 L446.5,223.9 L447.7,222.5 L449.4,223.9 L451.1,225.0 L452.7,226.3 L454.6,226.2 L456.5,225.9 L458.4,225.5 L460.3,225.1 L462.2,225.8 L464.0,226.5 L465.9,227.1 L467.8,227.7 L469.7,227.6 L471.6,227.7 L473.4,227.8 L475.3,227.9 L476.8,228.1 L478.4,228.3 L480.1,228.5 L481.7,228.8 L482.1,230.5 L482.4,232.2 L482.7,234.0 L484.6,234.2 L486.6,234.2 L488.4,234.2 L490.2,234.0 L491.3,235.2 L492.3,236.4 L493.3,237.7 L494.4,238.8 L495.5,240.1 L496.8,241.7 L497.9,243.5 L499.2,245.1 L500.0,246.6 L500.9,248.1 L501.6,249.6 L502.5,250.9 L503.3,252.2 L504.8,252.5 L506.4,252.9 L508.0,253.6 L509.6,254.0 L511.2,254.4 L513.0,254.7 L512.1,256.1 L511.3,257.5 L510.4,258.9 L509.2,260.2 L507.8,261.4 L506.5,262.6 L505.3,263.9 L504.0,265.8 L502.8,267.7 L503.1,269.3 L503.3,270.9 L503.8,272.4 L504.1,274.0 L504.7,275.8 L505.6,277.4 L506.3,279.3 L508.5,280.3 L510.3,281.7 L512.0,281.6 L513.7,281.8 L515.4,281.9 L517.1,281.6 L518.7,281.6 L520.4,281.5 L522.0,282.5 L523.7,283.2 L525.3,284.1 L525.6,285.6 L526.1,287.1 L526.4,288.7 L527.0,290.2 L527.7,291.9 L528.7,293.5 L529.4,295.3 L529.0,297.2 L528.5,299.0 L528.1,300.9 L527.6,302.8 L528.0,304.9 L528.4,307.0 L528.7,309.2 L530.7,310.6 L532.6,311.9 L533.7,313.9 L534.9,316.1 L533.4,317.7 L532.0,319.5 L530.2,320.8 L528.5,321.1 L526.8,321.4 L525.1,321.8 L523.5,322.2 L521.7,322.6 L520.7,323.9 L519.6,325.2 L518.8,326.6 L517.7,327.8 L516.7,329.0 L515.5,330.1 L514.3,331.4 L513.1,332.7 L511.8,333.9 L510.6,335.2 L509.4,336.5 L508.1,337.7 L506.9,339.1 L505.6,340.3 L504.7,341.8 L504.0,343.6 L503.0,345.1 L502.2,346.9 L501.1,348.4 L500.2,350.1 L499.5,352.0 L499.0,353.9 L499.7,355.8 L500.4,357.7 L499.1,358.9 L497.9,360.0 L495.4,358.8 L494.2,357.0 L493.0,355.1 L491.3,353.9 L489.7,352.5 L488.0,351.3 L486.4,350.7 L484.6,350.3 L482.9,349.9 L481.2,350.3 L479.4,350.6 L477.8,351.1 L475.9,352.5 L474.1,353.9 L473.7,355.9 L473.4,358.0 L472.2,359.7 L470.7,361.3 L469.3,362.9 L467.3,364.0 L465.4,365.3 L464.6,367.0 L463.8,368.6 L462.7,370.2 L462.2,371.8 L461.4,373.4 L461.3,375.1 L460.9,376.8 L460.7,378.5 L460.3,380.2 L459.5,381.7 L458.8,383.2 L458.2,384.9 L457.8,386.5 L457.6,388.1 L457.5,389.7 L457.1,391.3 L456.8,392.9 L455.4,394.5 L454.1,396.2 L452.6,397.7 L451.8,399.4 L450.7,400.9 L450.1,402.7 L449.3,404.2 L449.0,405.9 L448.3,407.4 L447.7,409.0 L446.5,410.5 L445.3,412.0 L446.5,414.0 L447.4,416.0 L447.0,418.0 L446.5,420.0 L446.5,421.7 L446.6,423.4 L446.7,425.1 L447.9,426.7 L449.2,428.4 L450.4,430.1 L451.2,431.8 L452.2,433.4 L453.1,435.0 L453.9,436.7 L454.6,438.5 L455.3,440.3 L456.2,441.9 L457.0,443.6 L457.8,445.3 L459.5,446.5 L461.2,447.7 L462.9,448.9 L464.2,450.8 L465.4,452.7 L465.9,454.3 L466.4,456.0 L467.0,457.5 L468.1,458.8 L469.1,460.2 L469.0,461.8 L468.5,463.3 L467.9,464.8 L467.4,466.3 L466.9,467.9 L466.4,469.5 L466.0,471.1 L465.4,472.7 L465.2,474.4 L464.5,476.0 L464.1,477.7 L463.6,479.4 L463.3,481.1 L462.9,482.8 L461.4,483.4 L459.8,484.0 L458.2,484.6 L456.7,485.2 L455.0,484.9 L453.4,484.4 L451.7,483.9 L450.1,484.1 L448.5,484.6 L447.0,485.0 L445.4,485.3 L443.5,485.8 L441.5,486.2 L439.7,487.0 L437.8,487.7 L436.2,488.5 L434.5,489.3 L432.7,490.1 L431.3,491.7 L430.2,493.4 L429.1,495.0 L427.9,494.0 L426.7,492.6 L425.1,492.2 L423.5,491.9 L421.9,491.9 L420.3,491.8 L418.7,492.7 L417.0,493.2 L415.3,493.9 L413.7,494.6 L412.3,495.4 L410.7,496.2 L409.3,496.8 L408.0,497.5 L407.7,495.6 L406.9,493.9 L406.8,492.1 L406.0,490.5 L405.8,488.8 L405.0,487.1 L404.9,485.4 L404.3,483.9 L404.4,482.2 L404.3,480.6 L404.3,478.9 L403.3,477.3 L402.4,475.6 L401.4,474.1 L400.3,472.7 L399.0,471.6 L397.8,470.3 L395.7,470.3 L393.6,470.5 L391.5,470.4 L389.9,471.3 L388.2,472.0 L386.4,472.8 L386.5,471.0 L386.7,469.2 L386.8,467.5 L386.9,465.7 L386.9,463.8 L385.6,462.5 L384.3,461.1 L382.9,459.9 L381.1,458.8 L379.4,457.6 L377.7,456.3 L375.9,456.0 L373.9,455.8 L372.0,455.7 L370.2,455.4 L368.3,454.7 L366.4,454.0 L364.6,453.3 L362.8,452.6 L361.5,450.8 L360.1,448.9 L358.8,447.3 L357.6,445.6 L356.5,443.8 L354.9,442.8 L353.4,441.8 L351.7,441.1 L350.2,440.2 L348.7,439.5 L347.2,438.5 L345.8,437.7 L344.2,437.0 L342.6,436.4 L340.9,436.2 L339.2,435.8 L337.6,435.2 L335.9,435.2 L334.3,435.0 L332.6,435.1 L330.9,434.9 L329.3,434.9 L327.6,435.1 L325.9,434.3 L324.2,433.5 L322.6,432.6 L322.5,430.8 L322.6,428.9 L322.7,427.0 L322.9,425.1 L323.2,423.6 L323.5,422.0 L323.8,420.5 L323.9,418.9 L325.3,417.7 L326.4,416.4 L327.8,415.1 L327.1,413.4 L326.4,411.5 L325.3,410.0 L324.3,408.4 L323.1,407.0 L322.3,405.4 L320.3,404.3 L318.6,402.9 L316.9,401.6 L315.5,400.0 L313.9,398.8 L314.7,396.9 L315.3,395.1 L315.9,393.2 L316.5,391.3 L316.9,389.3 L317.5,387.5 L318.2,385.6 L319.3,383.9 L319.9,382.0 L320.3,380.1 L321.7,377.7 L321.8,375.7 L322.3,373.9 L322.6,372.1 L323.1,370.2 L324.3,368.6 L325.5,366.9 L326.7,365.2 L326.7,363.5 L326.7,361.9 L326.6,360.2 L325.4,359.0 L324.1,357.8 L323.0,356.5 L321.3,356.4 L319.6,356.2 L317.9,356.2 L316.2,357.5 L314.5,358.9 L312.8,360.1 L311.6,361.4 L310.6,362.9 L309.5,364.3 L308.5,365.8 L307.1,366.9 L306.1,368.4 L304.9,369.5 L303.5,370.5 L302.7,372.3 L301.9,374.0 L301.3,375.9 L300.6,377.7 L300.6,379.6 L300.6,381.4 L300.4,383.3 L300.5,385.2 L300.0,386.8 L299.8,388.4 L299.3,389.8 L298.9,391.3 L296.8,391.4 L294.8,391.7 L292.8,392.6 L291.0,393.5 L289.3,394.4 L287.3,394.8 L285.4,395.3 L283.9,396.1 L282.4,397.0 L281.0,397.8 L279.6,398.8 L278.1,399.6 L276.7,400.6 L275.2,401.4 L273.4,402.0 L271.5,402.7 L269.6,403.2 L267.8,403.9 L266.0,403.0 L264.1,402.7 L262.2,402.2 L260.2,401.8 L258.3,401.6 L256.5,401.2 L254.7,400.6 L252.8,400.2 L251.0,399.5 L249.0,399.1 L247.2,398.4 L245.3,397.8 L243.7,398.0 L242.1,398.1 L240.5,398.6 L238.8,398.4 L237.2,398.7 L235.6,398.5 L234.0,399.1 L232.4,397.7 L230.6,396.6 L229.1,395.1 L227.2,393.9 L225.1,392.8 L225.0,390.8 L224.8,388.5 L225.1,386.5 L226.9,385.3 L228.8,384.3 L230.3,382.8 L232.0,382.1 L233.5,381.0 L235.4,380.3 L235.3,378.2 L235.3,376.1 L235.1,374.0 L234.4,372.3 L233.6,370.6 L232.8,368.9 L231.5,367.6 L230.3,366.4 L229.0,365.1 L227.3,364.4 L225.7,363.5 L223.9,362.7 L224.5,360.8 L225.2,358.9 L225.9,357.1 L226.5,355.2 L226.7,353.5 L226.6,351.7 L226.4,349.9 L226.0,348.1 L226.1,346.3 L227.4,344.5 L228.9,343.0 L230.1,341.3 L231.7,340.6 L233.2,339.7 L234.8,339.0 L234.8,337.0 L235.1,335.1 L233.2,334.1 L231.5,332.7 L229.6,334.2 L227.7,335.3 L224.9,334.3 L224.5,332.1 L224.0,330.1 L223.6,328.4 L223.2,326.7 L222.7,325.1 L221.0,323.8 L219.4,322.5 L217.8,321.2 L216.2,320.2 L214.4,319.6 L212.7,318.8 L211.0,317.7 L209.4,316.2 L207.8,314.7 L205.8,314.9 L203.8,315.0 L201.9,315.3 L200.1,315.9 L198.6,316.8 L197.1,317.8 L195.7,318.6 L194.2,319.6 L192.6,320.4 L190.8,319.9 L189.1,319.1 L187.4,318.6 L185.7,317.8 L183.9,317.5 L182.4,316.7 L180.7,316.4 L179.2,315.7 L177.6,315.2 L175.7,315.5 L173.9,315.9 L172.1,316.3 L170.3,316.5 L169.9,318.1 L169.4,319.7 L168.9,321.3 L167.5,323.2 L166.3,325.1 L165.0,323.5 L163.5,321.9 L162.4,320.2 L162.1,318.5 L162.0,316.7 L161.6,315.0 L161.2,313.4 L160.8,311.7 L160.5,310.0 L160.5,308.4 L160.6,306.8 L160.5,305.1 L160.6,303.5 L160.6,301.9 L160.8,300.3 L160.6,298.4 L160.4,296.4 L160.1,294.5 L159.8,292.5 L158.3,290.9 L156.8,289.3 L155.3,287.9 L153.5,287.3 L152.0,286.3 L150.3,285.5 L148.7,284.5 L147.1,283.6 L145.4,282.7 L143.5,282.6 L141.5,282.5 L139.5,282.3 L137.5,281.9 L137.2,280.0 L136.8,278.3 L136.5,276.6 L134.7,276.7 L132.9,276.7 L131.1,277.7 L129.6,279.2 L127.8,280.2 L126.0,281.0 L124.0,281.5 L122.2,282.4 L120.3,283.1 L118.2,281.9 L116.5,280.3 L115.3,279.3 L114.0,278.2 L112.7,277.3 L111.5,276.3 L110.2,275.3 L109.8,273.6 L109.1,271.9 L108.8,270.2 L108.7,268.5 L108.8,266.8 L108.5,265.2 L108.4,263.5 L108.2,261.8 L108.1,260.1 L107.4,258.3 L106.8,256.4 L106.1,254.5 L105.5,252.7 L105.1,250.8 L104.9,248.9 L104.5,247.1 L104.1,245.2 L103.5,243.3 L103.3,241.4 L102.9,239.6 L102.9,237.5 L100.9,236.3 L99.1,235.0 L97.8,233.4 L96.6,231.7 L95.4,230.0 L94.6,228.3 L93.8,226.7 L92.7,225.1 L92.0,223.4 L91.2,221.6 L90.4,219.7 L88.4,219.8 L86.5,219.8 L84.9,220.1 L83.3,220.4 L81.7,220.8 L80.1,221.3 L78.5,222.1 L76.8,223.0 L75.2,223.8 L73.3,224.4 L71.4,224.9 L69.5,225.5 L67.6,226.1 L66.0,227.6 L64.5,229.0 L62.9,230.3 L62.5,231.9 L61.7,233.3 L61.1,234.9 L60.1,236.3 L58.7,238.1 L57.5,239.9 L55.8,239.1 L53.9,238.8 L52.0,237.6 L50.0,236.5 L48.5,235.9 L46.9,235.3 L45.5,234.5 L43.9,233.9 L43.5,232.2 L42.8,230.7 L42.2,229.1 L41.4,227.6 L40.4,226.1 L39.4,224.5 L38.5,223.0 L37.7,221.4 L36.1,220.0 L34.4,218.7 L32.6,217.6 L30.9,216.4 L29.0,215.4 L27.5,214.0 L25.9,213.3 L24.5,212.5 L22.9,211.8 L21.4,211.0 L19.8,210.3 L18.8,208.6 L17.7,206.9 L16.9,205.1 L17.1,203.2 L17.4,201.3 L17.5,199.4 L17.6,197.5 L17.2,195.4 L16.9,193.4 L16.4,191.3 L17.8,189.5 L19.0,187.5 L19.2,185.9 L19.3,184.2 L19.5,182.6 L20.0,181.0 L18.9,179.3 L17.6,177.7 L16.8,176.1 L16.0,174.5 L15.5,172.7 L15.0,171.0 L14.8,169.1 L14.4,167.2 L13.9,165.3 L13.4,163.6 L13.1,161.8 L12.8,160.0 L12.3,158.5 L11.8,157.0 L11.1,155.5Z"/></clipPath><g clip-path="url(#clipR)" shape-rendering="crispEdges"><path d="M10.5,154.0 L11.9,153.1 L13.4,152.3 L14.7,151.3 L16.2,150.5 L17.7,149.9 L19.2,149.1 L20.6,148.2 L22.1,147.5 L23.5,146.7 L25.2,146.3 L26.6,145.5 L28.0,144.5 L29.4,143.5 L30.7,142.5 L32.2,141.8 L33.7,141.1 L35.3,140.5 L36.7,139.6 L38.0,138.7 L39.4,137.8 L40.8,137.0 L42.3,136.3 L43.8,135.5 L45.2,134.7 L46.6,133.9 L48.1,133.2 L49.6,132.5 L51.0,131.6 L52.4,130.7 L53.6,129.5 L55.0,128.7 L56.4,127.8 L58.0,127.2 L59.4,126.4 L60.8,125.5 L62.2,124.7 L63.6,123.8 L65.1,123.2 L66.6,122.5 L68.2,121.9 L69.6,121.1 L71.1,120.3 L72.5,119.6 L73.9,118.7 L75.4,117.9 L76.8,116.8 L78.2,115.6 L79.6,114.6 L81.1,113.5 L82.7,112.7 L83.9,111.3 L85.2,110.2 L86.7,109.1 L88.4,108.5 L89.9,107.7 L91.6,107.1 L93.3,106.5 L95.0,105.9 L96.6,105.2 L96.5,103.0 L96.2,100.8 L96.3,98.6 L98.8,97.2 L101.0,97.4 L103.2,97.6 L103.2,99.5 L103.4,101.2 L104.9,101.0 L106.5,100.6 L108.2,100.3 L109.8,100.0 L111.4,99.4 L113.0,99.0 L114.6,98.4 L116.3,98.5 L118.0,98.3 L119.6,98.0 L121.2,97.4 L123.0,96.8 L123.3,98.6 L123.7,100.3 L123.7,102.0 L124.1,103.5 L124.4,105.1 L123.8,106.7 L123.1,108.4 L122.5,110.1 L123.1,111.9 L123.5,113.7 L123.9,115.5 L124.5,117.3 L125.2,118.9 L127.0,120.2 L128.6,121.5 L130.2,122.9 L131.9,123.0 L133.5,122.8 L135.2,122.4 L136.8,122.3 L138.4,122.3 L139.9,122.8 L141.6,123.2 L142.0,121.4 L142.2,119.5 L142.4,117.6 L142.7,115.8 L143.0,114.0 L144.5,113.2 L146.2,112.4 L148.0,112.1 L149.8,111.6 L151.6,111.3 L153.4,111.7 L155.2,112.2 L157.0,112.5 L158.7,113.3 L160.4,113.8 L162.0,114.9 L163.8,115.5 L165.4,116.3 L167.1,117.2 L168.7,118.0 L170.3,119.1 L172.2,119.7 L174.0,120.5 L175.9,120.9 L177.9,121.4 L178.2,123.1 L178.6,124.9 L178.8,126.7 L179.1,128.4 L179.3,130.1 L180.9,130.2 L182.4,130.5 L183.9,130.9 L185.5,131.4 L187.1,131.1 L188.6,130.7 L190.1,130.1 L191.7,129.9 L193.3,130.8 L195.0,131.8 L196.5,130.6 L197.9,129.6 L199.2,128.6 L200.6,127.7 L202.0,126.7 L203.5,125.9 L205.0,125.2 L206.4,124.4 L207.8,123.5 L209.2,122.7 L210.5,121.7 L212.0,120.9 L213.3,120.0 L214.8,119.3 L216.2,118.5 L217.7,117.7 L219.1,116.8 L220.4,115.7 L221.9,114.9 L223.3,113.9 L224.7,113.1 L226.0,111.9 L227.5,111.1 L228.9,110.1 L230.3,109.1 L231.3,107.8 L232.2,106.4 L233.2,105.1 L234.2,103.8 L235.4,102.7 L236.4,101.4 L236.1,99.3 L235.7,97.1 L237.4,97.3 L239.0,97.1 L240.8,97.4 L242.4,97.0 L244.2,97.0 L245.9,96.9 L247.6,97.0 L249.3,97.0 L250.9,96.7 L252.6,96.5 L253.3,98.0 L254.0,99.5 L256.0,99.6 L258.1,99.9 L260.2,100.1 L261.4,98.4 L262.6,96.7 L264.0,95.1 L263.2,93.4 L262.4,91.7 L261.7,90.0 L261.3,88.4 L260.8,86.7 L260.1,85.1 L259.4,83.5 L259.2,81.7 L258.8,79.9 L260.7,79.2 L262.5,78.6 L264.2,77.8 L265.9,77.0 L267.7,76.2 L269.3,75.7 L270.9,75.5 L272.5,75.2 L274.2,74.9 L275.7,74.4 L277.4,74.0 L279.2,73.5 L279.5,75.4 L280.0,77.1 L280.3,78.8 L279.9,80.4 L279.5,81.9 L279.3,83.5 L278.9,85.2 L280.9,84.8 L282.5,84.9 L284.3,84.9 L286.0,84.9 L287.8,84.9 L290.0,84.8 L291.9,85.4 L294.0,86.0 L295.4,84.3 L297.1,82.8 L298.4,81.4 L300.0,80.2 L301.1,78.4 L302.0,77.0 L302.8,75.5 L303.9,74.2 L304.9,72.9 L306.4,71.2 L307.9,69.6 L310.7,68.5 L312.3,69.1 L314.0,69.7 L315.7,70.3 L317.2,71.8 L318.9,73.1 L319.3,74.8 L319.8,76.5 L319.8,78.2 L319.1,79.8 L318.2,81.3 L316.7,83.9 L314.7,84.0 L312.7,84.2 L310.6,84.1 L309.6,86.0 L310.0,88.2 L311.8,88.8 L313.7,89.4 L315.3,88.9 L317.0,88.6 L318.6,88.3 L320.6,88.5 L322.5,88.6 L324.0,87.7 L325.5,86.8 L327.4,88.7 L328.4,90.1 L329.4,91.6 L331.4,92.1 L332.4,90.9 L333.4,89.6 L334.7,88.2 L336.0,87.0 L337.6,85.9 L338.8,84.7 L340.1,83.5 L341.0,82.0 L341.7,79.9 L342.2,77.8 L343.1,76.2 L343.7,74.5 L344.3,73.0 L346.2,72.3 L347.2,73.8 L348.2,75.3 L351.0,75.9 L351.5,77.6 L351.9,79.3 L352.2,81.1 L353.0,82.6 L354.1,84.2 L353.8,86.4 L353.2,88.7 L352.0,90.6 L350.6,92.5 L351.8,94.1 L353.0,95.6 L354.4,97.2 L355.8,98.7 L356.6,100.2 L357.4,101.6 L357.8,103.2 L358.2,105.0 L358.8,106.6 L360.9,107.5 L363.0,108.6 L364.9,107.9 L366.9,107.6 L368.4,108.1 L369.8,108.5 L370.8,109.9 L371.7,111.2 L372.6,112.7 L372.6,114.4 L372.5,116.0 L372.9,117.8 L373.3,119.6 L375.2,119.2 L376.8,119.1 L378.5,118.9 L380.1,118.8 L381.8,118.8 L383.4,118.8 L385.1,118.9 L387.6,117.5 L389.3,118.2 L390.9,118.3 L392.5,118.9 L394.3,118.8 L395.9,119.1 L397.4,119.3 L398.1,117.4 L399.0,115.6 L399.8,113.6 L401.6,113.3 L403.2,112.8 L404.8,112.3 L406.4,111.8 L408.1,112.6 L409.7,113.4 L411.3,114.1 L412.1,115.6 L413.1,117.1 L414.2,118.6 L415.1,120.2 L415.4,122.1 L415.5,124.0 L415.9,125.9 L416.3,127.8 L417.9,128.4 L419.3,129.2 L420.7,129.8 L422.1,130.7 L423.6,131.4 L425.0,132.2 L426.3,133.1 L427.7,133.9 L429.4,134.7 L431.1,135.5 L432.7,136.3 L434.5,136.3 L436.2,136.1 L438.0,136.0 L439.7,135.7 L441.4,135.5 L442.7,136.6 L443.9,137.7 L445.4,138.8 L446.0,140.4 L446.7,141.9 L448.1,141.5 L449.6,141.1 L451.1,140.7 L452.7,140.2 L453.8,141.7 L454.9,143.2 L455.9,144.7 L455.1,146.0 L454.3,147.4 L453.6,148.8 L452.9,150.2 L453.7,152.1 L454.4,154.1 L453.0,155.4 L451.5,156.5 L450.2,157.7 L449.8,159.4 L449.2,161.0 L448.6,162.7 L447.6,164.2 L447.0,166.0 L446.2,167.7 L446.5,169.7 L446.5,171.6 L446.5,173.4 L446.6,175.3 L445.7,176.7 L444.7,177.9 L443.4,179.0 L442.3,180.2 L441.4,181.7 L440.8,183.4 L440.1,185.0 L441.3,186.3 L442.5,187.5 L441.4,188.6 L440.3,189.7 L439.2,190.9 L438.3,192.2 L437.4,193.6 L436.3,195.6 L435.1,197.4 L433.8,198.7 L432.5,199.8 L431.1,201.1 L429.9,203.1 L428.9,205.1 L429.1,207.2 L429.3,209.2 L429.1,211.3 L430.0,212.9 L430.5,214.7 L431.4,216.3 L433.9,217.6 L434.1,219.4 L434.6,221.1 L434.8,222.9 L435.2,224.5 L435.1,226.5 L436.8,226.4 L438.6,226.3 L440.2,226.1 L441.9,225.7 L443.6,225.5 L445.2,225.1 L446.5,223.9 L447.7,222.5 L449.4,223.9 L451.1,225.0 L452.7,226.3 L454.6,226.2 L456.5,225.9 L458.4,225.5 L460.3,225.1 L462.2,225.8 L464.0,226.5 L465.9,227.1 L467.8,227.7 L469.7,227.6 L471.6,227.7 L473.4,227.8 L475.3,227.9 L476.8,228.1 L478.4,228.3 L480.1,228.5 L481.7,228.8 L482.1,230.5 L482.4,232.2 L482.7,234.0 L484.6,234.2 L486.6,234.2 L488.4,234.2 L490.2,234.0 L491.3,235.2 L492.3,236.4 L493.3,237.7 L494.4,238.8 L495.5,240.1 L496.8,241.7 L497.9,243.5 L499.2,245.1 L500.0,246.6 L500.9,248.1 L501.6,249.6 L502.5,250.9 L503.3,252.2 L504.8,252.5 L506.4,252.9 L508.0,253.6 L509.6,254.0 L511.2,254.4 L513.0,254.7 L512.1,256.1 L511.3,257.5 L510.4,258.9 L509.2,260.2 L507.8,261.4 L506.5,262.6 L505.3,263.9 L504.0,265.8 L502.8,267.7 L503.1,269.3 L503.3,270.9 L503.8,272.4 L504.1,274.0 L504.7,275.8 L505.6,277.4 L506.3,279.3 L508.5,280.3 L510.3,281.7 L512.0,281.6 L513.7,281.8 L515.4,281.9 L517.1,281.6 L518.7,281.6 L520.4,281.5 L522.0,282.5 L523.7,283.2 L525.3,284.1 L525.6,285.6 L526.1,287.1 L526.4,288.7 L527.0,290.2 L527.7,291.9 L528.7,293.5 L529.4,295.3 L529.0,297.2 L528.5,299.0 L528.1,300.9 L527.6,302.8 L528.0,304.9 L528.4,307.0 L528.7,309.2 L530.7,310.6 L532.6,311.9 L533.7,313.9 L534.9,316.1 L533.4,317.7 L532.0,319.5 L530.2,320.8 L528.5,321.1 L526.8,321.4 L525.1,321.8 L523.5,322.2 L521.7,322.6 L520.7,323.9 L519.6,325.2 L518.8,326.6 L517.7,327.8 L516.7,329.0 L515.5,330.1 L514.3,331.4 L513.1,332.7 L511.8,333.9 L510.6,335.2 L509.4,336.5 L508.1,337.7 L506.9,339.1 L505.6,340.3 L504.7,341.8 L504.0,343.6 L503.0,345.1 L502.2,346.9 L501.1,348.4 L500.2,350.1 L499.5,352.0 L499.0,353.9 L499.7,355.8 L500.4,357.7 L499.1,358.9 L497.9,360.0 L495.4,358.8 L494.2,357.0 L493.0,355.1 L491.3,353.9 L489.7,352.5 L488.0,351.3 L486.4,350.7 L484.6,350.3 L482.9,349.9 L481.2,350.3 L479.4,350.6 L477.8,351.1 L475.9,352.5 L474.1,353.9 L473.7,355.9 L473.4,358.0 L472.2,359.7 L470.7,361.3 L469.3,362.9 L467.3,364.0 L465.4,365.3 L464.6,367.0 L463.8,368.6 L462.7,370.2 L462.2,371.8 L461.4,373.4 L461.3,375.1 L460.9,376.8 L460.7,378.5 L460.3,380.2 L459.5,381.7 L458.8,383.2 L458.2,384.9 L457.8,386.5 L457.6,388.1 L457.5,389.7 L457.1,391.3 L456.8,392.9 L455.4,394.5 L454.1,396.2 L452.6,397.7 L451.8,399.4 L450.7,400.9 L450.1,402.7 L449.3,404.2 L449.0,405.9 L448.3,407.4 L447.7,409.0 L446.5,410.5 L445.3,412.0 L446.5,414.0 L447.4,416.0 L447.0,418.0 L446.5,420.0 L446.5,421.7 L446.6,423.4 L446.7,425.1 L447.9,426.7 L449.2,428.4 L450.4,430.1 L451.2,431.8 L452.2,433.4 L453.1,435.0 L453.9,436.7 L454.6,438.5 L455.3,440.3 L456.2,441.9 L457.0,443.6 L457.8,445.3 L459.5,446.5 L461.2,447.7 L462.9,448.9 L464.2,450.8 L465.4,452.7 L465.9,454.3 L466.4,456.0 L467.0,457.5 L468.1,458.8 L469.1,460.2 L469.0,461.8 L468.5,463.3 L467.9,464.8 L467.4,466.3 L466.9,467.9 L466.4,469.5 L466.0,471.1 L465.4,472.7 L465.2,474.4 L464.5,476.0 L464.1,477.7 L463.6,479.4 L463.3,481.1 L462.9,482.8 L461.4,483.4 L459.8,484.0 L458.2,484.6 L456.7,485.2 L455.0,484.9 L453.4,484.4 L451.7,483.9 L450.1,484.1 L448.5,484.6 L447.0,485.0 L445.4,485.3 L443.5,485.8 L441.5,486.2 L439.7,487.0 L437.8,487.7 L436.2,488.5 L434.5,489.3 L432.7,490.1 L431.3,491.7 L430.2,493.4 L429.1,495.0 L427.9,494.0 L426.7,492.6 L425.1,492.2 L423.5,491.9 L421.9,491.9 L420.3,491.8 L418.7,492.7 L417.0,493.2 L415.3,493.9 L413.7,494.6 L412.3,495.4 L410.7,496.2 L409.3,496.8 L408.0,497.5 L407.7,495.6 L406.9,493.9 L406.8,492.1 L406.0,490.5 L405.8,488.8 L405.0,487.1 L404.9,485.4 L404.3,483.9 L404.4,482.2 L404.3,480.6 L404.3,478.9 L403.3,477.3 L402.4,475.6 L401.4,474.1 L400.3,472.7 L399.0,471.6 L397.8,470.3 L395.7,470.3 L393.6,470.5 L391.5,470.4 L389.9,471.3 L388.2,472.0 L386.4,472.8 L386.5,471.0 L386.7,469.2 L386.8,467.5 L386.9,465.7 L386.9,463.8 L385.6,462.5 L384.3,461.1 L382.9,459.9 L381.1,458.8 L379.4,457.6 L377.7,456.3 L375.9,456.0 L373.9,455.8 L372.0,455.7 L370.2,455.4 L368.3,454.7 L366.4,454.0 L364.6,453.3 L362.8,452.6 L361.5,450.8 L360.1,448.9 L358.8,447.3 L357.6,445.6 L356.5,443.8 L354.9,442.8 L353.4,441.8 L351.7,441.1 L350.2,440.2 L348.7,439.5 L347.2,438.5 L345.8,437.7 L344.2,437.0 L342.6,436.4 L340.9,436.2 L339.2,435.8 L337.6,435.2 L335.9,435.2 L334.3,435.0 L332.6,435.1 L330.9,434.9 L329.3,434.9 L327.6,435.1 L325.9,434.3 L324.2,433.5 L322.6,432.6 L322.5,430.8 L322.6,428.9 L322.7,427.0 L322.9,425.1 L323.2,423.6 L323.5,422.0 L323.8,420.5 L323.9,418.9 L325.3,417.7 L326.4,416.4 L327.8,415.1 L327.1,413.4 L326.4,411.5 L325.3,410.0 L324.3,408.4 L323.1,407.0 L322.3,405.4 L320.3,404.3 L318.6,402.9 L316.9,401.6 L315.5,400.0 L313.9,398.8 L314.7,396.9 L315.3,395.1 L315.9,393.2 L316.5,391.3 L316.9,389.3 L317.5,387.5 L318.2,385.6 L319.3,383.9 L319.9,382.0 L320.3,380.1 L321.7,377.7 L321.8,375.7 L322.3,373.9 L322.6,372.1 L323.1,370.2 L324.3,368.6 L325.5,366.9 L326.7,365.2 L326.7,363.5 L326.7,361.9 L326.6,360.2 L325.4,359.0 L324.1,357.8 L323.0,356.5 L321.3,356.4 L319.6,356.2 L317.9,356.2 L316.2,357.5 L314.5,358.9 L312.8,360.1 L311.6,361.4 L310.6,362.9 L309.5,364.3 L308.5,365.8 L307.1,366.9 L306.1,368.4 L304.9,369.5 L303.5,370.5 L302.7,372.3 L301.9,374.0 L301.3,375.9 L300.6,377.7 L300.6,379.6 L300.6,381.4 L300.4,383.3 L300.5,385.2 L300.0,386.8 L299.8,388.4 L299.3,389.8 L298.9,391.3 L296.8,391.4 L294.8,391.7 L292.8,392.6 L291.0,393.5 L289.3,394.4 L287.3,394.8 L285.4,395.3 L283.9,396.1 L282.4,397.0 L281.0,397.8 L279.6,398.8 L278.1,399.6 L276.7,400.6 L275.2,401.4 L273.4,402.0 L271.5,402.7 L269.6,403.2 L267.8,403.9 L266.0,403.0 L264.1,402.7 L262.2,402.2 L260.2,401.8 L258.3,401.6 L256.5,401.2 L254.7,400.6 L252.8,400.2 L251.0,399.5 L249.0,399.1 L247.2,398.4 L245.3,397.8 L243.7,398.0 L242.1,398.1 L240.5,398.6 L238.8,398.4 L237.2,398.7 L235.6,398.5 L234.0,399.1 L232.4,397.7 L230.6,396.6 L229.1,395.1 L227.2,393.9 L225.1,392.8 L225.0,390.8 L224.8,388.5 L225.1,386.5 L226.9,385.3 L228.8,384.3 L230.3,382.8 L232.0,382.1 L233.5,381.0 L235.4,380.3 L235.3,378.2 L235.3,376.1 L235.1,374.0 L234.4,372.3 L233.6,370.6 L232.8,368.9 L231.5,367.6 L230.3,366.4 L229.0,365.1 L227.3,364.4 L225.7,363.5 L223.9,362.7 L224.5,360.8 L225.2,358.9 L225.9,357.1 L226.5,355.2 L226.7,353.5 L226.6,351.7 L226.4,349.9 L226.0,348.1 L226.1,346.3 L227.4,344.5 L228.9,343.0 L230.1,341.3 L231.7,340.6 L233.2,339.7 L234.8,339.0 L234.8,337.0 L235.1,335.1 L233.2,334.1 L231.5,332.7 L229.6,334.2 L227.7,335.3 L224.9,334.3 L224.5,332.1 L224.0,330.1 L223.6,328.4 L223.2,326.7 L222.7,325.1 L221.0,323.8 L219.4,322.5 L217.8,321.2 L216.2,320.2 L214.4,319.6 L212.7,318.8 L211.0,317.7 L209.4,316.2 L207.8,314.7 L205.8,314.9 L203.8,315.0 L201.9,315.3 L200.1,315.9 L198.6,316.8 L197.1,317.8 L195.7,318.6 L194.2,319.6 L192.6,320.4 L190.8,319.9 L189.1,319.1 L187.4,318.6 L185.7,317.8 L183.9,317.5 L182.4,316.7 L180.7,316.4 L179.2,315.7 L177.6,315.2 L175.7,315.5 L173.9,315.9 L172.1,316.3 L170.3,316.5 L169.9,318.1 L169.4,319.7 L168.9,321.3 L167.5,323.2 L166.3,325.1 L165.0,323.5 L163.5,321.9 L162.4,320.2 L162.1,318.5 L162.0,316.7 L161.6,315.0 L161.2,313.4 L160.8,311.7 L160.5,310.0 L160.5,308.4 L160.6,306.8 L160.5,305.1 L160.6,303.5 L160.6,301.9 L160.8,300.3 L160.6,298.4 L160.4,296.4 L160.1,294.5 L159.8,292.5 L158.3,290.9 L156.8,289.3 L155.3,287.9 L153.5,287.3 L152.0,286.3 L150.3,285.5 L148.7,284.5 L147.1,283.6 L145.4,282.7 L143.5,282.6 L141.5,282.5 L139.5,282.3 L137.5,281.9 L137.2,280.0 L136.8,278.3 L136.5,276.6 L134.7,276.7 L132.9,276.7 L131.1,277.7 L129.6,279.2 L127.8,280.2 L126.0,281.0 L124.0,281.5 L122.2,282.4 L120.3,283.1 L118.2,281.9 L116.5,280.3 L115.3,279.3 L114.0,278.2 L112.7,277.3 L111.5,276.3 L110.2,275.3 L109.8,273.6 L109.1,271.9 L108.8,270.2 L108.7,268.5 L108.8,266.8 L108.5,265.2 L108.4,263.5 L108.2,261.8 L108.1,260.1 L107.4,258.3 L106.8,256.4 L106.1,254.5 L105.5,252.7 L105.1,250.8 L104.9,248.9 L104.5,247.1 L104.1,245.2 L103.5,243.3 L103.3,241.4 L102.9,239.6 L102.9,237.5 L100.9,236.3 L99.1,235.0 L97.8,233.4 L96.6,231.7 L95.4,230.0 L94.6,228.3 L93.8,226.7 L92.7,225.1 L92.0,223.4 L91.2,221.6 L90.4,219.7 L88.4,219.8 L86.5,219.8 L84.9,220.1 L83.3,220.4 L81.7,220.8 L80.1,221.3 L78.5,222.1 L76.8,223.0 L75.2,223.8 L73.3,224.4 L71.4,224.9 L69.5,225.5 L67.6,226.1 L66.0,227.6 L64.5,229.0 L62.9,230.3 L62.5,231.9 L61.7,233.3 L61.1,234.9 L60.1,236.3 L58.7,238.1 L57.5,239.9 L55.8,239.1 L53.9,238.8 L52.0,237.6 L50.0,236.5 L48.5,235.9 L46.9,235.3 L45.5,234.5 L43.9,233.9 L43.5,232.2 L42.8,230.7 L42.2,229.1 L41.4,227.6 L40.4,226.1 L39.4,224.5 L38.5,223.0 L37.7,221.4 L36.1,220.0 L34.4,218.7 L32.6,217.6 L30.9,216.4 L29.0,215.4 L27.5,214.0 L25.9,213.3 L24.5,212.5 L22.9,211.8 L21.4,211.0 L19.8,210.3 L18.8,208.6 L17.7,206.9 L16.9,205.1 L17.1,203.2 L17.4,201.3 L17.5,199.4 L17.6,197.5 L17.2,195.4 L16.9,193.4 L16.4,191.3 L17.8,189.5 L19.0,187.5 L19.2,185.9 L19.3,184.2 L19.5,182.6 L20.0,181.0 L18.9,179.3 L17.6,177.7 L16.8,176.1 L16.0,174.5 L15.5,172.7 L15.0,171.0 L14.8,169.1 L14.4,167.2 L13.9,165.3 L13.4,163.6 L13.1,161.8 L12.8,160.0 L12.3,158.5 L11.8,157.0 L11.1,155.5Z" fill="#fdd487"/><path d="M70.0,100.0 L75.2,117.6 L76.4,130.2 L80.2,135.2 L87.7,142.7 L92.7,152.7 L100.3,155.2 L110.3,150.2 L120.3,149.0 L130.3,152.7 L136.6,157.7 L130.3,162.8 L122.8,170.3 L110.3,172.8 L95.2,170.3 L82.7,165.3 L72.7,165.3 L68.9,170.3 L70.2,180.3 L75.2,195.0 L72.7,205.1 L65.2,207.6 L61.4,200.0 L60.2,190.0 L50.1,183.8 L45.1,180.0 L22.6,181.3 L17.5,177.8 L0.0,178.0 L0.0,100.0Z" fill="#fba35e"/><path d="M10.0,156.0 L13.8,160.3 L18.8,165.3 L20.0,172.8 L15.0,177.8 L8.0,176.0Z" fill="#fdd487"/><path d="M100.0,90.0 L102.8,102.6 L102.8,120.2 L107.8,127.7 L117.8,131.4 L127.8,132.7 L137.8,135.2 L150.4,136.4 L154.1,130.2 L156.6,117.6 L157.9,113.9 L158.0,90.0Z" fill="#fff6b8"/><path d="M213.0,108.0 L220.1,122.7 L217.6,135.2 L210.1,145.2 L200.0,155.2 L190.0,165.3 L182.0,175.0 L180.5,180.0 L183.0,195.0 L178.0,210.1 L180.5,222.6 L190.5,223.9 L200.0,220.1 L217.6,211.3 L237.6,210.1 L245.2,202.6 L250.2,195.0 L260.2,187.5 L265.2,180.0 L285.0,205.0 L297.8,212.6 L305.3,225.1 L310.3,237.6 L320.4,238.9 L335.4,233.9 L345.4,230.1 L355.4,237.6 L365.5,240.2 L385.1,237.6 L405.1,240.2 L410.1,247.7 L412.6,257.7 L420.2,255.2 L430.2,250.2 L442.7,247.7 L455.2,246.4 L465.3,250.2 L475.3,257.7 L485.3,260.2 L495.3,257.7 L502.9,255.2 L515.0,255.0 L560.0,250.0 L560.0,40.0 L213.0,40.0Z" fill="#fff6b8"/><path d="M258.0,60.0 L275.0,60.0 L272.7,76.3 L277.7,85.1 L285.3,97.6 L290.3,110.1 L289.0,125.2 L285.3,137.7 L280.0,145.0 L277.7,147.7 L267.7,150.2 L257.7,142.7 L253.9,132.7 L260.2,122.7 L265.2,110.1 L262.7,97.6 L260.2,85.1Z" fill="#fdd487"/><path d="M368.0,90.0 L365.5,108.9 L355.4,117.6 L350.4,127.7 L346.7,137.7 L345.4,147.7 L338.3,147.9 L330.4,150.2 L322.6,149.9 L316.6,155.8 L315.3,162.0 L316.6,171.6 L322.6,175.5 L338.3,177.5 L354.1,175.5 L362.0,165.6 L369.9,159.7 L377.5,158.0 L385.1,152.7 L397.6,147.7 L410.1,142.7 L412.6,135.2 L411.4,120.2 L410.0,90.0Z" fill="#fdd487"/><path d="M245.0,203.0 L250.2,195.0 L260.2,187.5 L267.3,179.4 L271.3,177.5 L279.2,178.5 L291.0,179.4 L300.9,183.4 L310.0,181.0 L318.0,180.0 L323.5,182.4 L325.0,190.0 L322.6,199.2 L314.7,199.2 L305.0,200.0 L300.0,210.0 L297.8,215.0 L300.0,225.0 L295.0,240.0 L260.0,240.0 L250.0,230.0Z" fill="#fdd487"/><path d="M285.3,205.1 L287.0,195.0 L292.0,191.0 L297.8,190.0 L300.5,200.0 L299.0,210.0 L293.0,212.0 L287.0,210.0Z" fill="#fff6b8"/><path d="M440.0,120.0 L432.7,136.4 L427.7,145.2 L422.7,155.2 L410.1,159.0 L395.1,162.8 L387.6,170.3 L383.8,180.3 L375.0,187.5 L365.0,195.0 L362.5,207.6 L367.5,217.6 L385.1,223.9 L405.1,227.6 L422.7,230.1 L427.7,237.6 L427.7,242.7 L435.2,237.6 L437.7,230.1 L442.7,227.6 L450.0,225.0 L470.0,200.0 L470.0,120.0Z" fill="#e8f4e4"/><path d="M446.0,160.0 L444.0,165.3 L440.2,172.8 L435.2,180.3 L430.0,187.0 L420.2,190.0 L410.1,188.8 L400.1,192.5 L395.1,200.0 L395.1,207.6 L402.6,215.1 L415.1,217.6 L425.2,215.1 L430.2,210.1 L440.0,200.0 L460.0,170.0Z" fill="#c3e2ef"/><path d="M100.0,232.0 L105.3,240.2 L110.3,237.6 L117.8,245.2 L125.3,252.7 L135.3,260.2 L140.4,267.7 L150.4,275.2 L160.4,279.0 L175.4,281.0 L185.0,287.0 L197.6,297.5 L207.7,305.0 L212.7,315.1 L217.7,322.6 L225.0,330.0 L230.0,345.0 L200.0,345.0 L100.0,300.0Z" fill="#fff6b8"/><path d="M160.0,310.0 L162.0,307.5 L166.0,308.0 L167.6,312.0 L166.0,317.6 L161.0,316.0Z" fill="#e8f4e4"/><path d="M182.5,262.7 L187.5,255.2 L195.0,247.7 L210.1,240.2 L225.1,230.1 L240.2,222.6 L255.2,220.1 L270.2,222.6 L285.3,223.9 L292.8,227.6 L295.3,237.6 L290.3,250.2 L285.3,260.2 L282.0,275.0 L285.0,290.0 L292.8,290.3 L305.3,285.3 L315.3,277.7 L320.4,267.7 L330.4,272.7 L345.4,275.2 L355.4,267.7 L365.5,260.2 L380.0,252.0 L385.1,246.4 L405.1,247.7 L415.0,252.0 L425.0,262.0 L435.2,265.2 L447.7,262.7 L465.3,264.0 L480.3,266.5 L495.3,265.2 L502.9,262.7 L510.4,257.7 L515.0,255.0 L560.0,255.0 L560.0,500.0 L455.4,487.0 L450.0,482.0 L450.0,470.0 L452.0,462.0 L448.0,456.0 L430.5,453.0 L412.5,450.0 L396.0,441.0 L384.5,432.5 L384.5,421.0 L385.5,412.0 L378.0,401.0 L369.0,397.5 L360.6,390.7 L352.7,382.8 L344.8,376.9 L336.9,371.0 L327.1,363.1 L317.2,355.2 L315.2,347.3 L309.3,337.5 L301.4,325.6 L295.5,311.8 L289.6,300.0 L285.4,300.0 L275.3,305.0 L265.3,307.5 L260.3,312.6 L260.3,330.1 L255.3,340.1 L245.3,345.1 L240.3,342.6 L235.2,335.1 L235.2,325.1 L240.3,315.1 L247.8,310.1 L250.3,305.0 L247.8,297.5 L235.2,295.0 L222.7,297.5 L205.2,295.0 L190.0,290.3 L182.5,275.2Z" fill="#fba35e"/><path d="M412.0,255.0 L420.0,258.0 L425.0,270.0 L424.0,285.0 L423.1,300.0 L423.1,312.6 L419.9,325.2 L415.2,336.3 L408.9,347.3 L401.0,353.6 L391.5,354.4 L383.7,350.5 L378.9,342.6 L377.4,331.5 L378.9,320.5 L383.7,311.0 L391.5,304.7 L401.0,301.6 L407.0,299.0 L410.1,288.0 L412.6,280.3 L412.6,262.0Z" fill="#fdd487"/><path d="M197.5,270.2 L205.1,265.2 L220.1,257.7 L230.1,247.7 L242.7,237.6 L255.2,235.1 L266.5,235.1 L269.7,240.2 L265.2,247.7 L255.2,252.7 L247.7,260.2 L237.6,270.2 L225.1,277.7 L210.1,282.8 L200.0,282.8 L196.3,277.7Z" fill="#f46d43"/><path d="M311.3,307.9 L317.2,302.0 L325.1,299.0 L338.9,301.0 L352.7,306.0 L358.6,315.8 L360.6,327.6 L370.5,339.4 L378.3,351.3 L382.3,363.1 L378.3,369.0 L366.5,369.0 L352.7,363.1 L342.8,355.2 L331.0,343.4 L321.1,335.5 L313.3,325.6 L311.3,315.8Z" fill="#f46d43"/><path d="M442.1,286.6 L447.6,282.4 L461.4,279.7 L475.2,278.3 L489.1,275.5 L498.7,272.8 L503.0,271.0 L510.4,262.7 L515.0,258.0 L560.0,258.0 L560.0,440.0 L457.0,439.0 L452.4,438.9 L443.8,438.9 L430.7,436.8 L417.7,430.3 L409.0,421.6 L404.7,408.6 L398.2,397.7 L390.6,386.9 L390.0,380.0 L394.7,372.6 L402.6,367.8 L413.6,363.1 L423.1,355.2 L427.8,348.9 L432.6,341.0 L434.0,331.5 L435.2,325.2 L436.6,311.4 L438.0,297.6Z" fill="#f46d43"/><path d="M323.1,319.7 L327.1,311.8 L335.0,309.9 L344.8,313.8 L348.8,321.7 L342.8,328.6 L333.0,330.6 L325.1,325.6Z" fill="#d73027"/><path d="M449.0,292.1 L454.5,290.7 L468.3,290.0 L473.9,292.8 L476.6,301.8 L480.8,305.9 L489.1,307.3 L494.6,303.1 L493.9,294.9 L493.2,283.8 L497.3,281.0 L505.6,278.3 L516.7,282.4 L515.3,292.1 L513.9,303.1 L519.4,310.1 L526.4,315.6 L532.0,318.3 L540.0,320.0 L540.0,375.0 L470.0,380.0 L462.0,400.0 L452.0,412.0 L450.0,425.0 L445.0,430.3 L432.9,428.1 L422.1,417.2 L417.7,404.2 L415.6,389.0 L415.2,380.0 L421.5,369.4 L429.4,361.5 L435.7,353.6 L445.2,342.6 L451.8,340.0 L454.5,333.5 L455.9,325.2 L453.1,315.6 L454.5,311.4 L454.5,301.8Z" fill="#d73027"/><path d="M482.8,335.2 L485.6,326.9 L496.7,321.4 L513.2,324.2 L518.7,329.7 L535.0,320.0 L535.0,345.0 L493.9,354.5 L485.6,351.8Z" fill="#a50026"/><path d="M436.2,389.0 L437.2,382.5 L441.6,371.7 L452.4,367.4 L461.1,367.4 L470.0,365.0 L470.0,395.0 L458.9,393.4 L452.4,395.6 L441.6,395.6Z" fill="#a50026"/><path d="M271.8,369.0 L275.8,359.2 L285.6,356.2 L295.5,359.2 L299.4,369.0 L297.5,382.8 L289.6,386.8 L279.7,384.8 L273.8,378.9Z" fill="#fff6b8"/><path d="M388.4,339.4 L391.5,333.1 L396.3,330.0 L397.1,341.0 L392.3,345.0Z" fill="#fff6b8"/><path d="M312.0,390.0 L325.5,388.0 L338.0,387.0 L345.1,402.6 L346.4,410.1 L340.1,417.6 L330.1,416.3 L322.0,412.0 L312.0,405.0Z" fill="#fff6b8"/><path d="M417.8,476.5 L422.8,474.0 L430.4,475.2 L432.9,485.3 L430.4,491.5 L422.8,492.8 L419.1,485.3Z" fill="#fff6b8"/><path d="M85.2,187.5 L92.7,183.8 L102.8,187.5 L101.5,195.0 L92.7,195.0Z" fill="#fff6b8"/><path d="M474.0,238.9 L477.8,235.0 L481.6,238.9 L477.8,242.8Z" fill="#e8f4e4"/><path d="M169.6,140.2 L171.2,140.2 L171.2,149.0 L169.6,149.0Z" fill="#f46d43"/></g><g fill="none" stroke="#bababa" stroke-width="1.1" stroke-linejoin="round" stroke-linecap="round"><path d="M123.9,119.0 L124.3,120.6 L124.6,122.1 L125.2,123.6 L125.5,125.2 L125.2,126.5 L124.5,127.7 L124.2,129.0 L123.4,130.1 L123.1,131.4 L122.5,132.7 L123.6,133.9 L124.0,135.1 L124.8,136.2 L124.9,137.6 L125.1,139.0 L125.5,140.3 L125.8,141.5 L126.5,142.7 L125.8,143.7 L125.3,145.0 L124.4,145.9 L123.4,146.8 L122.5,147.7 L121.9,149.0 L121.1,150.0 L120.4,151.0 L119.5,152.0 L118.7,153.0 L117.8,154.0 L118.8,154.8 L120.0,155.4 L121.1,156.1 L122.3,156.8 L123.2,157.7 L124.3,158.5 L125.5,159.1 L126.7,159.6 L127.9,160.2 L128.3,161.5 L128.9,162.8 L129.5,164.0 L130.3,165.1 L130.9,166.3 L131.5,167.5 L131.9,168.9 L132.2,170.3 L132.0,171.7 L131.2,173.0 L130.7,174.2 L130.2,175.4 L129.9,176.7 L129.4,178.0 L129.3,179.4 L129.0,180.8 L129.1,182.2 L129.0,183.6 L129.2,185.0 L129.6,186.3 L130.1,187.6 L130.8,188.8 L131.8,190.0 L131.7,191.5 L131.6,193.1 L131.2,194.6 L130.8,196.0 L130.5,197.5 L131.4,198.7 L132.2,199.9 L133.0,201.2 L133.6,202.6 L134.3,203.9 L135.1,205.2 L135.6,206.4 L135.9,207.7 L136.3,208.9 L136.8,210.1 L137.4,211.4 L138.0,212.5 L138.7,213.7 L139.3,215.0 L139.9,216.3 L140.3,217.7 L140.3,219.0 L140.9,220.2 L141.4,221.4 L142.0,222.6 L142.2,223.9 L142.5,225.1 L142.9,226.4"/><path d="M92.7,225.1 L95.2,225.1 L96.6,225.3 L98.1,225.5 L99.5,225.5 L101.0,225.8 L102.4,226.0 L103.8,226.4 L105.3,226.6 L106.4,227.3 L107.7,227.5 L108.9,228.1 L110.3,228.2 L111.3,229.0 L112.6,229.2 L113.3,230.4 L114.4,231.4 L115.2,232.7 L116.1,233.9 L116.9,235.3 L117.8,236.4 L119.0,235.7 L120.2,234.9 L121.5,234.4 L122.8,233.7 L123.9,232.9 L125.0,232.0 L126.2,231.4 L127.5,231.0 L128.8,230.5 L130.1,230.0 L131.4,229.6 L132.7,229.1 L134.0,228.9 L135.3,228.4 L136.6,227.9 L137.8,227.3 L139.1,226.9 L140.4,226.7 L142.8,226.5 L143.3,227.8 L144.1,228.8 L144.4,230.1 L144.9,231.3 L145.3,232.7 L146.7,233.0 L148.2,233.3 L149.7,233.4 L151.1,233.4 L152.6,233.3 L153.9,233.3 L155.2,233.5 L156.0,232.4 L157.1,231.6 L158.1,230.5 L159.2,229.6 L160.0,228.4 L160.9,227.2 L161.9,226.2 L162.9,225.1 L164.4,225.2 L165.8,225.0 L167.2,224.9 L168.6,224.5 L170.0,224.3 L171.5,223.9 L172.9,223.7 L174.3,224.5 L175.4,225.6 L176.7,226.5 L177.9,227.4 L179.2,228.1 L180.5,228.9 L182.0,228.9 L183.4,229.2 L184.8,229.3 L186.2,229.7 L187.6,229.8 L189.0,230.2 L190.5,230.1 L191.0,231.3 L191.6,232.6 L192.2,233.8 L192.5,235.1 L193.0,236.4 L193.2,237.7 L193.6,239.1 L193.9,240.6 L195.5,240.8 L197.1,240.7 L198.6,240.6 L200.0,240.7 L201.7,240.8 L203.4,240.8 L205.1,240.6 L206.5,240.1 L207.9,239.9 L209.3,239.5 L210.7,239.1 L212.0,238.6 L213.3,238.1 L214.7,237.7 L216.2,237.5 L217.6,237.4 L219.0,237.8 L220.4,238.2 L221.8,238.4 L223.1,238.8 L224.6,238.9 L225.9,239.3 L227.4,239.5 L228.7,240.2 L230.1,240.4 L231.5,240.3 L232.9,239.8 L234.3,239.4 L235.7,239.2 L237.1,238.9 L238.5,238.5 L239.9,238.1 L241.2,237.6 L242.7,237.5 L243.9,237.0 L245.2,236.7 L246.4,236.1 L247.6,235.6 L248.8,235.2 L250.1,234.8 L251.4,234.4 L252.7,233.9 L254.2,233.8 L255.3,233.0 L256.8,232.7 L258.2,232.3 L259.7,231.8 L261.2,231.5 L262.7,231.3 L264.1,231.8 L265.5,232.4 L266.9,232.5 L268.3,232.8 L269.8,232.8 L271.3,232.8 L272.7,232.8 L274.2,232.3 L275.7,231.9 L277.2,231.5 L278.7,231.1 L280.3,231.2 L281.7,231.3 L283.2,231.7 L284.6,231.6 L286.0,231.7 L287.4,231.5 L288.9,231.4 L290.3,231.3 L291.0,230.2 L291.6,229.0 L292.4,227.9 L293.1,226.8 L294.1,225.8 L294.9,224.7 L295.7,223.6 L296.3,222.4 L296.9,221.0 L297.6,219.7 L299.2,219.6 L300.7,219.3 L302.3,219.2 L303.8,218.8 L305.3,218.6 L306.6,219.0 L307.8,219.6 L309.0,220.3 L310.2,220.8 L311.5,221.3 L312.7,221.6 L314.0,222.0 L315.3,222.3 L316.6,222.7 L318.0,222.8 L319.3,222.9 L320.7,223.1 L321.9,223.7 L323.0,224.5 L324.2,225.3 L325.4,225.9 L326.6,226.3 L328.0,226.5 L329.2,226.7 L330.4,227.2 L331.9,226.9 L333.3,226.6 L334.8,226.5 L336.4,226.5 L337.8,226.6 L338.7,227.6 L339.6,228.4 L340.5,229.4 L341.5,230.3 L342.5,231.1 L343.6,232.0 L344.6,232.8 L345.5,233.8 L346.6,234.5 L347.9,234.9 L349.1,235.5 L350.4,235.9 L351.6,236.3 L352.9,236.8 L354.1,237.3 L355.4,237.9 L356.8,237.8 L358.3,237.8 L359.7,237.7 L361.2,237.8 L362.6,237.6 L364.1,237.7 L365.5,237.6 L366.8,237.2 L368.0,236.6 L369.1,235.8 L370.3,235.3 L371.5,234.5 L372.7,233.9 L373.8,233.2 L375.0,232.4 L376.4,232.4 L377.7,232.6 L379.1,232.8 L380.5,232.9 L381.9,232.9 L383.2,232.9 L384.6,232.6 L386.0,232.5 L387.4,232.3 L388.7,232.5 L390.1,232.4 L391.5,232.6 L392.9,232.5 L394.3,232.5 L395.6,232.1 L397.0,231.8 L398.3,231.4 L399.6,230.9 L401.0,230.5 L402.3,230.3 L403.7,230.0 L405.0,229.7 L406.0,228.7 L407.1,227.9 L408.5,227.5 L409.8,227.1 L411.2,226.6 L412.3,225.8 L413.7,225.4 L414.9,224.8 L416.3,224.3 L417.6,223.8 L418.8,223.2 L420.1,222.7 L421.4,222.0 L422.7,221.5 L424.1,221.2 L425.5,220.9 L426.9,220.4 L428.0,219.4 L429.0,218.4 L430.2,217.6 L431.6,217.3 L433.0,217.1"/><path d="M50.2,236.0 L50.2,234.6 L50.2,233.3 L50.4,231.9 L50.0,230.5 L49.9,229.1 L49.9,227.7 L50.0,226.3 L51.6,226.2 L53.1,225.9 L54.6,225.6 L56.1,225.2 L57.6,225.1 L58.6,223.9 L59.7,223.0 L60.9,222.1 L62.0,221.1 L63.0,220.0 L63.9,218.7 L65.1,218.2 L66.3,217.8 L67.7,217.7 L69.0,217.5 L70.3,217.4 L71.4,217.0 L72.6,216.5 L73.1,217.5 L73.3,218.8 L73.6,220.1 L73.9,221.4"/><path d="M246.4,121.4 L246.7,122.8 L247.1,124.2 L247.8,125.5 L248.1,127.0 L248.6,128.3 L248.4,129.9 L248.7,131.3 L249.0,132.7"/><path d="M232.9,169.5 L232.1,170.9 L231.3,172.3 L230.6,173.7 L229.7,175.0 L228.8,176.5 L228.1,178.0 L227.4,179.5 L226.7,180.7 L226.1,182.0 L225.6,183.3 L225.2,184.6 L224.8,186.0 L224.5,187.4 L224.4,188.9 L224.4,190.5 L224.3,192.0 L224.2,193.7 L222.9,194.5 L221.6,195.3 L220.3,196.0 L219.1,196.6 L217.9,197.4 L217.2,198.6 L216.5,199.9 L215.8,201.2 L215.2,202.5 L214.8,203.9 L215.0,205.4 L215.2,206.8 L215.3,208.2 L214.8,209.6 L214.5,211.0 L214.7,212.3 L215.0,213.7 L215.4,215.0 L215.7,216.3 L216.2,217.7 L215.3,218.8 L214.2,220.0 L213.0,221.0 L211.9,221.9 L210.3,222.3 L209.0,223.1 L207.6,223.6 L206.2,224.1 L204.8,224.2 L203.4,224.4 L202.1,225.0 L200.7,225.4 L199.4,225.9 L198.4,227.3 L197.3,228.7 L195.9,229.5 L194.4,230.2 L193.0,231.0"/><path d="M200.0,173.7 L201.3,173.2 L202.6,172.8 L203.8,172.0 L205.2,171.8 L206.6,171.6 L207.9,171.1 L209.2,170.7 L210.5,170.2 L211.8,170.0 L213.2,170.1 L214.7,170.3 L216.1,170.2 L217.6,170.4 L219.0,169.9 L220.4,169.9 L221.7,169.6 L223.2,169.7 L224.6,169.7 L225.9,169.6 L227.4,169.6 L228.7,169.3 L230.1,169.3 L231.5,168.9 L232.9,168.9 L234.2,168.8 L235.6,168.9 L237.0,168.4 L238.3,168.4 L239.7,168.0 L241.1,168.2 L242.4,167.9 L243.8,168.1 L245.2,167.7 L246.4,168.4 L247.7,168.7 L249.0,169.1 L250.2,169.5 L251.6,169.8 L252.8,170.3 L254.2,170.6 L255.5,171.0 L256.5,172.1 L257.6,173.1 L258.2,174.5 L259.2,175.5 L260.1,176.8 L261.5,176.6 L262.9,176.7 L264.3,176.7 L265.7,176.7 L267.0,176.7 L268.4,176.5 L269.7,176.5 L271.1,176.4 L272.5,176.4 L273.8,176.5 L275.2,176.3 L276.6,176.1 L278.0,175.8 L279.4,175.7 L280.8,175.5 L282.2,175.2 L283.6,174.7 L285.0,174.3 L286.3,173.9 L287.7,173.5 L289.1,173.3 L290.5,173.2 L291.9,172.8 L293.3,172.5 L294.6,172.1 L296.2,172.5 L297.6,172.6 L299.1,172.6 L300.4,172.2 L301.7,171.6 L303.1,171.3 L304.4,171.0 L305.8,170.8 L307.1,170.4 L308.5,170.2 L309.8,169.9 L311.2,169.6 L312.6,169.5 L313.9,169.3 L315.3,169.1 L316.7,169.0 L318.1,168.9 L319.4,168.5 L320.8,168.2 L322.1,168.0 L323.5,168.2 L324.9,168.4 L326.3,168.3 L327.7,168.3 L329.0,167.9 L330.4,167.8 L331.5,167.1 L332.6,166.3 L333.8,165.7 L335.0,165.1 L336.2,164.6 L337.3,163.9 L338.4,163.2 L339.5,162.4 L340.8,161.9 L341.8,161.1 L343.0,160.5 L344.1,159.6 L345.3,159.1 L346.5,158.3 L347.8,158.0 L349.0,157.5 L350.4,157.2 L351.7,156.9 L352.9,156.3 L354.3,156.0 L355.5,155.4 L356.8,155.0 L358.2,154.5 L359.5,153.9 L360.8,153.3 L362.0,152.6 L363.4,152.3 L364.7,151.7 L366.0,151.2 L367.4,150.8 L368.5,149.7 L369.8,148.8 L370.9,147.6 L372.0,146.5 L373.0,145.4 L374.0,144.4 L375.0,143.5 L376.2,142.7 L375.9,141.2 L375.6,139.7 L375.2,138.2 L374.7,136.7 L374.4,135.3 L373.7,134.0 L373.1,132.7 L372.4,131.5 L371.8,130.2 L370.8,129.1 L370.4,127.7 L370.4,126.2 L370.7,124.7 L370.7,123.2 L371.1,121.7 L371.3,120.2 L372.5,119.6"/><path d="M340.4,165.3 L341.8,165.5 L343.1,165.8 L344.5,166.1 L345.8,166.4 L347.2,166.4 L348.6,166.7 L349.9,166.9 L351.3,167.3 L352.6,167.7 L354.0,167.7 L355.4,167.9 L356.8,168.5 L358.1,169.4 L359.4,170.4 L360.9,171.4 L359.8,172.7 L358.8,173.9 L357.5,174.6 L356.5,175.5 L355.4,176.5 L355.7,178.3 L355.6,180.1 L354.8,181.3 L353.8,182.5 L353.0,183.8 L351.9,184.9 L351.0,186.1 L350.0,187.4 L350.6,188.8 L351.6,189.9 L352.0,191.1 L352.5,192.4 L352.7,193.6 L353.0,194.9 L354.3,195.3 L355.7,195.7 L357.1,196.0 L358.5,196.3 L359.9,196.6 L361.3,196.8 L362.7,197.2 L363.8,197.7 L364.8,198.0 L364.1,198.9 L364.1,199.8 L364.0,201.1 L364.0,202.5 L363.8,203.8 L363.7,205.1 L363.4,206.4 L363.1,207.6 L362.6,208.9 L361.9,210.2 L361.4,211.5 L360.9,212.8 L360.4,214.1 L360.0,215.5 L359.2,216.6 L358.5,217.8 L358.1,219.1 L357.7,220.4 L357.5,221.8 L357.1,223.2 L356.8,224.6 L356.4,226.0 L356.2,227.4 L355.9,228.8 L355.6,230.1 L355.7,231.6 L355.5,233.1 L355.4,234.6 L355.4,236.1 L355.5,237.6"/><path d="M240.3,215.1 L240.9,213.9 L241.5,212.6 L242.2,211.4 L242.8,210.1 L243.6,208.9 L244.5,207.8 L245.1,206.6 L245.4,205.1 L245.7,203.7 L246.2,202.4 L246.9,201.1 L247.6,199.9 L249.1,199.7 L250.5,199.3 L251.8,199.0 L253.2,198.5 L254.6,198.3 L256.0,198.1 L257.4,197.9 L258.8,197.7 L260.2,197.7 L261.3,198.5 L262.4,199.4 L263.6,199.7 L264.7,200.2 L264.6,201.6 L264.1,202.9 L264.2,204.5 L264.2,206.1 L264.2,207.5 L265.2,208.5 L266.0,209.6 L267.0,210.6 L268.0,211.6 L269.3,212.4 L269.6,214.0 L270.0,215.5 L270.0,217.1 L270.1,218.6 L270.2,220.1 L269.1,220.8 L268.1,221.7 L267.1,222.5 L265.9,223.2 L264.7,223.8 L263.5,224.2 L262.4,224.9 L261.3,225.7 L260.2,226.3 L258.9,226.1 L257.7,225.6 L256.4,225.2 L255.2,224.8 L253.9,224.4 L252.7,224.0 L251.4,223.3 L250.2,222.6 L249.0,221.8 L247.7,221.3 L246.5,220.6 L245.1,220.2 L244.4,218.9 L243.2,218.1 L242.3,217.0 L241.2,216.1 L240.3,215.0"/><path d="M218.7,240.2 L218.9,241.6 L219.0,243.0 L219.2,244.4 L219.3,245.8 L219.4,247.2 L219.5,248.6 L219.5,250.0 L219.7,251.5 L219.9,253.1 L221.5,252.7 L223.0,252.3 L224.5,252.0 L225.8,251.4 L227.3,251.2 L228.7,250.7 L230.1,250.4 L231.1,251.1 L232.1,251.9 L233.1,252.8 L234.0,253.8 L235.0,254.7 L235.9,255.6 L237.1,256.4 L238.0,257.4 L238.9,258.6 L239.5,260.0 L240.3,261.4 L241.0,262.7 L241.9,263.9 L242.6,265.3 L243.8,266.0 L244.8,267.0 L246.1,267.7 L247.3,268.4 L248.3,269.3 L249.5,270.1 L250.5,270.9 L251.7,271.7 L252.7,272.8 L254.1,272.8 L255.4,272.9 L256.8,272.6 L258.2,272.6 L259.5,272.5 L260.9,272.4 L262.2,272.4 L263.6,272.4 L265.0,272.5 L266.4,272.6 L267.7,272.6 L268.8,273.6 L269.6,274.8 L270.5,275.9 L271.6,277.0 L272.7,277.9 L273.9,276.9 L275.1,276.3 L276.5,275.9 L277.9,275.5 L279.3,275.0 L280.5,274.3 L281.4,273.2 L282.4,272.1 L283.4,271.1 L284.4,270.2 L285.5,269.3 L286.7,268.5 L287.7,267.6 L289.2,267.2 L290.6,266.9 L292.1,266.7 L293.5,266.3 L295.0,266.1 L296.4,265.8 L297.9,265.6 L299.3,265.2 L300.6,264.8 L302.0,264.4 L303.4,264.1 L304.8,263.9 L306.1,263.6 L307.5,263.3 L309.0,263.2 L310.3,262.9 L311.7,262.6 L313.1,262.3 L314.5,262.0 L316.0,261.9 L317.4,261.6 L318.8,261.3 L320.1,261.0 L321.5,260.6 L322.9,260.3 L324.2,259.8 L325.5,259.2 L326.8,258.6 L327.9,257.7 L329.1,257.1 L330.2,256.1 L331.6,255.7 L332.8,255.1 L334.1,254.6 L335.4,254.0 L336.9,253.9 L338.4,253.6 L340.0,253.5 L341.4,253.2 L342.8,252.9 L343.3,254.0 L343.8,255.2 L344.3,256.4 L344.7,257.6 L344.9,259.0 L345.1,260.3 L346.0,261.6 L346.9,262.8 L347.9,264.0 L348.7,265.2 L349.6,266.4 L350.5,267.6 L351.1,268.9 L351.6,270.2 L352.2,271.5 L353.0,272.7 L353.7,273.9 L354.4,275.1 L354.9,276.4 L355.4,277.7 L356.5,278.6 L357.5,279.6 L358.6,280.5 L359.7,281.4 L360.9,282.0 L362.0,282.9 L363.2,283.7 L364.2,284.6 L365.3,285.5 L366.3,286.5 L367.3,287.5 L368.4,288.4 L369.4,289.4 L370.5,290.3 L370.7,291.7 L371.0,292.9 L371.4,294.2 L371.8,295.4 L372.3,296.7 L372.7,298.0 L374.0,299.0 L375.0,300.1 L376.3,300.7 L377.3,301.6 L378.7,302.2 L379.6,303.3 L380.6,304.2 L381.5,305.4 L382.6,306.2 L383.9,306.8 L385.1,307.5 L386.4,308.1 L387.7,308.7 L388.9,309.4 L390.2,309.9 L391.4,310.8 L392.6,311.5 L393.9,312.4 L395.3,312.8 L395.7,311.5 L395.9,310.1 L396.1,308.8 L396.1,307.5 L396.2,306.1 L396.6,304.9 L396.8,303.5 L397.6,302.4 L398.6,301.5 L400.2,301.5 L401.3,300.8 L402.7,300.8 L404.0,300.6 L405.2,300.1 L406.2,301.0 L407.3,301.9 L408.6,302.6 L409.4,303.7 L410.3,304.8 L411.7,304.9 L413.2,305.3 L414.7,304.9 L416.2,305.0 L417.7,305.0 L419.0,305.5 L420.3,305.9 L421.5,306.5 L422.8,306.9 L424.0,307.5 L425.3,307.9 L426.6,308.4 L427.8,309.1 L428.9,309.9 L430.1,310.5 L431.4,311.0 L432.8,311.4 L434.0,312.1 L435.3,312.5 L436.6,313.2 L438.0,313.5 L439.1,314.4 L440.4,315.0 L440.7,316.5 L441.4,317.9 L441.6,319.3 L441.9,320.8 L442.2,322.2 L442.6,323.6 L442.9,325.1 L443.3,326.3 L443.6,327.6 L443.7,329.0 L444.2,330.2 L444.6,331.5 L445.1,332.9 L446.8,332.9 L448.3,333.3 L449.8,333.5 L451.3,333.8 L452.8,333.9 L454.0,333.1 L455.2,332.5 L456.5,331.9 L457.9,331.5 L459.1,330.8 L460.2,330.0 L460.1,328.7 L460.4,327.3 L460.6,325.9 L461.0,324.5 L460.8,323.2 L460.8,321.8 L460.7,320.4 L460.5,319.1 L460.2,317.5 L461.6,317.2 L463.1,316.9 L464.6,317.1 L466.1,317.3 L467.6,317.3 L468.9,317.2 L470.3,316.7 L471.4,317.3 L472.7,317.6 L473.8,318.3 L475.0,318.8 L475.9,319.9 L476.9,320.7 L478.0,321.5 L479.1,322.1 L480.5,322.5 L480.5,324.0 L480.8,325.3 L480.6,326.6 L480.8,328.0 L480.7,329.3 L480.9,330.7 L480.8,332.0 L481.2,333.4 L481.3,334.7 L481.5,336.0 L481.5,337.4 L481.7,338.7 L481.7,340.1 L482.2,341.5 L482.1,343.1 L482.3,344.6 L482.6,346.1 L482.9,347.6"/><path d="M345.4,233.9 L344.9,235.1 L344.4,236.4 L344.1,237.6 L343.9,238.9 L343.2,240.0 L343.5,241.3 L343.5,242.5 L343.7,243.8 L343.9,245.1 L343.9,246.4 L343.8,247.7 L343.7,249.4 L343.3,251.0 L342.9,252.7"/><path d="M272.7,277.7 L274.1,277.7 L275.5,277.7 L276.9,277.5 L278.3,277.5 L279.7,277.6 L281.1,277.5 L282.5,277.6 L283.9,277.7 L285.2,277.8 L285.3,279.2 L285.7,280.3 L286.1,281.5 L286.7,282.7 L287.1,283.9 L287.5,285.2 L287.8,286.5 L287.9,287.8 L288.1,290.0 L287.8,291.4 L287.5,292.9 L287.1,294.3 L286.7,295.7 L286.8,297.1 L286.6,298.6 L286.7,300.0 L286.6,301.5 L287.2,303.0 L287.4,304.5 L287.8,306.0 L288.1,307.5 L287.6,308.8 L287.2,310.1 L286.5,311.3 L286.0,312.5 L285.6,313.8 L285.1,315.1 L285.3,316.8 L285.3,318.4 L285.6,320.3 L284.1,320.3 L282.7,320.4 L281.3,320.4 L279.9,320.5 L278.5,320.8 L277.2,320.8 L275.8,321.1 L274.4,321.0 L273.1,321.1 L271.6,321.0 L270.3,321.2 L269.0,321.8 L267.7,322.4 L266.5,323.2 L265.2,323.6 L263.9,324.2 L262.6,324.6 L261.4,325.3 L260.2,326.1 L258.9,326.8 L257.6,327.3 L256.5,328.1 L255.2,328.8 L254.2,329.7 L253.1,330.6 L252.0,331.5 L250.9,332.3 L249.9,333.2 L248.9,334.3 L247.9,335.2 L246.7,336.5 L245.5,337.6 L246.5,338.0 L247.8,338.5 L249.0,339.0 L250.2,339.5 L251.5,339.8 L252.7,340.4 L253.9,341.0 L255.1,341.7 L256.5,342.1 L258.0,342.5 L257.7,344.0 L257.5,345.4 L257.2,346.8 L257.3,348.2 L257.1,349.6 L257.0,351.0 L256.8,352.4 L256.6,353.8 L256.6,355.2 L256.9,356.6 L257.4,358.0 L257.8,359.4 L257.9,360.9 L258.1,362.4 L258.3,363.9 L258.6,365.3 L258.6,366.7 L258.9,368.0 L259.2,369.4 L259.7,370.7 L259.9,372.1 L260.0,373.5 L259.9,374.9 L260.0,376.3 L260.1,377.7 L260.3,379.1 L260.7,380.5 L260.9,381.9 L261.1,383.4 L261.4,384.8 L261.5,386.2 L262.2,387.5 L262.5,388.9 L263.0,390.3 L263.2,391.7 L263.6,393.1 L264.2,394.5 L264.6,395.9 L264.6,397.4 L265.0,398.9 L265.3,400.3"/><path d="M395.2,312.6 L394.6,313.9 L393.9,315.1 L393.4,316.4 L392.8,317.6 L392.0,318.8 L391.4,320.1 L390.7,321.3 L390.2,322.6 L390.9,323.8 L391.8,324.9 L392.5,326.3 L393.3,327.7 L391.8,328.7 L390.6,329.6 L389.3,330.2 L388.3,331.3 L387.3,332.3 L386.5,333.5 L385.5,334.5 L384.4,335.4 L383.3,336.3 L382.2,337.2 L381.4,338.4 L380.6,339.6 L379.8,340.8 L378.8,341.9 L377.7,342.7 L376.3,343.1 L374.9,343.5 L373.6,344.2 L372.2,344.9 L372.8,346.4 L373.3,347.7 L373.7,349.0 L374.2,350.2 L374.7,351.5 L375.5,352.7 L376.2,353.9 L376.8,355.2 L376.5,356.7 L376.0,358.2 L375.7,359.7 L375.5,361.3 L375.3,362.8 L374.0,363.6 L372.5,364.2 L371.1,364.8 L369.8,365.5 L368.6,366.4 L367.6,367.6 L366.3,368.3 L364.9,368.9 L363.5,369.0 L362.1,369.1 L360.7,369.3 L359.3,369.6 L357.9,369.9 L356.5,369.9 L355.1,370.0 L353.8,369.6 L352.5,369.0 L351.2,368.8 L350.1,368.0 L350.0,369.3 L349.5,370.3 L348.8,371.5 L348.3,372.7 L347.7,373.8 L347.4,375.1 L346.5,376.2 L345.6,377.2 L344.7,378.2 L343.7,379.2 L343.1,380.4 L342.3,381.6 L341.7,382.8 L341.1,384.0 L340.5,385.0 L341.1,386.2 L341.7,387.3 L342.1,388.7 L343.0,389.8 L343.6,391.0 L344.3,392.0 L345.3,392.8 L346.5,393.4 L347.7,393.9 L349.0,394.5 L350.3,394.9 L350.9,396.2 L351.7,397.2 L352.6,398.3 L353.7,399.1 L354.8,399.9 L355.8,400.7 L356.7,401.7 L357.6,402.6 L357.3,404.1 L357.2,405.6 L356.9,407.1 L356.7,408.6 L356.3,410.0 L355.3,410.9 L354.3,411.8 L353.4,412.8 L352.6,413.8 L351.8,414.9 L350.6,415.6 L349.5,416.3 L348.4,417.1 L347.4,418.0 L346.6,419.0 L345.7,420.0 L344.9,421.1 L343.9,422.0 L342.7,422.7 L341.8,423.7 L341.0,424.9 L340.5,426.3 L340.2,427.6 L340.4,429.1 L340.6,430.5 L340.7,432.0 L340.8,433.5 L341.0,435.0"/><path d="M435.2,228.8 L436.6,229.0 L438.0,229.1 L439.4,229.1 L440.7,229.6 L442.1,229.8 L443.5,230.3 L444.9,230.1 L446.3,230.2 L447.7,230.2 L448.9,230.9 L450.2,231.4 L451.5,231.9 L452.7,232.7 L453.9,233.4 L455.1,234.2 L456.4,234.4 L457.7,234.7 L459.0,235.0 L460.3,235.5 L461.5,235.9 L462.8,236.4 L463.4,235.3 L464.0,234.0 L464.3,232.6 L464.9,231.4 L465.4,230.1"/></g><g fill="none" stroke="#0000ff" stroke-width="1.15" stroke-linejoin="round" stroke-linecap="round"><path d="M35.1,140.2 L35.8,141.1 L36.4,142.1 L37.2,142.9 L37.8,143.8 L38.6,144.5 L39.5,145.0 L40.5,145.5 L41.3,146.2 L42.1,147.0 L42.8,147.8 L43.7,148.4 L44.6,149.0 L45.4,149.8 L46.3,150.4 L47.0,151.0 L47.5,151.9 L48.7,152.2 L49.3,153.0 L50.4,153.4 L50.7,154.5 L51.2,155.3 L51.1,156.3 L51.4,157.2 L51.6,158.2 L51.7,159.2 L51.5,160.2 L51.2,161.3 L51.2,162.3 L51.7,163.3 L51.9,164.4 L51.6,165.3 L50.8,166.1 L49.9,166.7 L49.6,167.7 L49.2,168.6 L48.9,169.7 L48.6,170.6 L48.0,171.5 L47.4,172.2 L46.3,172.8 L45.7,173.5 L45.1,174.3 L44.7,175.3 L44.1,176.1 L43.3,176.8 L42.5,177.4 L41.3,177.4 L40.4,177.7 L39.4,178.0 L38.6,178.8 L37.7,179.5 L36.8,180.1 L35.9,180.7 L35.0,181.3 L33.9,181.4 L32.9,181.6 L31.9,182.0 L31.0,182.6 L30.2,183.3 L29.2,183.6 L28.4,184.3 L27.3,184.5 L26.7,185.3 L25.9,186.0 L25.1,186.6 L24.3,187.2 L23.4,187.7 L22.5,188.2 L21.5,188.5 L20.5,188.9 L19.7,189.5 L18.8,190.1"/><path d="M87.8,219.8 L88.7,219.4 L89.6,218.9 L90.3,217.8 L91.0,216.7 L92.0,216.4 L93.1,216.4 L94.2,216.5 L95.4,216.7 L96.4,216.4 L97.4,216.2 L98.3,215.6 L99.4,215.5 L100.4,215.2 L101.4,214.9 L102.3,214.3 L103.2,213.8 L103.9,213.0 L104.5,212.0 L105.0,210.9 L106.1,210.7 L107.0,210.1 L108.0,209.8 L108.6,208.8 L109.4,208.1 L110.0,207.3 L111.1,206.9 L111.9,206.2 L112.7,205.6 L113.7,205.1 L114.5,204.5 L115.4,203.9 L116.1,203.1 L116.8,202.3 L117.7,201.8 L118.6,201.2 L119.5,200.6 L120.1,199.8 L121.1,199.3 L121.9,198.6 L123.0,198.4 L123.8,197.6 L124.6,197.0 L125.0,195.8 L125.6,194.9 L126.0,193.7 L127.3,193.7 L128.1,193.0 L129.2,192.7 L129.8,191.8 L130.8,191.4 L131.7,190.8 L132.5,190.1 L132.9,189.1 L133.6,188.3 L134.5,187.7 L135.5,187.2 L136.2,186.5 L136.8,185.7 L137.5,184.8 L138.2,184.0 L139.1,183.5 L139.8,182.7 L140.6,182.0 L141.4,181.3 L142.4,180.9 L143.1,180.0 L144.1,179.5 L144.9,178.8 L145.9,178.3 L146.9,177.8 L147.9,177.4 L149.0,177.1 L149.9,176.3 L150.6,175.5 L150.7,174.2 L150.5,173.0 L151.1,172.2 L151.3,171.1 L152.3,170.4 L152.9,169.5 L153.4,168.5 L153.9,167.5 L154.8,167.0 L155.8,166.4 L156.9,166.3 L157.9,166.1 L159.0,166.2 L160.0,166.1 L161.1,166.1 L162.1,165.8 L163.0,165.5 L164.1,165.4 L165.1,165.1 L166.2,165.0 L167.2,164.4 L168.2,163.9 L169.3,163.2 L170.6,162.8 L171.5,164.1 L172.3,165.1 L173.3,165.8 L174.4,166.0 L175.6,166.3 L176.5,166.9 L177.1,167.9 L177.9,168.6 L178.5,169.5 L179.5,169.9 L180.3,170.5 L181.2,171.0 L182.0,171.7 L182.8,172.5 L183.4,173.4 L184.2,174.4 L185.2,175.3 L186.4,174.8 L187.6,174.1 L188.7,173.8 L189.7,173.6 L190.8,174.0 L191.8,174.3 L192.9,174.2 L194.0,174.1 L195.0,174.0 L196.0,173.6 L197.0,173.3 L198.0,172.9 L199.1,172.8 L200.1,172.5 L201.1,172.0 L202.1,171.7 L203.1,171.4 L204.2,171.2 L205.1,170.7 L206.1,170.3 L207.0,169.7 L207.9,169.3 L209.0,169.2 L210.1,169.3 L211.0,168.9 L212.0,168.4 L213.0,168.2 L214.0,168.0 L215.0,167.9"/><path d="M175.3,166.3 L174.1,167.1 L172.9,167.7 L172.3,168.6 L171.6,169.4 L171.3,170.5 L170.8,171.4 L170.3,172.3 L169.9,173.3 L169.3,174.2 L169.0,175.3 L167.9,175.7 L167.1,176.5 L166.4,177.2 L165.8,178.1 L165.6,179.2 L164.9,180.1 L164.5,181.2 L164.1,182.2 L163.3,183.1 L162.7,184.1 L162.0,185.0 L162.0,186.1 L161.5,187.0 L161.4,188.1 L160.7,189.0 L161.0,190.0 L161.2,191.0 L161.9,191.9 L161.8,193.1 L162.4,194.1 L162.8,195.2 L163.6,196.3 L163.7,197.7 L162.1,198.2 L161.4,198.9 L160.5,199.4 L160.3,200.7 L159.6,201.4 L159.2,202.5 L158.6,203.3 L158.0,204.1 L157.4,204.9 L155.9,204.8 L155.1,205.4 L154.3,206.1 L154.0,207.3 L153.6,208.3 L153.1,209.4 L151.9,209.6 L151.1,210.2 L149.9,210.3 L149.1,210.9 L148.2,211.3 L147.3,211.8 L146.2,212.1 L145.5,212.7 L145.1,213.8 L144.6,214.9 L144.1,215.9 L143.3,216.4 L142.6,217.2 L141.4,217.3 L140.5,217.7 L139.6,218.3 L139.0,219.1 L138.2,219.7 L137.5,220.5 L136.6,221.0 L136.0,221.8 L135.2,222.4 L134.7,223.4 L134.1,224.3 L133.5,225.0 L132.8,225.8 L132.0,226.5 L131.1,227.0 L130.2,227.5 L129.2,228.0 L128.4,228.7 L127.6,229.3 L126.8,230.0 L125.8,230.5 L125.0,231.3 L124.0,231.6 L123.1,232.3 L122.2,232.8 L121.4,233.5 L120.5,234.1 L119.9,235.0 L119.2,235.9 L118.3,236.8 L118.0,237.8 L117.7,239.0 L117.5,240.2 L117.7,241.2 L117.8,242.3 L117.7,243.4 L118.1,244.4 L118.0,245.4 L118.1,246.5 L118.0,247.5 L117.9,248.6 L117.8,249.7 L117.6,250.7 L117.9,251.9 L118.1,253.0 L119.1,253.8 L119.8,254.8 L120.6,255.5 L121.2,256.4 L121.8,257.3 L122.2,258.3 L122.7,259.3 L123.4,260.1 L124.0,261.0 L124.5,261.9 L125.1,262.8 L125.8,263.6 L126.6,264.2 L127.4,264.9 L128.0,265.7 L128.3,266.7 L128.8,267.6 L129.2,268.4 L130.2,269.0 L130.0,270.0 L130.2,271.1 L129.5,272.1 L129.6,273.2 L129.1,274.1 L129.3,275.2 L128.7,276.2 L128.3,277.2 L128.1,278.2 L128.0,279.3 L127.7,280.3"/><path d="M236.4,101.4 L237.1,102.2 L238.0,103.0 L238.6,103.9 L239.5,104.6 L240.2,105.5 L240.8,106.4 L241.4,107.3 L242.0,108.2 L242.2,109.2 L243.0,109.8 L243.9,110.4 L244.8,111.0 L245.7,111.6 L246.3,112.4 L247.1,113.1 L247.8,113.8 L248.5,114.6 L249.0,115.5 L249.2,116.6 L249.6,117.6 L249.9,118.6 L250.4,119.5 L250.8,120.5 L251.4,121.4 L252.0,122.2 L252.6,123.1 L253.9,123.2 L254.9,123.5 L256.1,123.6 L257.1,124.1 L258.1,124.6 L259.4,125.2 L260.4,126.2 L260.2,127.6 L258.7,128.4 L258.0,129.2 L257.0,129.9 L256.3,130.7 L255.6,131.6 L254.9,132.5 L254.8,133.6 L254.5,134.6 L254.2,135.6 L253.8,136.6 L253.1,137.3 L252.8,138.3 L252.2,139.1 L252.2,140.3 L251.8,141.2 L251.3,142.1 L250.9,143.0 L250.0,143.8 L250.1,145.1 L249.3,146.0 L249.1,147.1 L248.2,148.0 L248.3,149.3 L247.7,150.2 L246.8,150.5 L245.7,150.3 L244.7,150.5 L243.7,150.3 L242.6,150.5 L241.6,150.1 L240.6,150.2 L239.6,149.8 L238.6,150.3 L237.5,149.9 L236.7,150.6 L235.8,151.4 L235.0,151.9 L234.0,152.4 L232.8,152.8 L231.8,153.4 L231.5,154.7 L231.2,155.9 L230.7,156.9 L230.5,158.0 L230.4,159.2 L230.3,160.3 L231.1,161.3 L231.6,162.3 L231.4,163.4 L231.2,164.5 L231.3,165.6 L231.7,166.8 L232.0,168.3 L230.5,168.3 L229.3,168.2 L228.2,168.3 L227.2,167.9 L226.1,167.6 L225.0,167.3 L224.0,167.4 L222.9,167.2 L221.8,167.5 L220.8,167.8 L219.7,168.2 L218.7,168.2 L217.6,167.9 L216.3,167.9 L215.0,168.0"/><path d="M215.0,168.0 L214.6,169.0 L214.3,170.1 L213.7,171.1 L213.2,172.0 L212.9,173.1 L212.5,174.1 L212.6,175.3 L212.7,176.4 L212.9,177.5 L212.7,178.6 L212.5,179.6 L212.2,180.7 L211.8,181.7 L211.5,182.8 L211.4,183.9 L211.6,185.0 L212.5,186.0 L212.8,186.9 L213.2,187.9 L213.3,189.0 L213.5,190.0 L214.0,190.9 L214.6,191.9 L214.8,192.9 L215.2,193.9 L215.6,194.8 L216.2,195.7 L216.6,196.6 L217.1,197.5 L216.8,198.7 L216.8,199.7 L216.7,200.8 L217.4,201.6 L217.7,202.6 L217.0,203.4 L215.9,203.9 L215.3,204.8 L214.5,205.5 L214.1,206.6 L213.4,207.4 L212.7,208.2 L211.9,208.9 L211.0,209.5 L210.1,210.0 L209.3,210.8 L208.4,211.5 L207.8,212.4 L206.7,212.7 L205.8,213.3 L204.9,213.9 L204.1,214.5 L203.4,215.4 L202.4,215.9 L201.6,216.6 L200.8,217.3 L200.1,218.1 L199.2,218.6 L198.6,219.5 L197.7,220.1 L196.9,220.8 L195.5,220.3 L194.4,220.4 L193.4,220.8 L192.6,221.6 L192.2,222.7 L191.6,223.5 L191.2,224.4 L190.6,225.2 L190.2,226.1 L189.4,226.8 L188.6,227.4 L187.8,228.1 L187.0,228.8 L186.2,229.6 L186.2,230.8 L185.9,231.8 L186.4,233.0 L186.1,234.0 L186.2,235.1 L185.1,235.9 L184.7,236.8 L184.2,237.7 L184.3,238.8 L184.3,239.9 L183.9,240.8 L183.8,242.0 L183.3,242.9 L182.6,243.7 L181.6,244.4 L181.1,245.3 L180.2,246.1 L179.7,247.1 L178.5,247.4 L177.8,248.3 L176.7,248.9 L176.2,250.0 L176.2,251.1 L176.2,252.2 L176.1,253.2 L175.6,254.2 L175.3,255.1 L174.0,255.5 L172.8,256.2 L171.9,256.7 L170.9,257.1 L169.9,257.7 L168.9,257.6 L167.8,257.7 L166.7,257.7 L165.6,257.7 L164.6,257.7 L163.5,257.7 L162.3,257.5 L161.4,258.0 L160.4,258.5 L159.5,259.1 L158.5,259.6 L157.4,259.6 L156.4,259.8 L155.3,259.9 L154.3,260.3 L153.3,260.8 L152.4,261.3 L151.5,261.8 L150.5,262.2 L149.7,262.9 L148.9,263.6 L148.0,264.1 L147.1,264.6 L146.1,265.0 L145.1,265.3 L144.1,265.8 L143.4,266.6 L142.5,267.1 L141.6,267.6"/><path d="M176.8,255.1 L177.6,255.7 L178.5,256.3 L179.8,256.2 L180.5,257.1 L181.4,257.5 L181.8,258.8 L182.7,259.4 L183.4,260.2 L184.5,260.5 L185.3,261.2 L186.2,261.7 L187.0,262.4 L188.0,262.7 L189.0,263.3 L189.8,264.0 L190.5,264.8 L191.2,265.7 L192.0,266.4 L192.7,267.3 L193.7,267.8 L194.6,268.3 L195.6,269.0 L195.2,269.9 L194.4,270.8 L193.8,271.6 L192.9,272.3 L192.5,273.2 L191.8,274.0 L191.3,274.9 L190.6,275.7 L190.1,276.6 L189.7,277.6 L189.2,278.6 L188.6,279.5 L188.0,280.3"/><path d="M262.7,160.3 L263.6,161.0 L264.4,161.9 L265.2,162.8 L265.4,164.0 L265.9,164.9 L266.6,165.9 L266.8,167.0 L267.3,168.1 L267.0,169.3 L267.5,170.4 L267.6,171.5 L268.5,172.4 L269.1,173.4 L269.7,174.4 L269.7,175.6 L269.7,176.8 L269.9,177.8 L269.7,178.8 L269.8,179.9 L269.6,180.9 L269.6,182.1 L269.0,183.0 L268.3,184.0 L267.3,184.7 L266.8,185.6 L266.2,186.5 L265.8,187.5 L265.2,188.3 L264.6,189.2 L264.0,190.0 L263.4,190.9 L262.5,191.5 L261.9,192.4 L261.3,193.2 L260.5,194.0 L260.1,194.9 L259.2,195.6 L258.9,196.7 L258.7,197.8 L258.4,198.8 L258.1,199.8 L257.2,200.5 L256.9,201.6 L256.0,202.2 L255.6,203.2 L255.0,204.1 L254.6,205.1 L253.9,205.9 L253.3,206.8 L252.6,207.5 L252.1,208.4 L251.3,209.2 L251.0,210.2 L250.7,211.2 L250.5,212.3 L249.8,213.1 L248.9,213.8 L248.1,214.6 L247.6,215.5 L247.5,216.6 L247.4,217.8 L246.8,218.6 L246.0,219.4 L245.3,220.2 L244.5,220.9 L244.3,221.9 L243.8,222.8 L243.2,223.6 L242.0,224.1 L241.2,224.8 L240.6,225.6 L240.8,226.9 L240.6,227.9 L240.3,228.9 L239.8,229.8 L238.9,230.5 L238.4,231.3 L237.7,232.1 L237.7,233.3 L237.6,234.4 L237.4,235.4 L236.7,236.2 L235.7,236.8 L235.1,237.6 L234.1,238.1 L233.7,239.1 L232.8,239.6 L232.1,240.4 L231.2,240.9 L230.5,241.8 L229.9,242.6 L229.2,243.3 L228.2,243.8 L227.2,244.2 L226.2,244.7 L225.4,245.3 L224.6,245.9 L224.1,246.9 L223.3,247.6 L222.8,248.6 L221.8,249.0 L221.0,249.7 L220.3,250.3 L219.5,251.1 L219.2,252.1 L218.6,252.9 L218.2,254.0 L217.4,254.7 L216.6,255.4 L215.8,256.1 L215.1,256.8 L214.6,257.8 L214.3,258.9 L213.9,259.7 L213.4,260.3 L213.3,261.2 L213.7,262.2 L214.3,263.2 L214.8,264.2 L215.5,265.2 L215.2,266.4 L215.5,267.5 L216.2,268.3 L216.7,269.2 L217.4,270.1 L217.8,271.1 L218.4,272.0 L218.8,273.1 L219.9,273.6 L220.6,274.5 L221.3,275.3"/><path d="M247.7,150.2 L248.6,150.8 L249.5,151.4 L250.6,151.8 L251.5,152.4 L252.3,153.2 L253.0,154.1 L253.9,154.8 L254.7,155.4 L255.7,155.9 L256.6,156.3 L257.6,156.7 L258.6,157.2 L259.2,158.1 L260.1,158.5 L261.1,159.0 L262.2,159.1 L263.2,159.6 L264.0,160.3 L264.8,161.2 L265.6,162.2 L266.5,162.8 L267.2,163.6 L268.1,164.1 L268.8,164.9 L269.6,165.7 L270.3,166.4 L270.8,167.4 L271.7,167.9 L272.6,168.6 L273.7,168.9 L274.6,169.4 L275.3,170.1 L276.1,170.7 L277.0,171.3 L278.1,171.4 L279.1,171.6 L280.3,171.6 L281.0,172.5 L281.7,173.3 L282.6,173.9 L283.5,174.4 L284.4,174.7 L285.4,175.1 L286.3,175.7 L287.1,176.3 L288.2,176.5 L289.0,177.1 L289.9,177.7 L290.8,178.3 L291.6,178.9 L292.5,179.5 L293.4,180.0 L294.1,180.8 L294.9,181.6 L295.7,182.3 L296.7,182.9 L297.8,183.1 L298.8,182.9 L299.8,182.4 L300.9,182.7 L301.7,181.7 L302.6,181.3 L303.5,180.5 L304.5,180.4 L305.5,180.2 L306.5,180.1 L307.4,179.4 L308.4,179.4 L309.4,179.4 L310.5,179.4 L311.3,178.6 L312.1,177.7 L312.9,176.8 L314.1,177.1 L315.2,177.1 L316.3,177.5 L317.3,177.8 L318.4,177.8 L319.4,177.7 L320.4,177.6 L321.4,177.5 L322.4,177.6 L323.4,177.4 L324.4,177.0 L325.4,176.7 L326.3,176.4 L327.4,176.7 L328.4,176.4 L329.4,176.1 L330.3,175.5 L331.3,175.3 L332.3,175.4 L333.3,175.2 L334.4,175.2 L335.4,175.4 L336.4,175.6 L337.3,176.2 L338.3,176.3 L339.3,176.6 L340.3,176.8 L341.3,177.1 L342.3,177.3 L343.3,177.5 L344.4,177.5 L345.4,177.8 L346.4,178.1 L347.4,178.3 L348.4,178.6 L349.3,179.1 L350.3,179.3 L351.4,179.2 L352.5,179.2 L353.5,179.4 L354.5,179.9 L355.4,180.3 L356.4,180.8 L357.5,180.7 L358.4,181.1 L359.5,181.0 L360.5,181.4 L361.4,182.2 L362.2,183.1 L363.1,183.9 L364.2,184.0 L365.3,183.7 L366.5,183.3 L367.6,183.2 L368.7,183.3 L369.7,183.4 L370.8,183.6 L371.8,183.7 L372.8,184.1 L373.8,184.3 L374.8,184.5 L375.9,184.5 L376.9,184.6 L377.9,184.9 L378.9,185.3 L379.8,185.9 L380.7,186.3 L381.7,186.6 L382.7,186.9 L383.9,186.7 L384.9,187.2 L385.8,187.8 L386.6,188.4 L387.5,188.9 L388.6,189.0 L389.6,189.4 L390.6,189.6 L391.3,190.5 L392.0,191.4 L392.9,191.8 L393.9,192.1 L394.9,192.3 L396.0,192.5 L396.9,192.9 L398.0,193.1 L398.7,194.0 L399.4,194.8 L400.2,195.4 L400.9,196.2 L401.7,196.8 L402.6,197.3 L403.8,197.4 L404.7,197.9 L405.4,198.7 L406.0,199.6 L406.8,200.3 L407.5,200.9 L408.7,201.0 L409.6,201.7 L410.9,202.1 L411.2,203.3 L411.1,204.5 L410.7,205.6 L410.4,206.6 L410.5,207.6 L410.6,208.6 L410.8,209.6 L410.8,210.6 L410.9,211.7 L410.9,212.7 L410.9,213.8 L411.3,214.8 L411.3,215.8 L412.2,216.7 L412.3,217.8 L412.6,218.8"/><path d="M297.7,182.8 L298.2,183.8 L298.8,184.8 L298.9,185.9 L299.5,186.8 L299.9,187.8 L300.6,188.7 L301.3,189.6 L302.1,190.4 L302.7,191.4 L303.2,192.5 L302.3,193.4 L301.6,194.3 L301.0,195.1 L300.7,196.2 L300.4,197.2 L300.3,198.2 L300.1,199.3 L300.0,200.4 L299.3,201.2 L299.0,202.2 L298.2,203.0 L297.7,204.0 L296.7,204.8 L296.8,205.9 L296.8,207.0 L297.2,208.2 L296.7,209.2 L296.8,210.3 L296.3,211.2 L296.4,212.3 L296.0,213.3 L295.7,214.3 L295.8,215.4 L295.5,216.5 L295.7,217.6 L294.9,218.5 L294.5,219.5 L293.7,220.4 L293.3,221.4 L293.1,222.5 L293.7,223.7 L294.0,224.7 L294.2,225.8 L294.0,226.9 L293.5,228.0 L293.3,229.0 L293.1,229.9 L292.9,230.8 L292.9,231.8 L292.9,232.9 L292.8,234.0 L292.1,234.7 L291.6,235.6 L291.0,236.4 L290.5,237.3 L290.1,238.2 L289.4,239.0 L288.8,239.8 L288.4,240.8 L288.3,241.9 L287.9,242.7 L287.1,243.5 L286.3,244.2 L285.6,245.0 L285.1,245.9 L284.6,246.8 L283.9,247.6 L283.4,248.5 L282.6,249.2 L282.1,250.1 L281.5,251.0 L281.1,252.0 L280.6,253.0 L279.9,253.8 L279.0,254.4 L277.8,254.6 L276.7,254.9 L275.9,255.6 L275.2,256.4 L274.4,257.1 L273.6,257.8 L272.6,258.2 L271.7,258.7 L270.9,259.4 L270.0,260.0 L269.5,261.1 L268.8,261.8 L268.1,262.6 L267.3,263.3 L266.4,263.9 L265.5,264.5 L264.7,265.2 L264.0,266.0 L263.5,267.0 L262.7,267.7 L262.2,269.0 L261.5,270.2"/><path d="M266.5,162.8 L267.3,162.1 L268.1,161.5 L269.4,161.3 L270.1,160.5 L270.6,159.5 L271.2,158.6 L271.7,157.7 L272.4,156.9 L273.3,156.3 L274.3,155.8 L275.0,155.0 L275.5,154.0 L276.0,153.1 L276.5,152.2 L277.6,151.8 L278.5,151.3 L279.5,150.9 L280.1,150.1 L280.7,149.2 L281.2,148.2 L282.0,147.6 L282.8,147.0 L284.0,146.7 L284.7,146.1 L285.4,145.3 L286.1,144.5 L287.0,144.0 L288.1,143.7 L289.1,143.6 L290.1,143.3 L291.2,143.2 L292.1,142.8 L293.3,142.9 L294.2,142.4 L295.2,142.1 L296.0,141.2 L296.9,140.7 L297.8,140.2 L298.8,140.0 L299.8,139.8 L300.7,139.2 L301.7,139.2 L302.6,138.8 L303.6,138.3 L304.5,137.8 L305.3,137.0 L306.4,137.3 L307.5,137.6 L308.6,138.0 L309.7,138.0 L310.7,137.8 L311.6,137.3 L312.5,136.8 L313.4,136.1 L314.4,136.1 L315.4,135.9 L316.5,136.0 L317.4,135.7 L318.4,135.4 L319.3,135.0 L320.2,134.6 L321.1,134.1 L322.1,134.0 L323.2,134.1 L324.2,133.8 L325.1,133.4 L326.2,133.2 L327.2,133.0 L328.3,133.2 L329.1,132.5 L329.9,131.7 L330.6,130.5 L331.4,129.9 L332.4,129.6 L333.7,130.1 L334.7,130.0 L335.7,129.6 L336.4,128.7 L337.2,128.0 L338.1,127.3 L339.2,127.5 L340.2,127.2 L341.4,127.5 L342.3,126.7 L343.3,126.5 L344.2,125.9 L345.4,126.3 L346.4,125.9 L347.4,125.4 L348.3,124.8 L349.3,124.3 L350.4,124.4 L351.3,125.5 L352.3,125.8 L353.2,126.4 L354.2,126.9 L355.2,127.4 L356.1,128.1 L357.2,128.4 L358.4,128.2 L359.4,128.6 L360.5,129.0"/><path d="M285.3,146.4 L286.3,146.7 L287.3,146.9 L288.4,147.0 L289.3,147.3 L290.4,147.3 L291.4,147.6 L292.4,147.8 L293.4,148.1 L294.3,148.8 L295.2,149.3 L296.0,150.1 L297.1,150.1 L298.3,150.3 L299.5,150.1 L300.4,150.8 L301.3,151.4 L302.1,152.2 L303.1,152.5 L304.2,152.8 L305.1,153.4 L306.0,154.0 L306.5,155.1 L307.3,155.7 L307.3,156.6 L308.1,157.2 L308.6,158.1 L309.1,159.0 L309.2,160.0 L309.5,160.9 L309.9,161.9 L310.3,162.8 L311.3,162.4 L312.4,162.7 L313.3,162.4 L314.4,162.5 L315.3,161.9 L316.3,161.6 L317.3,161.1 L318.3,161.1 L319.3,161.2 L320.4,161.2 L321.4,160.9 L322.3,160.6 L323.3,160.1 L324.3,160.3 L325.4,160.2 L326.4,160.1 L327.3,159.5 L328.1,158.8 L328.9,158.1 L329.8,157.7 L330.7,157.3 L331.7,156.9 L332.7,156.6 L333.6,156.2 L334.8,156.1 L335.9,155.6 L336.2,154.6 L336.4,153.4 L336.7,152.4 L337.3,151.6 L337.8,150.7 L338.5,150.0 L338.8,148.9 L339.2,148.0 L339.3,146.9 L339.7,145.9 L340.1,144.8 L341.2,144.4 L342.3,144.4 L343.3,144.3 L344.4,144.5 L345.4,144.6 L346.5,144.7 L347.5,144.4 L348.4,144.1 L349.5,144.0 L350.5,143.9 L351.4,143.5 L352.4,143.1 L353.4,142.9 L354.4,142.5 L355.3,142.1 L356.4,141.9 L357.5,142.4 L358.5,142.5 L359.6,142.4 L360.6,141.8 L361.6,141.5 L362.6,141.0 L363.7,141.4 L364.7,141.3 L365.8,141.7 L366.8,141.3 L367.9,141.3 L368.9,141.0 L370.0,141.1 L371.1,141.3 L372.1,142.1 L373.1,142.7 L374.1,142.6 L375.2,142.7 L376.3,142.4 L377.3,142.5 L378.4,142.6 L379.4,143.1 L380.4,143.3 L381.3,143.6 L382.4,143.3 L383.7,143.7 L384.8,144.5 L386.0,144.6 L386.9,145.1 L388.0,145.4 L389.1,145.8 L389.6,146.9 L390.5,147.5 L391.4,148.1"/><path d="M222.7,325.0 L223.7,324.8 L224.7,324.4 L225.5,323.7 L226.5,323.4 L227.7,323.8 L228.7,323.6 L229.7,323.4 L230.6,322.8 L231.6,322.5 L232.8,322.7 L233.8,322.5 L234.8,322.2 L235.6,321.4 L236.4,320.8 L237.1,320.2 L238.1,319.8 L238.6,318.7 L239.3,318.0 L239.9,316.9 L240.8,316.5 L241.6,315.7 L242.8,315.5 L243.8,315.1 L245.0,315.0 L246.0,314.6 L246.9,313.9 L247.6,313.1 L248.2,312.0 L249.2,311.6 L249.9,310.7 L250.8,310.2 L251.5,309.3 L252.6,308.9 L253.6,308.5 L254.8,308.2 L256.0,308.0 L256.5,306.8 L257.2,306.0 L257.6,304.8 L258.8,303.9 L260.0,303.0 L261.1,303.4 L262.1,303.6 L263.2,303.7 L264.3,303.7 L265.3,304.4 L266.4,304.5 L267.3,305.3 L268.4,305.2 L269.5,305.7 L270.6,305.7 L271.6,305.3 L272.4,304.4 L273.5,304.1 L274.4,303.4 L275.4,303.1 L276.1,302.2 L277.0,301.6 L277.7,300.8 L278.9,300.5 L279.8,299.9 L280.6,299.4 L281.4,298.6 L282.3,298.0 L283.6,298.4 L284.5,297.7 L285.4,297.2 L286.2,296.3 L287.1,295.7 L288.1,295.2 L289.2,295.1 L290.3,295.2 L291.2,295.8 L292.1,296.0 L293.1,296.1 L294.2,296.0 L295.2,296.0 L296.2,296.2 L297.2,296.3 L298.2,296.4 L299.3,296.3 L300.3,296.4 L301.3,296.9 L302.3,296.9 L303.4,297.1 L304.4,297.2 L305.5,296.8 L306.6,297.1 L307.6,296.8 L308.5,296.3 L309.4,295.7 L310.3,295.1 L311.3,294.6 L312.4,294.8 L313.5,294.9 L314.6,295.2 L315.5,294.7 L316.4,294.1 L317.4,293.7 L318.3,293.2 L319.3,293.1 L320.2,292.6 L321.2,292.0 L322.3,291.6 L323.4,291.9 L324.5,292.5 L325.5,292.9 L326.6,293.2 L327.7,292.9 L328.8,293.0 L329.9,292.8 L331.0,292.8 L331.9,292.4 L333.1,292.6 L334.2,292.6 L335.1,292.1 L335.9,291.2 L336.9,290.8 L338.0,290.7 L339.1,290.6 L340.0,290.2 L340.9,289.5 L342.2,290.1 L343.1,289.3 L344.2,289.2 L345.0,288.1 L346.1,288.0 L347.2,287.8 L348.3,287.8 L349.3,287.2 L350.2,286.6 L351.1,285.6 L352.1,285.4 L353.1,285.1 L354.1,285.1 L355.2,285.1 L356.2,284.8 L357.2,284.6 L358.1,284.1 L359.1,283.8 L360.1,283.5 L361.0,283.3 L362.0,283.0 L362.8,282.2 L363.8,282.0 L364.8,281.7 L366.0,281.9 L367.0,281.6 L367.8,280.9 L368.7,280.3 L369.6,279.7 L370.7,279.9 L371.8,279.9 L372.9,279.9 L373.6,279.0 L374.5,278.2 L375.2,277.3 L376.4,277.3 L377.4,276.7 L378.2,276.0 L379.4,275.9 L380.4,275.5 L381.8,276.0 L382.5,275.0 L383.2,274.0 L383.6,272.5 L384.4,271.8 L385.4,271.5 L386.3,271.0 L387.4,270.7 L388.2,269.9 L389.4,269.8 L390.6,269.7 L391.6,269.4 L392.6,268.8 L393.6,268.3 L394.8,268.4 L395.7,267.7 L396.6,266.9 L397.4,266.0 L398.2,265.4 L399.3,265.0 L400.4,264.8 L401.7,265.0 L402.7,264.7 L403.8,264.4 L404.4,263.3 L405.3,262.6 L406.0,261.7 L406.9,261.1 L407.7,260.1 L408.7,259.7 L409.8,259.3 L411.2,260.1 L412.2,260.2 L413.3,260.1 L414.2,259.5 L415.1,258.9 L416.0,258.1 L416.9,257.4 L417.7,256.3 L418.6,256.5 L419.5,256.7 L420.5,256.5 L421.4,256.0 L422.2,255.3 L423.1,254.7 L423.7,253.8 L424.4,253.0 L424.7,252.0 L425.0,250.9 L425.3,249.8 L426.3,249.3 L427.0,248.5 L428.2,248.0 L428.7,247.2 L429.2,246.3 L429.5,245.3 L429.6,244.1 L430.3,243.4 L430.6,242.4 L431.4,241.7 L432.0,241.0 L433.4,240.5 L433.9,239.5 L434.9,238.6 L433.9,237.3 L434.4,236.3 L433.5,235.0 L434.1,234.1 L434.3,233.1 L434.6,232.1 L435.1,231.1 L435.3,230.1 L435.3,229.1 L434.8,228.1 L434.8,227.1 L434.5,226.1 L434.9,225.1 L434.4,224.1 L434.3,223.1 L434.4,222.1 L434.1,221.1 L434.7,220.0 L434.6,219.0 L434.5,218.0"/><path d="M321.3,292.2 L321.4,293.3 L321.5,294.4 L321.3,295.6 L321.5,296.8 L322.2,297.7 L322.6,298.7 L322.9,299.7 L324.0,300.4 L324.7,301.3 L325.3,302.2 L325.2,303.4 L324.9,304.6 L324.7,305.6 L324.1,306.5 L323.7,307.4 L323.5,308.4 L323.7,309.5 L323.8,310.6 L323.9,311.8 L324.1,312.9 L323.9,313.9 L323.7,315.0 L323.3,316.1 L323.3,317.3 L323.9,318.2 L324.3,319.2 L324.7,320.1 L324.5,321.3 L325.2,322.1 L325.3,323.2 L325.9,324.1 L326.2,325.0 L326.8,325.9 L327.5,326.8 L327.7,327.9 L327.8,329.0 L327.5,330.1 L327.4,331.3 L327.3,332.4 L328.0,333.4 L328.2,334.5 L328.4,335.6 L328.7,336.7 L328.8,338.0 L330.1,338.4 L331.0,339.2 L330.7,340.2 L329.2,340.2 L328.4,340.7 L327.4,341.0 L326.6,341.7 L325.8,342.5 L325.0,343.1 L323.9,343.5 L322.9,343.8 L322.0,344.4 L321.3,345.1 L320.5,345.7 L319.9,346.5 L318.9,347.1 L318.4,348.0 L318.6,349.2 L318.4,350.4 L318.5,351.5 L318.2,352.6 L318.6,353.7 L318.5,354.9 L318.5,356.0"/><path d="M330.9,340.1 L331.8,340.7 L332.7,341.2 L333.7,341.6 L334.5,342.4 L335.3,343.0 L336.1,343.7 L337.0,344.2 L338.0,344.7 L338.9,345.3 L339.6,346.2 L340.6,346.7 L341.4,347.4 L342.4,348.1 L343.2,348.7 L344.3,349.1 L345.0,350.1 L346.0,350.7 L346.8,351.7 L347.9,352.0 L349.0,352.3 L350.4,352.1 L351.3,352.9 L352.5,353.1 L353.0,354.3 L353.9,354.7 L354.7,355.3 L355.5,356.0 L356.8,355.9 L357.6,356.6 L358.7,356.8 L359.4,357.6 L360.4,357.9 L361.1,358.7 L362.3,358.9 L362.8,359.9 L363.4,360.8 L364.2,361.6 L364.7,362.6 L365.8,363.0 L366.6,363.7 L366.9,364.9 L367.3,366.0 L367.4,367.4 L368.6,367.3 L369.6,367.7 L369.4,368.5 L368.7,369.3 L367.9,370.0 L367.1,370.7 L366.4,371.5 L365.6,372.2 L364.7,372.8 L364.0,373.6 L363.5,374.5 L363.2,375.5 L362.9,376.3 L362.6,377.2 L362.5,378.2 L362.0,379.2 L361.8,380.2 L362.0,381.2 L362.2,382.3 L362.8,383.4 L362.2,384.2 L362.6,385.0 L362.3,386.0 L363.2,386.6 L363.3,387.7 L363.8,388.7 L364.0,389.8 L364.0,391.0 L364.3,392.0 L364.9,393.0 L365.7,393.7 L366.4,394.5 L367.3,395.0 L367.8,396.1 L368.7,396.7 L369.6,397.2 L370.9,397.2 L372.0,397.5 L372.7,398.3 L373.5,399.0 L374.0,400.0 L375.1,400.3 L376.0,400.9 L376.6,401.8 L377.5,402.5 L378.0,403.6 L378.8,404.3 L379.5,405.1 L380.4,405.7 L381.3,406.4 L382.3,407.0 L383.5,407.2 L384.7,407.4 L385.6,408.0 L386.6,408.5 L387.6,409.1"/><path d="M422.8,252.7 L422.7,253.7 L422.6,254.7 L423.2,255.8 L422.7,256.8 L422.7,257.8 L422.9,258.8 L423.6,259.9 L422.8,260.8 L421.9,261.8 L421.5,262.7 L420.6,263.6 L420.5,264.6 L420.1,265.6 L420.1,266.6 L419.9,267.6 L419.6,268.6 L419.2,269.6 L419.5,270.7 L419.5,271.7 L419.6,272.7 L419.3,273.8 L418.9,274.9 L418.6,276.1 L418.8,277.2 L419.1,278.3 L419.3,279.3 L420.1,280.3 L419.9,281.3 L420.5,282.5 L419.7,283.4 L419.9,284.5 L419.7,285.5 L419.6,286.5 L419.2,287.5 L418.8,288.5 L418.6,289.5 L418.1,290.4 L417.4,291.3 L416.9,292.2 L416.5,293.1 L416.5,294.2 L416.0,295.1 L415.4,295.9 L415.1,296.9 L414.7,297.8 L415.0,299.0 L414.9,300.0 L414.8,301.0 L414.6,302.0 L414.3,303.0 L414.1,304.0 L414.0,305.1 L413.9,306.1 L413.9,307.2 L413.6,308.2 L413.7,309.4 L413.1,310.4 L412.4,311.2 L411.3,311.6 L410.6,312.3 L409.5,312.6 L408.8,313.2 L408.1,314.1 L407.4,314.7 L406.9,315.8 L405.4,315.5 L404.8,316.3 L403.5,316.2 L402.9,317.0 L401.9,317.4 L401.2,318.1 L399.9,318.0 L399.2,318.7 L398.2,319.2 L397.6,320.1 L397.1,321.1 L396.4,321.9 L395.9,323.0 L395.2,324.0 L394.8,325.2 L395.2,326.2 L396.6,326.6 L397.3,327.3 L398.0,328.0 L398.4,329.0 L399.0,330.0 L399.8,330.6 L400.7,331.1 L401.6,331.6 L402.5,332.1 L403.1,333.0 L404.1,333.2 L404.9,333.9 L405.8,334.3 L406.6,334.8 L407.4,335.4 L408.0,336.2 L408.7,336.9 L409.4,337.7 L409.9,338.6 L410.4,339.6 L411.0,340.4 L412.0,341.0 L413.0,341.6 L413.9,342.1 L414.4,343.1 L414.8,344.0 L415.2,345.1 L416.3,345.4 L417.3,345.6 L418.0,346.3 L418.7,347.2 L419.2,348.2 L419.9,348.9 L421.0,349.2 L421.8,349.8 L422.8,350.0 L423.4,350.9 L424.3,351.5 L425.0,352.2 L425.7,353.0 L426.8,353.1 L427.6,353.8 L428.6,354.1 L429.1,355.0 L429.8,355.7 L429.9,356.9 L430.5,357.4 L430.8,358.5 L432.4,358.6 L432.9,359.5 L433.9,360.0 L433.8,361.3 L434.6,361.9 L434.8,362.7 L434.5,363.4 L434.0,364.2 L433.5,365.1 L433.1,366.2 L432.2,366.7 L431.5,367.5 L430.6,368.1 L429.8,368.8 L428.9,369.5 L427.9,369.8 L426.9,370.1 L425.7,370.0 L424.9,370.6 L423.9,371.0 L422.9,371.2 L421.9,371.5 L420.9,371.7 L419.9,372.0 L418.8,372.1 L417.9,372.9 L416.7,372.9 L415.7,373.6 L414.6,373.6 L413.5,374.3 L412.1,374.6 L411.7,375.8 L411.5,377.0 L411.3,378.0 L411.2,379.1 L411.1,380.1 L410.1,380.9 L409.3,381.8 L408.8,382.7 L409.5,384.0 L409.5,385.0 L409.7,386.1 L409.7,387.2 L409.7,388.3 L409.9,389.4 L409.3,390.3 L409.4,391.4 L408.4,392.3 L408.1,393.3 L406.9,394.0 L407.0,395.1 L406.5,396.1 L406.8,397.2 L406.6,398.2 L406.1,399.2 L405.9,400.2 L405.0,401.0 L405.4,402.2 L405.1,403.2 L405.7,404.4 L405.3,405.4 L404.0,406.0 L402.8,406.6"/><path d="M435.3,362.7 L436.3,362.6 L437.4,362.5 L438.4,362.2 L439.5,362.3 L440.5,362.2 L441.6,362.5 L442.6,361.9 L443.7,362.1 L444.6,361.2 L445.7,361.5 L446.7,361.4 L447.8,361.4 L448.7,361.0 L449.7,360.9 L450.7,360.7 L451.7,360.5 L452.5,359.8 L453.6,359.7 L454.5,359.2 L455.5,359.3 L456.5,358.9 L457.5,358.7 L458.4,358.5 L459.2,357.7 L460.1,357.2 L460.6,355.9 L461.7,355.8 L462.5,355.2 L463.5,355.0 L464.5,354.7 L465.3,354.0 L466.5,354.0 L467.2,353.1 L468.2,352.9 L469.3,352.8 L470.4,352.8 L471.5,352.6 L472.6,352.5 L473.7,352.4 L474.6,351.9 L475.4,351.2 L476.1,350.4 L477.0,349.8 L477.8,349.2 L478.6,348.6 L479.5,348.2 L480.5,347.8"/><path d="M359.2,250.2 L360.2,249.9 L361.1,249.4 L362.4,249.8 L363.0,248.5 L364.0,248.3 L364.7,247.3 L365.9,247.5 L366.8,247.0 L367.8,246.7 L368.6,246.1 L369.6,245.6 L370.5,245.2 L371.3,244.5 L372.3,244.1 L373.2,243.5 L374.3,243.6 L375.4,243.4 L376.3,243.0 L377.2,242.3 L378.2,242.0 L379.0,241.4 L380.0,240.9 L380.9,240.3 L381.8,239.9 L382.9,239.7 L383.8,239.1 L384.9,238.8 L385.5,237.8 L386.4,237.2 L387.0,236.2 L387.9,235.6 L389.1,235.4 L390.2,235.2 L391.3,235.0 L392.0,234.1 L392.9,233.5 L393.6,232.6 L394.6,232.2 L395.6,231.8 L396.6,231.4 L397.7,231.1 L398.6,230.5 L399.3,229.6 L400.0,228.7 L400.6,227.8 L401.8,227.8 L402.8,227.5 L403.7,227.1 L404.3,226.2 L405.0,225.5 L405.7,224.6 L406.6,223.8 L407.6,223.2 L408.6,223.8 L409.5,224.7 L410.5,225.0 L411.4,225.5 L412.3,225.8 L412.9,226.8 L413.7,227.4 L414.3,228.2 L415.1,228.9 L416.2,228.9 L417.2,228.3 L418.0,227.3 L418.7,226.3 L419.8,226.1 L421.0,226.2 L422.2,226.3 L423.3,226.2 L424.4,225.8 L425.5,225.5 L426.1,224.6 L426.8,223.7 L427.2,222.6 L427.8,221.7 L428.2,220.6 L429.0,219.9 L429.5,218.9 L430.7,218.6 L431.5,218.0 L432.4,217.4 L433.1,216.4 L433.4,215.1 L433.9,214.0"/><path d="M325.0,417.7 L326.1,418.1 L327.1,418.4 L328.2,418.4 L329.1,419.0 L330.1,419.6 L331.0,420.1 L332.0,420.4 L333.0,420.8 L334.1,421.1 L335.1,421.3 L336.1,421.7 L336.9,422.3 L337.7,422.9 L338.4,423.7 L339.3,424.1 L340.0,424.9 L340.7,425.6 L341.6,426.1 L342.4,426.7 L343.4,427.0 L344.4,427.4 L345.3,427.9 L346.2,428.3 L346.8,429.1 L347.7,429.6 L348.5,430.2 L349.5,430.6 L350.3,431.3 L351.0,432.0 L351.7,432.8 L352.6,433.2 L353.7,433.3 L354.3,434.3 L355.0,435.0 L355.7,435.7 L356.7,436.2 L357.7,436.2 L358.8,436.3 L359.9,435.9 L361.1,435.8 L362.1,435.3 L363.0,434.6 L364.2,434.6 L365.2,433.9 L366.3,434.3 L367.3,433.8 L368.4,433.5 L369.5,433.0 L370.6,433.1 L371.8,433.3 L372.8,433.8 L373.2,434.9 L373.2,436.0 L374.0,436.8 L374.5,437.7 L375.5,438.4 L375.9,439.3 L376.2,440.3 L376.4,441.4 L376.9,442.4 L377.5,443.4 L378.0,444.5 L378.1,445.6 L378.6,446.7 L378.8,447.8 L379.4,448.7 L380.1,449.5 L380.8,450.3 L381.2,451.2 L382.0,452.0 L382.7,453.1 L383.5,452.2 L384.4,451.5 L385.4,451.1 L386.0,450.3 L386.5,449.4 L386.9,448.3 L387.4,447.2 L388.5,447.0 L389.7,446.9 L390.8,447.1 L391.8,446.9 L392.7,446.5 L393.2,447.4 L393.6,448.5 L393.9,449.6 L394.2,450.7 L394.6,451.8 L395.1,452.9 L396.3,453.3 L397.5,453.2 L398.6,453.6 L399.8,453.6 L400.7,454.3 L401.8,454.6 L402.8,455.3 L403.9,454.8 L404.9,454.6 L405.9,454.0 L407.0,454.0 L408.1,453.9 L409.2,454.0 L410.3,453.8 L411.3,453.9 L412.4,454.1 L413.4,454.3 L414.3,454.8 L415.3,455.3 L416.3,455.3 L417.4,455.2 L418.6,454.9 L419.6,455.4 L420.5,456.0 L421.5,456.5 L422.4,457.1 L423.4,457.5 L424.1,458.5 L425.0,459.1 L425.9,459.8 L426.8,460.3 L427.6,461.0 L428.5,461.6 L429.5,462.1 L430.4,462.3 L431.2,461.7 L431.9,461.2 L433.1,461.3 L434.1,460.9 L435.1,460.8 L436.0,460.2 L436.7,459.5 L437.6,459.0 L438.5,458.5 L439.6,458.4 L440.5,457.9 L441.5,457.4 L442.5,457.0 L443.5,456.3 L444.6,455.9 L445.6,455.4 L446.8,455.1 L447.9,454.6 L449.1,455.1 L450.2,455.5 L451.3,455.8 L452.4,455.9 L453.3,456.9 L454.4,457.1 L455.5,457.5"/></g><path d="M10.5,154.0 L11.9,153.1 L13.4,152.3 L14.7,151.3 L16.2,150.5 L17.7,149.9 L19.2,149.1 L20.6,148.2 L22.1,147.5 L23.5,146.7 L25.2,146.3 L26.6,145.5 L28.0,144.5 L29.4,143.5 L30.7,142.5 L32.2,141.8 L33.7,141.1 L35.3,140.5 L36.7,139.6 L38.0,138.7 L39.4,137.8 L40.8,137.0 L42.3,136.3 L43.8,135.5 L45.2,134.7 L46.6,133.9 L48.1,133.2 L49.6,132.5 L51.0,131.6 L52.4,130.7 L53.6,129.5 L55.0,128.7 L56.4,127.8 L58.0,127.2 L59.4,126.4 L60.8,125.5 L62.2,124.7 L63.6,123.8 L65.1,123.2 L66.6,122.5 L68.2,121.9 L69.6,121.1 L71.1,120.3 L72.5,119.6 L73.9,118.7 L75.4,117.9 L76.8,116.8 L78.2,115.6 L79.6,114.6 L81.1,113.5 L82.7,112.7 L83.9,111.3 L85.2,110.2 L86.7,109.1 L88.4,108.5 L89.9,107.7 L91.6,107.1 L93.3,106.5 L95.0,105.9 L96.6,105.2 L96.5,103.0 L96.2,100.8 L96.3,98.6 L98.8,97.2 L101.0,97.4 L103.2,97.6 L103.2,99.5 L103.4,101.2 L104.9,101.0 L106.5,100.6 L108.2,100.3 L109.8,100.0 L111.4,99.4 L113.0,99.0 L114.6,98.4 L116.3,98.5 L118.0,98.3 L119.6,98.0 L121.2,97.4 L123.0,96.8 L123.3,98.6 L123.7,100.3 L123.7,102.0 L124.1,103.5 L124.4,105.1 L123.8,106.7 L123.1,108.4 L122.5,110.1 L123.1,111.9 L123.5,113.7 L123.9,115.5 L124.5,117.3 L125.2,118.9 L127.0,120.2 L128.6,121.5 L130.2,122.9 L131.9,123.0 L133.5,122.8 L135.2,122.4 L136.8,122.3 L138.4,122.3 L139.9,122.8 L141.6,123.2 L142.0,121.4 L142.2,119.5 L142.4,117.6 L142.7,115.8 L143.0,114.0 L144.5,113.2 L146.2,112.4 L148.0,112.1 L149.8,111.6 L151.6,111.3 L153.4,111.7 L155.2,112.2 L157.0,112.5 L158.7,113.3 L160.4,113.8 L162.0,114.9 L163.8,115.5 L165.4,116.3 L167.1,117.2 L168.7,118.0 L170.3,119.1 L172.2,119.7 L174.0,120.5 L175.9,120.9 L177.9,121.4 L178.2,123.1 L178.6,124.9 L178.8,126.7 L179.1,128.4 L179.3,130.1 L180.9,130.2 L182.4,130.5 L183.9,130.9 L185.5,131.4 L187.1,131.1 L188.6,130.7 L190.1,130.1 L191.7,129.9 L193.3,130.8 L195.0,131.8 L196.5,130.6 L197.9,129.6 L199.2,128.6 L200.6,127.7 L202.0,126.7 L203.5,125.9 L205.0,125.2 L206.4,124.4 L207.8,123.5 L209.2,122.7 L210.5,121.7 L212.0,120.9 L213.3,120.0 L214.8,119.3 L216.2,118.5 L217.7,117.7 L219.1,116.8 L220.4,115.7 L221.9,114.9 L223.3,113.9 L224.7,113.1 L226.0,111.9 L227.5,111.1 L228.9,110.1 L230.3,109.1 L231.3,107.8 L232.2,106.4 L233.2,105.1 L234.2,103.8 L235.4,102.7 L236.4,101.4 L236.1,99.3 L235.7,97.1 L237.4,97.3 L239.0,97.1 L240.8,97.4 L242.4,97.0 L244.2,97.0 L245.9,96.9 L247.6,97.0 L249.3,97.0 L250.9,96.7 L252.6,96.5 L253.3,98.0 L254.0,99.5 L256.0,99.6 L258.1,99.9 L260.2,100.1 L261.4,98.4 L262.6,96.7 L264.0,95.1 L263.2,93.4 L262.4,91.7 L261.7,90.0 L261.3,88.4 L260.8,86.7 L260.1,85.1 L259.4,83.5 L259.2,81.7 L258.8,79.9 L260.7,79.2 L262.5,78.6 L264.2,77.8 L265.9,77.0 L267.7,76.2 L269.3,75.7 L270.9,75.5 L272.5,75.2 L274.2,74.9 L275.7,74.4 L277.4,74.0 L279.2,73.5 L279.5,75.4 L280.0,77.1 L280.3,78.8 L279.9,80.4 L279.5,81.9 L279.3,83.5 L278.9,85.2 L280.9,84.8 L282.5,84.9 L284.3,84.9 L286.0,84.9 L287.8,84.9 L290.0,84.8 L291.9,85.4 L294.0,86.0 L295.4,84.3 L297.1,82.8 L298.4,81.4 L300.0,80.2 L301.1,78.4 L302.0,77.0 L302.8,75.5 L303.9,74.2 L304.9,72.9 L306.4,71.2 L307.9,69.6 L310.7,68.5 L312.3,69.1 L314.0,69.7 L315.7,70.3 L317.2,71.8 L318.9,73.1 L319.3,74.8 L319.8,76.5 L319.8,78.2 L319.1,79.8 L318.2,81.3 L316.7,83.9 L314.7,84.0 L312.7,84.2 L310.6,84.1 L309.6,86.0 L310.0,88.2 L311.8,88.8 L313.7,89.4 L315.3,88.9 L317.0,88.6 L318.6,88.3 L320.6,88.5 L322.5,88.6 L324.0,87.7 L325.5,86.8 L327.4,88.7 L328.4,90.1 L329.4,91.6 L331.4,92.1 L332.4,90.9 L333.4,89.6 L334.7,88.2 L336.0,87.0 L337.6,85.9 L338.8,84.7 L340.1,83.5 L341.0,82.0 L341.7,79.9 L342.2,77.8 L343.1,76.2 L343.7,74.5 L344.3,73.0 L346.2,72.3 L347.2,73.8 L348.2,75.3 L351.0,75.9 L351.5,77.6 L351.9,79.3 L352.2,81.1 L353.0,82.6 L354.1,84.2 L353.8,86.4 L353.2,88.7 L352.0,90.6 L350.6,92.5 L351.8,94.1 L353.0,95.6 L354.4,97.2 L355.8,98.7 L356.6,100.2 L357.4,101.6 L357.8,103.2 L358.2,105.0 L358.8,106.6 L360.9,107.5 L363.0,108.6 L364.9,107.9 L366.9,107.6 L368.4,108.1 L369.8,108.5 L370.8,109.9 L371.7,111.2 L372.6,112.7 L372.6,114.4 L372.5,116.0 L372.9,117.8 L373.3,119.6 L375.2,119.2 L376.8,119.1 L378.5,118.9 L380.1,118.8 L381.8,118.8 L383.4,118.8 L385.1,118.9 L387.6,117.5 L389.3,118.2 L390.9,118.3 L392.5,118.9 L394.3,118.8 L395.9,119.1 L397.4,119.3 L398.1,117.4 L399.0,115.6 L399.8,113.6 L401.6,113.3 L403.2,112.8 L404.8,112.3 L406.4,111.8 L408.1,112.6 L409.7,113.4 L411.3,114.1 L412.1,115.6 L413.1,117.1 L414.2,118.6 L415.1,120.2 L415.4,122.1 L415.5,124.0 L415.9,125.9 L416.3,127.8 L417.9,128.4 L419.3,129.2 L420.7,129.8 L422.1,130.7 L423.6,131.4 L425.0,132.2 L426.3,133.1 L427.7,133.9 L429.4,134.7 L431.1,135.5 L432.7,136.3 L434.5,136.3 L436.2,136.1 L438.0,136.0 L439.7,135.7 L441.4,135.5 L442.7,136.6 L443.9,137.7 L445.4,138.8 L446.0,140.4 L446.7,141.9 L448.1,141.5 L449.6,141.1 L451.1,140.7 L452.7,140.2 L453.8,141.7 L454.9,143.2 L455.9,144.7 L455.1,146.0 L454.3,147.4 L453.6,148.8 L452.9,150.2 L453.7,152.1 L454.4,154.1 L453.0,155.4 L451.5,156.5 L450.2,157.7 L449.8,159.4 L449.2,161.0 L448.6,162.7 L447.6,164.2 L447.0,166.0 L446.2,167.7 L446.5,169.7 L446.5,171.6 L446.5,173.4 L446.6,175.3 L445.7,176.7 L444.7,177.9 L443.4,179.0 L442.3,180.2 L441.4,181.7 L440.8,183.4 L440.1,185.0 L441.3,186.3 L442.5,187.5 L441.4,188.6 L440.3,189.7 L439.2,190.9 L438.3,192.2 L437.4,193.6 L436.3,195.6 L435.1,197.4 L433.8,198.7 L432.5,199.8 L431.1,201.1 L429.9,203.1 L428.9,205.1 L429.1,207.2 L429.3,209.2 L429.1,211.3 L430.0,212.9 L430.5,214.7 L431.4,216.3 L433.9,217.6 L434.1,219.4 L434.6,221.1 L434.8,222.9 L435.2,224.5 L435.1,226.5 L436.8,226.4 L438.6,226.3 L440.2,226.1 L441.9,225.7 L443.6,225.5 L445.2,225.1 L446.5,223.9 L447.7,222.5 L449.4,223.9 L451.1,225.0 L452.7,226.3 L454.6,226.2 L456.5,225.9 L458.4,225.5 L460.3,225.1 L462.2,225.8 L464.0,226.5 L465.9,227.1 L467.8,227.7 L469.7,227.6 L471.6,227.7 L473.4,227.8 L475.3,227.9 L476.8,228.1 L478.4,228.3 L480.1,228.5 L481.7,228.8 L482.1,230.5 L482.4,232.2 L482.7,234.0 L484.6,234.2 L486.6,234.2 L488.4,234.2 L490.2,234.0 L491.3,235.2 L492.3,236.4 L493.3,237.7 L494.4,238.8 L495.5,240.1 L496.8,241.7 L497.9,243.5 L499.2,245.1 L500.0,246.6 L500.9,248.1 L501.6,249.6 L502.5,250.9 L503.3,252.2 L504.8,252.5 L506.4,252.9 L508.0,253.6 L509.6,254.0 L511.2,254.4 L513.0,254.7 L512.1,256.1 L511.3,257.5 L510.4,258.9 L509.2,260.2 L507.8,261.4 L506.5,262.6 L505.3,263.9 L504.0,265.8 L502.8,267.7 L503.1,269.3 L503.3,270.9 L503.8,272.4 L504.1,274.0 L504.7,275.8 L505.6,277.4 L506.3,279.3 L508.5,280.3 L510.3,281.7 L512.0,281.6 L513.7,281.8 L515.4,281.9 L517.1,281.6 L518.7,281.6 L520.4,281.5 L522.0,282.5 L523.7,283.2 L525.3,284.1 L525.6,285.6 L526.1,287.1 L526.4,288.7 L527.0,290.2 L527.7,291.9 L528.7,293.5 L529.4,295.3 L529.0,297.2 L528.5,299.0 L528.1,300.9 L527.6,302.8 L528.0,304.9 L528.4,307.0 L528.7,309.2 L530.7,310.6 L532.6,311.9 L533.7,313.9 L534.9,316.1 L533.4,317.7 L532.0,319.5 L530.2,320.8 L528.5,321.1 L526.8,321.4 L525.1,321.8 L523.5,322.2 L521.7,322.6 L520.7,323.9 L519.6,325.2 L518.8,326.6 L517.7,327.8 L516.7,329.0 L515.5,330.1 L514.3,331.4 L513.1,332.7 L511.8,333.9 L510.6,335.2 L509.4,336.5 L508.1,337.7 L506.9,339.1 L505.6,340.3 L504.7,341.8 L504.0,343.6 L503.0,345.1 L502.2,346.9 L501.1,348.4 L500.2,350.1 L499.5,352.0 L499.0,353.9 L499.7,355.8 L500.4,357.7 L499.1,358.9 L497.9,360.0 L495.4,358.8 L494.2,357.0 L493.0,355.1 L491.3,353.9 L489.7,352.5 L488.0,351.3 L486.4,350.7 L484.6,350.3 L482.9,349.9 L481.2,350.3 L479.4,350.6 L477.8,351.1 L475.9,352.5 L474.1,353.9 L473.7,355.9 L473.4,358.0 L472.2,359.7 L470.7,361.3 L469.3,362.9 L467.3,364.0 L465.4,365.3 L464.6,367.0 L463.8,368.6 L462.7,370.2 L462.2,371.8 L461.4,373.4 L461.3,375.1 L460.9,376.8 L460.7,378.5 L460.3,380.2 L459.5,381.7 L458.8,383.2 L458.2,384.9 L457.8,386.5 L457.6,388.1 L457.5,389.7 L457.1,391.3 L456.8,392.9 L455.4,394.5 L454.1,396.2 L452.6,397.7 L451.8,399.4 L450.7,400.9 L450.1,402.7 L449.3,404.2 L449.0,405.9 L448.3,407.4 L447.7,409.0 L446.5,410.5 L445.3,412.0 L446.5,414.0 L447.4,416.0 L447.0,418.0 L446.5,420.0 L446.5,421.7 L446.6,423.4 L446.7,425.1 L447.9,426.7 L449.2,428.4 L450.4,430.1 L451.2,431.8 L452.2,433.4 L453.1,435.0 L453.9,436.7 L454.6,438.5 L455.3,440.3 L456.2,441.9 L457.0,443.6 L457.8,445.3 L459.5,446.5 L461.2,447.7 L462.9,448.9 L464.2,450.8 L465.4,452.7 L465.9,454.3 L466.4,456.0 L467.0,457.5 L468.1,458.8 L469.1,460.2 L469.0,461.8 L468.5,463.3 L467.9,464.8 L467.4,466.3 L466.9,467.9 L466.4,469.5 L466.0,471.1 L465.4,472.7 L465.2,474.4 L464.5,476.0 L464.1,477.7 L463.6,479.4 L463.3,481.1 L462.9,482.8 L461.4,483.4 L459.8,484.0 L458.2,484.6 L456.7,485.2 L455.0,484.9 L453.4,484.4 L451.7,483.9 L450.1,484.1 L448.5,484.6 L447.0,485.0 L445.4,485.3 L443.5,485.8 L441.5,486.2 L439.7,487.0 L437.8,487.7 L436.2,488.5 L434.5,489.3 L432.7,490.1 L431.3,491.7 L430.2,493.4 L429.1,495.0 L427.9,494.0 L426.7,492.6 L425.1,492.2 L423.5,491.9 L421.9,491.9 L420.3,491.8 L418.7,492.7 L417.0,493.2 L415.3,493.9 L413.7,494.6 L412.3,495.4 L410.7,496.2 L409.3,496.8 L408.0,497.5 L407.7,495.6 L406.9,493.9 L406.8,492.1 L406.0,490.5 L405.8,488.8 L405.0,487.1 L404.9,485.4 L404.3,483.9 L404.4,482.2 L404.3,480.6 L404.3,478.9 L403.3,477.3 L402.4,475.6 L401.4,474.1 L400.3,472.7 L399.0,471.6 L397.8,470.3 L395.7,470.3 L393.6,470.5 L391.5,470.4 L389.9,471.3 L388.2,472.0 L386.4,472.8 L386.5,471.0 L386.7,469.2 L386.8,467.5 L386.9,465.7 L386.9,463.8 L385.6,462.5 L384.3,461.1 L382.9,459.9 L381.1,458.8 L379.4,457.6 L377.7,456.3 L375.9,456.0 L373.9,455.8 L372.0,455.7 L370.2,455.4 L368.3,454.7 L366.4,454.0 L364.6,453.3 L362.8,452.6 L361.5,450.8 L360.1,448.9 L358.8,447.3 L357.6,445.6 L356.5,443.8 L354.9,442.8 L353.4,441.8 L351.7,441.1 L350.2,440.2 L348.7,439.5 L347.2,438.5 L345.8,437.7 L344.2,437.0 L342.6,436.4 L340.9,436.2 L339.2,435.8 L337.6,435.2 L335.9,435.2 L334.3,435.0 L332.6,435.1 L330.9,434.9 L329.3,434.9 L327.6,435.1 L325.9,434.3 L324.2,433.5 L322.6,432.6 L322.5,430.8 L322.6,428.9 L322.7,427.0 L322.9,425.1 L323.2,423.6 L323.5,422.0 L323.8,420.5 L323.9,418.9 L325.3,417.7 L326.4,416.4 L327.8,415.1 L327.1,413.4 L326.4,411.5 L325.3,410.0 L324.3,408.4 L323.1,407.0 L322.3,405.4 L320.3,404.3 L318.6,402.9 L316.9,401.6 L315.5,400.0 L313.9,398.8 L314.7,396.9 L315.3,395.1 L315.9,393.2 L316.5,391.3 L316.9,389.3 L317.5,387.5 L318.2,385.6 L319.3,383.9 L319.9,382.0 L320.3,380.1 L321.7,377.7 L321.8,375.7 L322.3,373.9 L322.6,372.1 L323.1,370.2 L324.3,368.6 L325.5,366.9 L326.7,365.2 L326.7,363.5 L326.7,361.9 L326.6,360.2 L325.4,359.0 L324.1,357.8 L323.0,356.5 L321.3,356.4 L319.6,356.2 L317.9,356.2 L316.2,357.5 L314.5,358.9 L312.8,360.1 L311.6,361.4 L310.6,362.9 L309.5,364.3 L308.5,365.8 L307.1,366.9 L306.1,368.4 L304.9,369.5 L303.5,370.5 L302.7,372.3 L301.9,374.0 L301.3,375.9 L300.6,377.7 L300.6,379.6 L300.6,381.4 L300.4,383.3 L300.5,385.2 L300.0,386.8 L299.8,388.4 L299.3,389.8 L298.9,391.3 L296.8,391.4 L294.8,391.7 L292.8,392.6 L291.0,393.5 L289.3,394.4 L287.3,394.8 L285.4,395.3 L283.9,396.1 L282.4,397.0 L281.0,397.8 L279.6,398.8 L278.1,399.6 L276.7,400.6 L275.2,401.4 L273.4,402.0 L271.5,402.7 L269.6,403.2 L267.8,403.9 L266.0,403.0 L264.1,402.7 L262.2,402.2 L260.2,401.8 L258.3,401.6 L256.5,401.2 L254.7,400.6 L252.8,400.2 L251.0,399.5 L249.0,399.1 L247.2,398.4 L245.3,397.8 L243.7,398.0 L242.1,398.1 L240.5,398.6 L238.8,398.4 L237.2,398.7 L235.6,398.5 L234.0,399.1 L232.4,397.7 L230.6,396.6 L229.1,395.1 L227.2,393.9 L225.1,392.8 L225.0,390.8 L224.8,388.5 L225.1,386.5 L226.9,385.3 L228.8,384.3 L230.3,382.8 L232.0,382.1 L233.5,381.0 L235.4,380.3 L235.3,378.2 L235.3,376.1 L235.1,374.0 L234.4,372.3 L233.6,370.6 L232.8,368.9 L231.5,367.6 L230.3,366.4 L229.0,365.1 L227.3,364.4 L225.7,363.5 L223.9,362.7 L224.5,360.8 L225.2,358.9 L225.9,357.1 L226.5,355.2 L226.7,353.5 L226.6,351.7 L226.4,349.9 L226.0,348.1 L226.1,346.3 L227.4,344.5 L228.9,343.0 L230.1,341.3 L231.7,340.6 L233.2,339.7 L234.8,339.0 L234.8,337.0 L235.1,335.1 L233.2,334.1 L231.5,332.7 L229.6,334.2 L227.7,335.3 L224.9,334.3 L224.5,332.1 L224.0,330.1 L223.6,328.4 L223.2,326.7 L222.7,325.1 L221.0,323.8 L219.4,322.5 L217.8,321.2 L216.2,320.2 L214.4,319.6 L212.7,318.8 L211.0,317.7 L209.4,316.2 L207.8,314.7 L205.8,314.9 L203.8,315.0 L201.9,315.3 L200.1,315.9 L198.6,316.8 L197.1,317.8 L195.7,318.6 L194.2,319.6 L192.6,320.4 L190.8,319.9 L189.1,319.1 L187.4,318.6 L185.7,317.8 L183.9,317.5 L182.4,316.7 L180.7,316.4 L179.2,315.7 L177.6,315.2 L175.7,315.5 L173.9,315.9 L172.1,316.3 L170.3,316.5 L169.9,318.1 L169.4,319.7 L168.9,321.3 L167.5,323.2 L166.3,325.1 L165.0,323.5 L163.5,321.9 L162.4,320.2 L162.1,318.5 L162.0,316.7 L161.6,315.0 L161.2,313.4 L160.8,311.7 L160.5,310.0 L160.5,308.4 L160.6,306.8 L160.5,305.1 L160.6,303.5 L160.6,301.9 L160.8,300.3 L160.6,298.4 L160.4,296.4 L160.1,294.5 L159.8,292.5 L158.3,290.9 L156.8,289.3 L155.3,287.9 L153.5,287.3 L152.0,286.3 L150.3,285.5 L148.7,284.5 L147.1,283.6 L145.4,282.7 L143.5,282.6 L141.5,282.5 L139.5,282.3 L137.5,281.9 L137.2,280.0 L136.8,278.3 L136.5,276.6 L134.7,276.7 L132.9,276.7 L131.1,277.7 L129.6,279.2 L127.8,280.2 L126.0,281.0 L124.0,281.5 L122.2,282.4 L120.3,283.1 L118.2,281.9 L116.5,280.3 L115.3,279.3 L114.0,278.2 L112.7,277.3 L111.5,276.3 L110.2,275.3 L109.8,273.6 L109.1,271.9 L108.8,270.2 L108.7,268.5 L108.8,266.8 L108.5,265.2 L108.4,263.5 L108.2,261.8 L108.1,260.1 L107.4,258.3 L106.8,256.4 L106.1,254.5 L105.5,252.7 L105.1,250.8 L104.9,248.9 L104.5,247.1 L104.1,245.2 L103.5,243.3 L103.3,241.4 L102.9,239.6 L102.9,237.5 L100.9,236.3 L99.1,235.0 L97.8,233.4 L96.6,231.7 L95.4,230.0 L94.6,228.3 L93.8,226.7 L92.7,225.1 L92.0,223.4 L91.2,221.6 L90.4,219.7 L88.4,219.8 L86.5,219.8 L84.9,220.1 L83.3,220.4 L81.7,220.8 L80.1,221.3 L78.5,222.1 L76.8,223.0 L75.2,223.8 L73.3,224.4 L71.4,224.9 L69.5,225.5 L67.6,226.1 L66.0,227.6 L64.5,229.0 L62.9,230.3 L62.5,231.9 L61.7,233.3 L61.1,234.9 L60.1,236.3 L58.7,238.1 L57.5,239.9 L55.8,239.1 L53.9,238.8 L52.0,237.6 L50.0,236.5 L48.5,235.9 L46.9,235.3 L45.5,234.5 L43.9,233.9 L43.5,232.2 L42.8,230.7 L42.2,229.1 L41.4,227.6 L40.4,226.1 L39.4,224.5 L38.5,223.0 L37.7,221.4 L36.1,220.0 L34.4,218.7 L32.6,217.6 L30.9,216.4 L29.0,215.4 L27.5,214.0 L25.9,213.3 L24.5,212.5 L22.9,211.8 L21.4,211.0 L19.8,210.3 L18.8,208.6 L17.7,206.9 L16.9,205.1 L17.1,203.2 L17.4,201.3 L17.5,199.4 L17.6,197.5 L17.2,195.4 L16.9,193.4 L16.4,191.3 L17.8,189.5 L19.0,187.5 L19.2,185.9 L19.3,184.2 L19.5,182.6 L20.0,181.0 L18.9,179.3 L17.6,177.7 L16.8,176.1 L16.0,174.5 L15.5,172.7 L15.0,171.0 L14.8,169.1 L14.4,167.2 L13.9,165.3 L13.4,163.6 L13.1,161.8 L12.8,160.0 L12.3,158.5 L11.8,157.0 L11.1,155.5Z" fill="none" stroke="#262626" stroke-width="2" stroke-linejoin="round"/><ellipse cx="0" cy="0" rx="3.4" ry="2.6" transform="translate(331.9,81.7) rotate(-45)" fill="#262626"/></g><rect x="563" y="96.00" width="26" height="50.00" fill="#a50026"/><rect x="563" y="145.40" width="26" height="50.00" fill="#e34a33"/><rect x="563" y="194.80" width="26" height="50.00" fill="#f99d59"/><rect x="563" y="244.20" width="26" height="50.00" fill="#fee597"/><rect x="563" y="293.60" width="26" height="50.00" fill="#e8f5e8"/><rect x="563" y="343.00" width="26" height="50.00" fill="#a6d3e6"/><rect x="563" y="392.40" width="26" height="50.00" fill="#5a8dc5"/><rect x="563" y="441.80" width="26" height="50.00" fill="#303695"/><text x="601" y="101.30" font-family="'Liberation Sans', Arial, Helvetica, sans-serif" font-size="14.4px" fill="#000">4.5</text><text x="601" y="150.70" font-family="'Liberation Sans', Arial, Helvetica, sans-serif" font-size="14.4px" fill="#000">4</text><text x="601" y="200.10" font-family="'Liberation Sans', Arial, Helvetica, sans-serif" font-size="14.4px" fill="#000">3.5</text><text x="601" y="249.50" font-family="'Liberation Sans', Arial, Helvetica, sans-serif" font-size="14.4px" fill="#000">3</text><text x="601" y="298.90" font-family="'Liberation Sans', Arial, Helvetica, sans-serif" font-size="14.4px" fill="#000">2.5</text><text x="601" y="348.30" font-family="'Liberation Sans', Arial, Helvetica, sans-serif" font-size="14.4px" fill="#000">2</text><text x="601" y="397.70" font-family="'Liberation Sans', Arial, Helvetica, sans-serif" font-size="14.4px" fill="#000">1.5</text><text x="601" y="447.10" font-family="'Liberation Sans', Arial, Helvetica, sans-serif" font-size="14.4px" fill="#000">1</text><text x="601" y="496.50" font-family="'Liberation Sans', Arial, Helvetica, sans-serif" font-size="14.4px" fill="#000">0.5</text><text transform="translate(617.2,73.8) scale(1,1.07)" font-family="'Liberation Sans', Arial, Helvetica, sans-serif" font-size="14.15px" font-weight="bold" fill="#000">°C</text><rect x="1203" y="96.00" width="26" height="44.58" fill="#a50026"/><rect x="1203" y="139.98" width="26" height="44.58" fill="#d73027"/><rect x="1203" y="183.96" width="26" height="44.58" fill="#f46d43"/><rect x="1203" y="227.94" width="26" height="44.58" fill="#fba35e"/><rect x="1203" y="271.92" width="26" height="44.58" fill="#fdd487"/><rect x="1203" y="315.90" width="26" height="44.58" fill="#fff6b8"/><rect x="1203" y="359.88" width="26" height="44.58" fill="#e8f4e4"/><rect x="1203" y="403.86" width="26" height="44.58" fill="#c3e2ef"/><rect x="1203" y="447.84" width="26" height="44.58" fill="#92c5de"/><text x="1240.2" y="101.30" font-family="'Liberation Sans', Arial, Helvetica, sans-serif" font-size="14.4px" fill="#000">3</text><text x="1240.2" y="145.28" font-family="'Liberation Sans', Arial, Helvetica, sans-serif" font-size="14.4px" fill="#000">2.5</text><text x="1240.2" y="189.26" font-family="'Liberation Sans', Arial, Helvetica, sans-serif" font-size="14.4px" fill="#000">2</text><text x="1240.2" y="233.24" font-family="'Liberation Sans', Arial, Helvetica, sans-serif" font-size="14.4px" fill="#000">1.5</text><text x="1240.2" y="277.22" font-family="'Liberation Sans', Arial, Helvetica, sans-serif" font-size="14.4px" fill="#000">1</text><text x="1240.2" y="321.20" font-family="'Liberation Sans', Arial, Helvetica, sans-serif" font-size="14.4px" fill="#000">0.5</text><text x="1240.2" y="365.18" font-family="'Liberation Sans', Arial, Helvetica, sans-serif" font-size="14.4px" fill="#000">0</text><text x="1240.2" y="409.16" font-family="'Liberation Sans', Arial, Helvetica, sans-serif" font-size="14.4px" fill="#000">-0.5</text><text x="1240.2" y="453.14" font-family="'Liberation Sans', Arial, Helvetica, sans-serif" font-size="14.4px" fill="#000">-1</text><text x="1240.2" y="497.12" font-family="'Liberation Sans', Arial, Helvetica, sans-serif" font-size="14.4px" fill="#000">-1.5</text><text transform="translate(1216.95,73.8) scale(1,1.07)" font-family="'Liberation Sans', Arial, Helvetica, sans-serif" font-size="14.15px" font-weight="bold" fill="#000">Ecart</text><text transform="translate(1256.98,73.8) scale(1,1.07)" font-family="'Liberation Sans', Arial, Helvetica, sans-serif" font-size="14.15px" font-weight="bold" fill="#000">°C</text></svg>
</body></html>
